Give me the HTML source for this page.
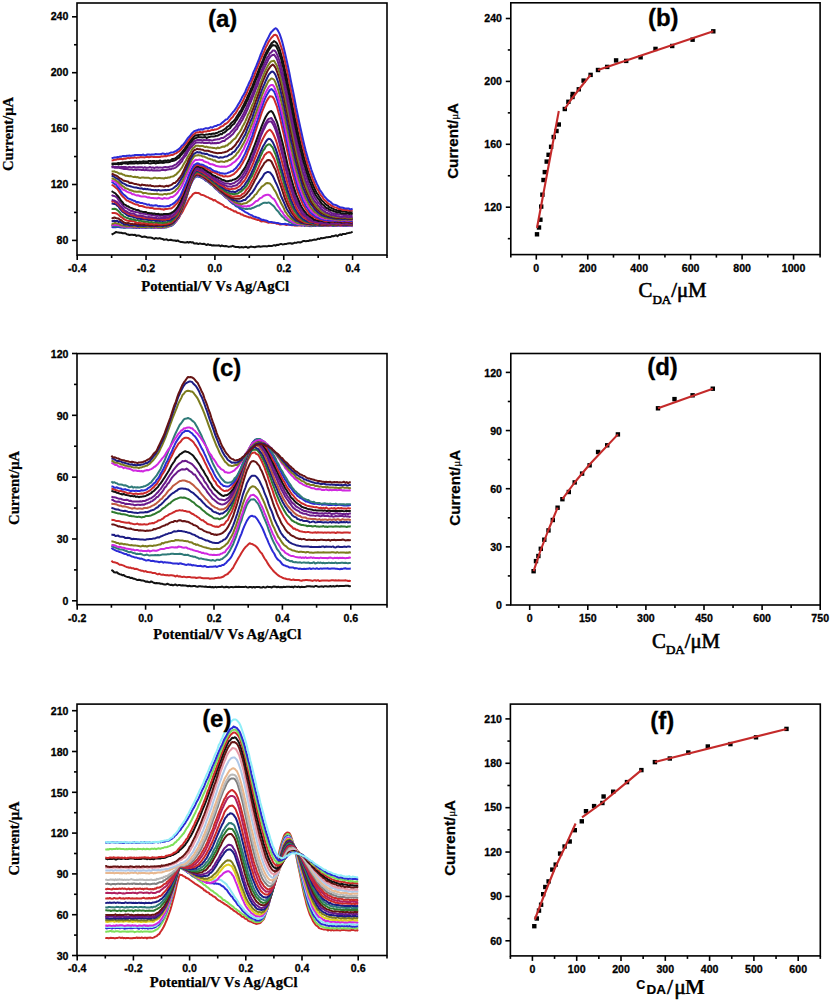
<!DOCTYPE html>
<html><head><meta charset="utf-8"><style>
html,body{margin:0;padding:0;background:#fff;}
body{width:831px;height:1000px;overflow:hidden;}
svg{display:block;}
.tk{font-family:"Liberation Sans", sans-serif;font-weight:bold;font-size:10.6px;fill:#000;stroke:#000;stroke-width:0.3px;}
.pl{font-family:"Liberation Sans", sans-serif;font-weight:bold;font-size:24px;fill:#000;stroke:#000;stroke-width:0.3px;}
.st{font-family:"Liberation Serif", serif;font-weight:bold;font-size:14.7px;fill:#000;stroke:#000;stroke-width:0.25px;}
.ss{font-family:"Liberation Sans", sans-serif;font-weight:bold;font-size:15.2px;fill:#000;stroke:#000;stroke-width:0.25px;}
.cx{font-family:"Liberation Serif", serif;font-size:20.8px;fill:#000;stroke:#000;stroke-width:0.6px;}
</style></head><body>
<svg width="831" height="1000" viewBox="0 0 831 1000">

<polyline points="111.6,234.7 113.0,233.8 114.4,233.2 115.8,232.0 117.1,232.3 118.5,232.5 119.9,232.8 121.3,232.8 122.6,233.3 124.0,233.3 125.4,233.3 126.8,234.3 128.1,234.5 129.5,235.0 130.9,234.7 132.3,234.7 133.7,234.9 135.0,234.8 136.4,235.9 137.8,235.4 139.2,235.6 140.5,236.2 141.9,237.0 143.3,236.8 144.7,236.6 146.1,236.9 147.4,237.6 148.8,237.5 150.2,237.4 151.6,237.8 152.9,238.3 154.3,238.9 155.7,238.0 157.1,238.4 158.4,238.5 159.8,238.1 161.2,238.8 162.6,238.9 164.0,239.8 165.3,239.6 166.7,239.2 168.1,240.2 169.5,240.0 170.8,239.7 172.2,240.3 173.6,240.4 175.0,240.5 176.3,241.0 177.7,240.4 179.1,241.3 180.5,241.9 181.9,242.0 183.2,242.2 184.6,242.4 186.0,242.6 187.4,241.9 188.7,242.7 190.1,241.9 191.5,242.5 192.9,242.2 194.2,243.4 195.6,243.6 197.0,243.3 198.4,244.1 199.8,243.4 201.1,243.8 202.5,244.0 203.9,243.7 205.3,244.4 206.6,245.1 208.0,244.2 209.4,245.0 210.8,244.8 212.1,245.6 213.5,245.3 214.9,245.5 216.3,245.6 217.7,245.6 219.0,245.2 220.4,246.3 221.8,245.4 223.2,246.1 224.5,246.3 225.9,246.0 227.3,246.4 228.7,246.9 230.0,246.6 231.4,246.4 232.8,245.8 234.2,246.6 235.6,246.9 236.9,247.0 238.3,247.0 239.7,247.5 241.1,247.1 242.4,247.2 243.8,247.4 245.2,246.8 246.6,247.0 247.9,247.8 249.3,247.3 250.7,246.5 252.1,246.8 253.5,247.0 254.8,247.2 256.2,246.7 257.6,246.4 259.0,246.3 260.3,246.7 261.7,246.6 263.1,246.2 264.5,246.3 265.8,246.2 267.2,246.4 268.6,245.8 270.0,246.0 271.4,246.0 272.7,245.7 274.1,245.1 275.5,245.7 276.9,244.8 278.2,245.0 279.6,244.4 281.0,243.9 282.4,244.4 283.8,244.3 285.1,244.0 286.5,243.9 287.9,243.4 289.3,243.2 290.6,243.3 292.0,243.8 293.4,243.3 294.8,242.6 296.1,242.9 297.5,242.3 298.9,242.2 300.3,242.5 301.7,241.8 303.0,241.1 304.4,241.1 305.8,241.2 307.2,241.0 308.5,241.1 309.9,240.2 311.3,240.4 312.7,240.1 314.0,239.6 315.4,239.7 316.8,239.4 318.2,238.6 319.6,239.1 320.9,238.0 322.3,238.2 323.7,237.9 325.1,237.8 326.4,237.2 327.8,237.2 329.2,236.9 330.6,237.0 331.9,236.1 333.3,236.2 334.7,235.8 336.1,235.2 337.5,236.3 338.8,235.1 340.2,234.3 341.6,235.0 343.0,233.9 344.3,234.1 345.7,234.0 347.1,233.2 348.5,233.0 349.8,232.7 351.2,232.5 352.6,231.7" fill="none" stroke="#111111" stroke-width="2.0" stroke-linejoin="round"/>
<polyline points="111.6,225.2 113.0,225.2 114.4,225.3 115.8,225.2 117.1,225.7 118.5,225.7 119.9,225.7 121.3,226.1 122.6,225.9 124.0,226.3 125.4,226.4 126.8,226.7 128.1,226.9 129.5,226.6 130.9,226.6 132.3,226.3 133.7,226.7 135.0,226.8 136.4,226.8 137.8,226.5 139.2,227.2 140.5,227.0 141.9,226.7 143.3,226.6 144.7,226.6 146.1,226.7 147.4,226.7 148.8,226.8 150.2,226.9 151.6,227.0 152.9,227.0 154.3,226.7 155.7,226.8 157.1,226.6 158.4,226.5 159.8,227.1 161.2,226.5 162.6,227.0 164.0,226.3 165.3,226.3 166.7,226.3 168.1,225.7 169.5,225.4 170.8,224.7 172.2,224.0 173.6,223.2 175.0,222.0 176.3,221.2 177.7,219.1 179.1,217.7 180.5,214.5 181.9,212.8 183.2,210.4 184.6,207.5 186.0,205.1 187.4,202.3 188.7,199.6 190.1,197.5 191.5,196.2 192.9,194.1 194.2,193.3 195.6,192.8 197.0,193.1 198.4,193.0 199.8,193.7 201.1,194.8 202.5,194.9 203.9,195.4 205.3,196.1 206.6,196.9 208.0,197.3 209.4,198.3 210.8,198.8 212.1,199.3 213.5,200.4 214.9,200.1 216.3,201.3 217.7,202.3 219.0,202.8 220.4,203.7 221.8,204.4 223.2,205.1 224.5,206.7 225.9,206.9 227.3,207.5 228.7,208.6 230.0,208.9 231.4,209.9 232.8,210.4 234.2,211.4 235.6,211.3 236.9,212.5 238.3,213.0 239.7,213.2 241.1,214.4 242.4,214.5 243.8,215.6 245.2,215.9 246.6,216.5 247.9,216.8 249.3,217.5 250.7,217.3 252.1,218.2 253.5,218.5 254.8,219.1 256.2,219.4 257.6,220.0 259.0,220.0 260.3,221.0 261.7,221.5 263.1,221.1 264.5,221.5 265.8,221.9 267.2,222.4 268.6,222.8 270.0,222.3 271.4,222.7 272.7,222.8 274.1,223.0 275.5,223.1 276.9,223.8 278.2,223.6 279.6,224.4 281.0,224.4 282.4,224.1 283.8,224.2 285.1,224.5 286.5,225.1 287.9,224.6 289.3,224.6 290.6,225.0 292.0,225.2 293.4,225.1 294.8,225.7 296.1,225.4 297.5,225.6 298.9,225.3 300.3,225.5 301.7,225.5 303.0,225.1 304.4,225.7 305.8,225.2 307.2,225.7 308.5,225.3 309.9,226.2 311.3,225.8 312.7,225.9 314.0,225.9 315.4,225.4 316.8,225.1 318.2,225.6 319.6,225.9 320.9,225.6 322.3,225.8 323.7,225.8 325.1,225.2 326.4,225.6 327.8,226.0 329.2,225.3 330.6,225.0 331.9,225.4 333.3,225.3 334.7,225.5 336.1,225.2 337.5,225.4 338.8,224.8 340.2,225.6 341.6,225.7 343.0,225.7 344.3,225.0 345.7,225.4 347.1,224.6 348.5,225.4 349.8,225.3 351.2,225.1 352.6,225.4" fill="none" stroke="#cc2a2a" stroke-width="2.0" stroke-linejoin="round"/>
<polyline points="111.6,227.0 113.0,227.3 114.4,227.1 115.8,227.2 117.1,226.7 118.5,226.9 119.9,227.2 121.3,227.4 122.6,227.4 124.0,227.8 125.4,227.2 126.8,227.4 128.1,227.5 129.5,227.4 130.9,227.6 132.3,227.4 133.7,227.9 135.0,227.5 136.4,227.9 137.8,227.6 139.2,228.0 140.5,227.3 141.9,227.8 143.3,227.6 144.7,227.7 146.1,228.0 147.4,227.4 148.8,227.4 150.2,227.5 151.6,227.8 152.9,227.3 154.3,227.7 155.7,227.4 157.1,227.4 158.4,227.6 159.8,227.8 161.2,227.5 162.6,227.4 164.0,227.5 165.3,227.2 166.7,226.4 168.1,226.6 169.5,226.3 170.8,226.0 172.2,225.4 173.6,224.0 175.0,222.5 176.3,220.6 177.7,218.8 179.1,216.5 180.5,213.7 181.9,209.9 183.2,206.6 184.6,202.8 186.0,199.0 187.4,194.4 188.7,190.1 190.1,186.2 191.5,182.9 192.9,179.9 194.2,178.1 195.6,176.8 197.0,176.3 198.4,176.7 199.8,176.7 201.1,177.6 202.5,178.1 203.9,179.1 205.3,180.3 206.6,181.0 208.0,181.5 209.4,183.0 210.8,184.1 212.1,185.0 213.5,186.4 214.9,188.0 216.3,189.4 217.7,190.1 219.0,191.7 220.4,193.0 221.8,193.6 223.2,195.1 224.5,196.3 225.9,197.6 227.3,198.3 228.7,199.8 230.0,201.3 231.4,202.5 232.8,203.7 234.2,204.2 235.6,205.8 236.9,206.5 238.3,207.0 239.7,208.5 241.1,209.1 242.4,210.2 243.8,210.9 245.2,212.1 246.6,212.7 247.9,213.3 249.3,214.4 250.7,214.9 252.1,215.4 253.5,216.5 254.8,216.7 256.2,217.2 257.6,217.8 259.0,218.1 260.3,218.8 261.7,219.9 263.1,219.7 264.5,220.3 265.8,220.4 267.2,220.9 268.6,221.8 270.0,222.0 271.4,221.9 272.7,222.4 274.1,222.4 275.5,222.7 276.9,222.9 278.2,223.1 279.6,223.6 281.0,223.9 282.4,224.0 283.8,224.0 285.1,223.8 286.5,224.3 287.9,224.2 289.3,224.7 290.6,224.7 292.0,224.9 293.4,224.7 294.8,224.4 296.1,225.2 297.5,225.3 298.9,224.7 300.3,225.1 301.7,225.5 303.0,224.9 304.4,225.7 305.8,225.2 307.2,225.1 308.5,225.7 309.9,225.5 311.3,225.3 312.7,225.7 314.0,225.0 315.4,226.0 316.8,225.3 318.2,225.6 319.6,225.5 320.9,225.7 322.3,225.9 323.7,225.4 325.1,225.9 326.4,225.6 327.8,225.5 329.2,225.7 330.6,225.5 331.9,225.5 333.3,226.0 334.7,225.7 336.1,226.1 337.5,225.9 338.8,225.5 340.2,225.3 341.6,225.6 343.0,225.9 344.3,225.8 345.7,225.6 347.1,226.1 348.5,225.4 349.8,225.5 351.2,225.9 352.6,226.4" fill="none" stroke="#2b2bd6" stroke-width="2.0" stroke-linejoin="round"/>
<polyline points="111.6,226.3 113.0,225.8 114.4,226.2 115.8,226.2 117.1,226.4 118.5,226.2 119.9,226.3 121.3,226.8 122.6,227.0 124.0,227.5 125.4,227.7 126.8,227.0 128.1,227.2 129.5,227.3 130.9,227.3 132.3,227.5 133.7,227.6 135.0,227.5 136.4,227.8 137.8,227.5 139.2,227.3 140.5,227.2 141.9,227.3 143.3,227.3 144.7,227.1 146.1,227.8 147.4,227.7 148.8,227.5 150.2,227.4 151.6,227.3 152.9,227.4 154.3,228.1 155.7,227.1 157.1,227.7 158.4,227.9 159.8,227.7 161.2,227.5 162.6,227.7 164.0,227.2 165.3,227.4 166.7,227.4 168.1,226.5 169.5,226.1 170.8,225.7 172.2,225.1 173.6,224.1 175.0,222.6 176.3,220.6 177.7,218.4 179.1,216.2 180.5,213.4 181.9,209.7 183.2,206.4 184.6,202.5 186.0,198.6 187.4,193.8 188.7,190.1 190.1,185.8 191.5,182.5 192.9,179.7 194.2,177.9 195.6,177.0 197.0,175.8 198.4,176.1 199.8,176.7 201.1,176.7 202.5,178.0 203.9,178.4 205.3,180.0 206.6,181.0 208.0,181.8 209.4,182.5 210.8,184.3 212.1,185.1 213.5,186.3 214.9,187.6 216.3,188.3 217.7,190.0 219.0,191.4 220.4,192.5 221.8,193.7 223.2,194.6 224.5,196.2 225.9,197.3 227.3,198.4 228.7,199.4 230.0,200.8 231.4,202.0 232.8,202.8 234.2,203.9 235.6,204.9 236.9,205.8 238.3,206.2 239.7,206.8 241.1,207.4 242.4,208.0 243.8,208.5 245.2,208.9 246.6,208.7 247.9,208.9 249.3,208.5 250.7,208.9 252.1,208.1 253.5,207.8 254.8,207.0 256.2,206.5 257.6,205.7 259.0,205.6 260.3,204.6 261.7,203.8 263.1,203.0 264.5,202.7 265.8,202.7 267.2,202.9 268.6,202.4 270.0,203.1 271.4,204.3 272.7,205.3 274.1,206.5 275.5,208.5 276.9,210.3 278.2,211.4 279.6,213.5 281.0,215.2 282.4,216.7 283.8,217.7 285.1,219.6 286.5,220.3 287.9,220.8 289.3,222.1 290.6,222.2 292.0,223.3 293.4,223.2 294.8,224.1 296.1,224.0 297.5,224.7 298.9,224.7 300.3,224.8 301.7,224.8 303.0,225.2 304.4,224.5 305.8,225.2 307.2,225.2 308.5,225.3 309.9,225.4 311.3,226.2 312.7,225.3 314.0,225.5 315.4,225.3 316.8,225.7 318.2,224.9 319.6,225.8 320.9,225.2 322.3,224.9 323.7,225.2 325.1,225.4 326.4,225.5 327.8,225.5 329.2,225.7 330.6,225.5 331.9,225.5 333.3,225.0 334.7,225.7 336.1,225.8 337.5,225.4 338.8,225.1 340.2,225.2 341.6,226.0 343.0,225.4 344.3,225.4 345.7,225.4 347.1,225.8 348.5,225.5 349.8,225.4 351.2,225.2 352.6,225.6" fill="none" stroke="#2f7a78" stroke-width="2.0" stroke-linejoin="round"/>
<polyline points="111.6,225.4 113.0,225.0 114.4,225.1 115.8,224.9 117.1,225.0 118.5,225.3 119.9,225.6 121.3,226.2 122.6,226.4 124.0,226.4 125.4,226.7 126.8,226.8 128.1,227.0 129.5,227.0 130.9,227.1 132.3,226.7 133.7,227.2 135.0,227.4 136.4,226.8 137.8,227.6 139.2,227.3 140.5,227.2 141.9,226.8 143.3,227.5 144.7,227.0 146.1,227.2 147.4,227.4 148.8,227.1 150.2,227.1 151.6,227.1 152.9,227.3 154.3,227.5 155.7,227.5 157.1,227.5 158.4,227.3 159.8,227.4 161.2,227.1 162.6,227.7 164.0,227.2 165.3,226.5 166.7,226.5 168.1,226.8 169.5,225.6 170.8,225.3 172.2,224.6 173.6,223.2 175.0,222.4 176.3,220.8 177.7,218.1 179.1,216.1 180.5,212.8 181.9,209.4 183.2,206.1 184.6,202.1 186.0,197.8 187.4,193.9 188.7,189.2 190.1,185.5 191.5,181.9 192.9,179.5 194.2,177.3 195.6,175.9 197.0,175.0 198.4,175.6 199.8,176.1 201.1,176.3 202.5,177.2 203.9,178.4 205.3,179.4 206.6,180.3 208.0,181.4 209.4,182.4 210.8,183.5 212.1,184.6 213.5,185.6 214.9,187.0 216.3,188.2 217.7,190.1 219.0,190.8 220.4,192.0 221.8,193.2 223.2,194.4 224.5,195.5 225.9,196.9 227.3,197.9 228.7,199.2 230.0,199.9 231.4,201.2 232.8,202.3 234.2,202.6 235.6,203.8 236.9,204.5 238.3,205.0 239.7,205.5 241.1,205.6 242.4,206.7 243.8,206.3 245.2,206.2 246.6,206.6 247.9,205.7 249.3,206.0 250.7,205.3 252.1,204.6 253.5,203.5 254.8,202.3 256.2,201.1 257.6,200.8 259.0,199.2 260.3,198.1 261.7,197.6 263.1,196.2 264.5,195.5 265.8,195.0 267.2,194.8 268.6,194.8 270.0,195.5 271.4,197.1 272.7,198.4 274.1,199.2 275.5,201.4 276.9,204.1 278.2,206.2 279.6,208.2 281.0,210.7 282.4,212.0 283.8,214.6 285.1,216.0 286.5,217.6 287.9,218.9 289.3,220.2 290.6,220.9 292.0,221.6 293.4,222.6 294.8,223.0 296.1,223.1 297.5,224.1 298.9,224.3 300.3,224.6 301.7,224.4 303.0,224.7 304.4,224.6 305.8,224.5 307.2,224.9 308.5,224.9 309.9,224.8 311.3,225.4 312.7,224.6 314.0,224.8 315.4,224.9 316.8,225.4 318.2,225.1 319.6,225.1 320.9,225.0 322.3,225.0 323.7,224.9 325.1,225.5 326.4,225.4 327.8,225.5 329.2,225.1 330.6,225.9 331.9,225.0 333.3,224.8 334.7,225.2 336.1,225.4 337.5,225.5 338.8,225.1 340.2,225.5 341.6,225.8 343.0,225.1 344.3,225.2 345.7,224.9 347.1,225.4 348.5,225.6 349.8,225.6 351.2,225.6 352.6,225.7" fill="none" stroke="#d028e0" stroke-width="2.0" stroke-linejoin="round"/>
<polyline points="111.6,223.9 113.0,223.8 114.4,223.1 115.8,223.1 117.1,223.5 118.5,223.7 119.9,224.5 121.3,225.2 122.6,225.4 124.0,225.5 125.4,225.8 126.8,226.4 128.1,226.0 129.5,226.3 130.9,226.3 132.3,226.4 133.7,226.7 135.0,226.4 136.4,226.2 137.8,227.0 139.2,226.7 140.5,226.9 141.9,226.7 143.3,226.9 144.7,227.1 146.1,227.1 147.4,226.7 148.8,226.7 150.2,226.9 151.6,226.9 152.9,227.0 154.3,226.7 155.7,226.3 157.1,227.0 158.4,227.1 159.8,227.0 161.2,227.3 162.6,227.0 164.0,226.6 165.3,226.8 166.7,226.3 168.1,226.3 169.5,225.6 170.8,225.0 172.2,224.2 173.6,223.1 175.0,221.3 176.3,220.0 177.7,217.3 179.1,215.6 180.5,212.8 181.9,209.8 183.2,205.7 184.6,201.5 186.0,197.1 187.4,193.8 188.7,188.8 190.1,185.5 191.5,181.2 192.9,178.9 194.2,176.8 195.6,175.4 197.0,174.8 198.4,174.9 199.8,175.4 201.1,176.5 202.5,177.1 203.9,177.8 205.3,178.8 206.6,179.5 208.0,181.1 209.4,182.2 210.8,182.9 212.1,184.3 213.5,185.7 214.9,186.5 216.3,188.4 217.7,189.5 219.0,190.2 220.4,191.8 221.8,193.1 223.2,193.6 224.5,195.2 225.9,196.1 227.3,197.2 228.7,198.5 230.0,199.2 231.4,199.9 232.8,200.7 234.2,201.8 235.6,202.6 236.9,203.0 238.3,203.4 239.7,203.7 241.1,204.2 242.4,204.0 243.8,203.4 245.2,203.2 246.6,203.0 247.9,201.8 249.3,200.9 250.7,199.9 252.1,198.3 253.5,197.3 254.8,195.0 256.2,194.2 257.6,192.0 259.0,190.0 260.3,188.7 261.7,186.6 263.1,185.8 264.5,184.7 265.8,183.5 267.2,183.0 268.6,183.3 270.0,183.6 271.4,185.1 272.7,187.0 274.1,189.6 275.5,191.6 276.9,194.5 278.2,197.6 279.6,199.7 281.0,203.1 282.4,205.5 283.8,208.1 285.1,211.5 286.5,213.2 287.9,215.5 289.3,216.8 290.6,218.4 292.0,219.4 293.4,220.4 294.8,221.4 296.1,222.2 297.5,223.1 298.9,223.1 300.3,223.7 301.7,223.8 303.0,224.1 304.4,223.9 305.8,224.7 307.2,224.4 308.5,224.6 309.9,224.6 311.3,225.0 312.7,224.9 314.0,224.8 315.4,224.9 316.8,225.0 318.2,225.1 319.6,225.0 320.9,225.3 322.3,225.4 323.7,225.1 325.1,224.7 326.4,225.4 327.8,225.6 329.2,224.9 330.6,224.9 331.9,224.5 333.3,225.3 334.7,224.8 336.1,225.5 337.5,224.5 338.8,225.1 340.2,225.3 341.6,225.0 343.0,224.9 344.3,225.2 345.7,225.0 347.1,225.1 348.5,225.1 349.8,225.0 351.2,225.1 352.6,225.4" fill="none" stroke="#7c7c1e" stroke-width="2.0" stroke-linejoin="round"/>
<polyline points="111.6,221.3 113.0,221.1 114.4,220.7 115.8,221.1 117.1,220.8 118.5,221.9 119.9,221.6 121.3,222.8 122.6,223.3 124.0,224.4 125.4,224.6 126.8,224.4 128.1,224.8 129.5,225.4 130.9,225.1 132.3,225.4 133.7,225.0 135.0,225.0 136.4,225.6 137.8,226.1 139.2,225.5 140.5,225.8 141.9,225.5 143.3,226.1 144.7,225.7 146.1,225.7 147.4,225.4 148.8,225.8 150.2,226.0 151.6,226.3 152.9,225.7 154.3,226.3 155.7,226.0 157.1,226.0 158.4,225.8 159.8,225.6 161.2,225.7 162.6,226.4 164.0,225.6 165.3,225.6 166.7,225.8 168.1,224.7 169.5,224.9 170.8,224.0 172.2,223.4 173.6,222.5 175.0,220.9 176.3,219.2 177.7,217.4 179.1,214.9 180.5,211.7 181.9,208.6 183.2,204.6 184.6,201.4 186.0,196.6 187.4,192.8 188.7,189.1 190.1,185.0 191.5,181.2 192.9,178.2 194.2,176.1 195.6,175.1 197.0,174.5 198.4,174.7 199.8,175.8 201.1,175.6 202.5,176.4 203.9,177.3 205.3,178.4 206.6,179.4 208.0,180.3 209.4,181.6 210.8,182.7 212.1,183.7 213.5,184.3 214.9,186.3 216.3,187.1 217.7,188.4 219.0,189.7 220.4,190.6 221.8,191.9 223.2,193.2 224.5,194.2 225.9,195.4 227.3,196.2 228.7,197.3 230.0,197.9 231.4,198.9 232.8,199.8 234.2,200.2 235.6,200.4 236.9,201.1 238.3,201.4 239.7,201.6 241.1,201.2 242.4,200.7 243.8,200.0 245.2,200.0 246.6,198.3 247.9,197.1 249.3,195.9 250.7,193.9 252.1,192.8 253.5,190.6 254.8,188.6 256.2,186.0 257.6,183.8 259.0,181.9 260.3,179.7 261.7,178.2 263.1,175.9 264.5,173.6 265.8,172.8 267.2,172.0 268.6,172.1 270.0,172.5 271.4,174.1 272.7,175.9 274.1,178.8 275.5,182.0 276.9,184.8 278.2,187.9 279.6,191.7 281.0,195.9 282.4,199.0 283.8,202.2 285.1,205.2 286.5,208.5 287.9,210.9 289.3,213.0 290.6,214.9 292.0,216.8 293.4,218.2 294.8,219.6 296.1,220.8 297.5,220.9 298.9,221.7 300.3,222.6 301.7,223.1 303.0,223.0 304.4,223.5 305.8,223.8 307.2,223.9 308.5,224.1 309.9,224.3 311.3,224.6 312.7,224.6 314.0,224.6 315.4,224.6 316.8,224.4 318.2,224.5 319.6,224.8 320.9,224.7 322.3,224.9 323.7,224.8 325.1,224.8 326.4,224.9 327.8,224.4 329.2,224.8 330.6,224.7 331.9,225.0 333.3,224.7 334.7,224.9 336.1,224.7 337.5,225.0 338.8,225.0 340.2,224.8 341.6,224.9 343.0,224.9 344.3,225.1 345.7,224.8 347.1,224.9 348.5,224.8 349.8,224.7 351.2,225.0 352.6,225.0" fill="none" stroke="#1c1c84" stroke-width="2.0" stroke-linejoin="round"/>
<polyline points="111.6,217.9 113.0,218.2 114.4,217.5 115.8,218.0 117.1,218.3 118.5,218.5 119.9,219.8 121.3,220.3 122.6,221.5 124.0,222.4 125.4,223.1 126.8,223.2 128.1,222.9 129.5,223.4 130.9,224.0 132.3,223.8 133.7,224.4 135.0,223.9 136.4,224.0 137.8,223.9 139.2,224.3 140.5,224.8 141.9,224.3 143.3,224.8 144.7,224.8 146.1,225.0 147.4,224.8 148.8,224.9 150.2,225.5 151.6,224.7 152.9,225.2 154.3,225.5 155.7,225.2 157.1,225.6 158.4,224.4 159.8,225.1 161.2,224.9 162.6,225.0 164.0,225.0 165.3,225.0 166.7,224.5 168.1,224.6 169.5,223.6 170.8,223.6 172.2,222.5 173.6,221.1 175.0,219.7 176.3,218.1 177.7,216.2 179.1,214.1 180.5,211.5 181.9,208.1 183.2,204.0 184.6,199.9 186.0,196.3 187.4,191.8 188.7,188.1 190.1,184.1 191.5,181.5 192.9,177.5 194.2,175.9 195.6,174.9 197.0,173.9 198.4,174.0 199.8,175.1 201.1,174.8 202.5,175.7 203.9,176.6 205.3,178.0 206.6,179.0 208.0,179.8 209.4,181.5 210.8,182.0 212.1,183.2 213.5,184.3 214.9,185.9 216.3,186.7 217.7,187.8 219.0,189.5 220.4,190.5 221.8,191.6 223.2,192.1 224.5,193.2 225.9,194.4 227.3,195.3 228.7,196.1 230.0,196.9 231.4,197.8 232.8,197.9 234.2,198.6 235.6,198.7 236.9,198.8 238.3,198.8 239.7,198.7 241.1,198.1 242.4,197.2 243.8,196.5 245.2,195.3 246.6,194.0 247.9,192.1 249.3,190.5 250.7,188.3 252.1,185.6 253.5,183.0 254.8,180.3 256.2,178.0 257.6,175.0 259.0,172.3 260.3,169.6 261.7,167.4 263.1,165.3 264.5,162.8 265.8,161.7 267.2,160.3 268.6,160.0 270.0,160.2 271.4,161.5 272.7,164.2 274.1,167.3 275.5,169.9 276.9,174.1 278.2,178.3 279.6,182.6 281.0,186.4 282.4,190.7 283.8,195.1 285.1,199.2 286.5,202.3 287.9,205.8 289.3,208.5 290.6,211.2 292.0,213.2 293.4,215.2 294.8,216.8 296.1,218.4 297.5,219.9 298.9,220.6 300.3,221.5 301.7,221.8 303.0,222.7 304.4,222.1 305.8,222.9 307.2,223.4 308.5,223.3 309.9,224.0 311.3,224.1 312.7,223.9 314.0,224.2 315.4,223.9 316.8,224.1 318.2,224.3 319.6,224.0 320.9,224.7 322.3,224.3 323.7,224.7 325.1,224.5 326.4,224.6 327.8,224.3 329.2,224.5 330.6,224.5 331.9,224.7 333.3,225.0 334.7,224.5 336.1,224.6 337.5,224.7 338.8,224.9 340.2,224.6 341.6,224.6 343.0,224.5 344.3,224.7 345.7,224.7 347.1,224.5 348.5,224.6 349.8,224.9 351.2,224.7 352.6,224.6" fill="none" stroke="#661414" stroke-width="2.0" stroke-linejoin="round"/>
<polyline points="111.6,213.0 113.0,212.9 114.4,213.0 115.8,213.3 117.1,213.7 118.5,214.8 119.9,216.1 121.3,217.2 122.6,217.9 124.0,219.2 125.4,219.9 126.8,220.5 128.1,220.7 129.5,221.1 130.9,220.9 132.3,221.3 133.7,221.1 135.0,222.0 136.4,222.7 137.8,222.9 139.2,222.4 140.5,223.0 141.9,223.3 143.3,223.1 144.7,222.8 146.1,223.8 147.4,223.4 148.8,223.5 150.2,224.1 151.6,223.9 152.9,224.1 154.3,224.4 155.7,224.0 157.1,223.8 158.4,224.3 159.8,224.2 161.2,224.4 162.6,224.3 164.0,223.9 165.3,224.0 166.7,223.7 168.1,223.4 169.5,223.1 170.8,222.6 172.2,221.8 173.6,220.4 175.0,219.5 176.3,217.3 177.7,216.2 179.1,213.0 180.5,210.3 181.9,207.4 183.2,203.4 184.6,199.3 186.0,195.1 187.4,191.4 188.7,187.3 190.1,183.6 191.5,180.0 192.9,176.9 194.2,175.0 195.6,173.9 197.0,172.9 198.4,174.2 199.8,173.7 201.1,174.7 202.5,175.7 203.9,176.3 205.3,177.0 206.6,178.1 208.0,179.3 209.4,179.4 210.8,181.3 212.1,182.2 213.5,183.3 214.9,184.6 216.3,185.8 217.7,187.0 219.0,187.9 220.4,189.5 221.8,189.7 223.2,191.0 224.5,192.0 225.9,193.2 227.3,193.9 228.7,194.9 230.0,195.2 231.4,196.3 232.8,196.5 234.2,196.5 235.6,196.3 236.9,196.3 238.3,196.0 239.7,196.2 241.1,195.4 242.4,193.9 243.8,193.5 245.2,191.6 246.6,189.4 247.9,188.3 249.3,186.2 250.7,183.5 252.1,180.7 253.5,178.4 254.8,175.1 256.2,172.2 257.6,169.3 259.0,166.2 260.3,163.1 261.7,160.1 263.1,158.0 264.5,155.1 265.8,153.9 267.2,152.6 268.6,152.1 270.0,152.2 271.4,153.8 272.7,156.2 274.1,158.7 275.5,162.5 276.9,166.5 278.2,170.4 279.6,175.0 281.0,180.2 282.4,184.7 283.8,188.7 285.1,193.3 286.5,197.2 287.9,201.2 289.3,204.5 290.6,206.7 292.0,209.9 293.4,212.7 294.8,214.8 296.1,216.0 297.5,217.4 298.9,219.0 300.3,219.8 301.7,220.8 303.0,221.2 304.4,222.3 305.8,222.7 307.2,223.0 308.5,222.9 309.9,223.0 311.3,223.3 312.7,223.9 314.0,223.4 315.4,224.1 316.8,224.5 318.2,223.9 319.6,224.1 320.9,224.4 322.3,224.4 323.7,224.1 325.1,224.2 326.4,224.3 327.8,224.3 329.2,224.5 330.6,224.4 331.9,224.7 333.3,224.0 334.7,224.7 336.1,224.6 337.5,224.4 338.8,224.5 340.2,224.7 341.6,224.5 343.0,224.4 344.3,224.5 345.7,224.3 347.1,224.1 348.5,224.3 349.8,224.3 351.2,224.5 352.6,224.7" fill="none" stroke="#cc2a2a" stroke-width="2.0" stroke-linejoin="round"/>
<polyline points="111.6,208.7 113.0,209.1 114.4,208.8 115.8,209.1 117.1,209.9 118.5,211.1 119.9,212.6 121.3,214.5 122.6,215.0 124.0,216.6 125.4,217.2 126.8,218.0 128.1,218.2 129.5,218.9 130.9,219.0 132.3,219.6 133.7,219.2 135.0,220.1 136.4,220.4 137.8,220.1 139.2,220.9 140.5,220.6 141.9,221.3 143.3,221.3 144.7,221.6 146.1,221.7 147.4,221.4 148.8,222.3 150.2,222.3 151.6,221.9 152.9,222.4 154.3,222.4 155.7,222.2 157.1,222.2 158.4,222.9 159.8,222.5 161.2,222.8 162.6,223.1 164.0,222.7 165.3,222.2 166.7,222.5 168.1,221.6 169.5,221.4 170.8,221.8 172.2,220.1 173.6,219.3 175.0,217.7 176.3,216.2 177.7,214.3 179.1,211.2 180.5,208.9 181.9,206.0 183.2,202.4 184.6,198.4 186.0,194.1 187.4,190.3 188.7,186.0 190.1,182.1 191.5,178.9 192.9,176.6 194.2,173.6 195.6,172.8 197.0,172.1 198.4,172.0 199.8,172.6 201.1,173.4 202.5,174.1 203.9,175.1 205.3,175.7 206.6,176.6 208.0,178.2 209.4,179.0 210.8,179.9 212.1,181.2 213.5,182.8 214.9,183.3 216.3,184.2 217.7,185.9 219.0,187.2 220.4,188.1 221.8,188.5 223.2,189.3 224.5,191.0 225.9,191.5 227.3,192.4 228.7,192.8 230.0,193.8 231.4,193.8 232.8,194.0 234.2,194.2 235.6,193.8 236.9,193.8 238.3,193.3 239.7,192.1 241.1,191.5 242.4,190.3 243.8,188.8 245.2,187.6 246.6,185.9 247.9,183.6 249.3,180.7 250.7,178.1 252.1,175.9 253.5,172.6 254.8,169.6 256.2,166.1 257.6,162.6 259.0,160.4 260.3,156.6 261.7,153.7 263.1,150.7 264.5,149.0 265.8,146.5 267.2,145.1 268.6,144.3 270.0,144.4 271.4,146.1 272.7,147.5 274.1,151.1 275.5,154.3 276.9,158.5 278.2,162.9 279.6,167.9 281.0,172.3 282.4,177.4 283.8,182.5 285.1,186.9 286.5,191.3 287.9,195.7 289.3,199.5 290.6,202.9 292.0,206.1 293.4,208.7 294.8,211.6 296.1,213.2 297.5,214.9 298.9,217.0 300.3,217.9 301.7,219.1 303.0,220.2 304.4,221.1 305.8,221.4 307.2,222.0 308.5,222.4 309.9,222.9 311.3,222.9 312.7,223.3 314.0,223.8 315.4,223.5 316.8,223.6 318.2,223.5 319.6,223.6 320.9,223.6 322.3,223.6 323.7,223.8 325.1,224.1 326.4,224.1 327.8,223.9 329.2,224.1 330.6,223.8 331.9,224.6 333.3,224.7 334.7,224.1 336.1,224.3 337.5,224.2 338.8,224.4 340.2,224.0 341.6,223.8 343.0,224.4 344.3,223.9 345.7,224.3 347.1,224.0 348.5,224.0 349.8,224.5 351.2,224.6 352.6,224.2" fill="none" stroke="#2e7a2e" stroke-width="2.0" stroke-linejoin="round"/>
<polyline points="111.6,203.4 113.0,203.8 114.4,203.9 115.8,204.2 117.1,205.7 118.5,206.5 119.9,208.8 121.3,210.3 122.6,211.9 124.0,212.7 125.4,213.8 126.8,214.9 128.1,215.7 129.5,216.1 130.9,216.4 132.3,216.5 133.7,217.3 135.0,217.5 136.4,217.8 137.8,218.5 139.2,218.2 140.5,219.1 141.9,218.8 143.3,219.0 144.7,219.4 146.1,219.3 147.4,219.7 148.8,220.0 150.2,219.7 151.6,220.0 152.9,220.0 154.3,220.4 155.7,220.9 157.1,220.6 158.4,220.8 159.8,220.9 161.2,220.6 162.6,221.0 164.0,220.8 165.3,220.6 166.7,220.2 168.1,220.2 169.5,220.3 170.8,219.7 172.2,218.6 173.6,217.7 175.0,216.3 176.3,214.5 177.7,212.3 179.1,210.8 180.5,207.4 181.9,204.5 183.2,201.3 184.6,197.0 186.0,193.0 187.4,189.0 188.7,184.9 190.1,181.2 191.5,177.7 192.9,175.2 194.2,173.0 195.6,171.2 197.0,170.7 198.4,171.2 199.8,171.7 201.1,172.2 202.5,173.4 203.9,173.8 205.3,174.8 206.6,175.9 208.0,176.3 209.4,178.0 210.8,179.1 212.1,180.4 213.5,180.9 214.9,182.1 216.3,183.3 217.7,184.2 219.0,185.0 220.4,186.6 221.8,187.2 223.2,188.3 224.5,188.8 225.9,190.0 227.3,190.3 228.7,190.8 230.0,191.5 231.4,191.9 232.8,191.5 234.2,192.0 235.6,191.9 236.9,191.2 238.3,190.1 239.7,189.8 241.1,188.9 242.4,187.0 243.8,186.2 245.2,183.9 246.6,181.9 247.9,180.0 249.3,177.2 250.7,174.8 252.1,171.5 253.5,168.6 254.8,165.3 256.2,162.0 257.6,158.8 259.0,155.5 260.3,152.1 261.7,149.3 263.1,146.2 264.5,144.0 265.8,141.7 267.2,139.9 268.6,138.8 270.0,138.9 271.4,140.3 272.7,142.1 274.1,145.1 275.5,148.4 276.9,152.4 278.2,156.8 279.6,161.3 281.0,166.8 282.4,171.8 283.8,176.8 285.1,181.9 286.5,186.1 287.9,191.2 289.3,194.6 290.6,198.9 292.0,202.0 293.4,205.4 294.8,208.5 296.1,210.3 297.5,212.9 298.9,214.7 300.3,216.3 301.7,217.7 303.0,219.0 304.4,219.8 305.8,220.6 307.2,221.4 308.5,221.8 309.9,222.1 311.3,222.1 312.7,222.9 314.0,222.9 315.4,223.5 316.8,223.1 318.2,223.1 319.6,223.8 320.9,223.4 322.3,223.3 323.7,224.0 325.1,223.4 326.4,224.1 327.8,223.6 329.2,223.9 330.6,223.9 331.9,223.4 333.3,223.9 334.7,223.8 336.1,224.0 337.5,224.1 338.8,224.3 340.2,223.9 341.6,223.9 343.0,224.5 344.3,224.2 345.7,224.2 347.1,223.6 348.5,223.7 349.8,223.9 351.2,224.0 352.6,224.1" fill="none" stroke="#1c1c84" stroke-width="2.0" stroke-linejoin="round"/>
<polyline points="111.6,202.1 113.0,201.3 114.4,201.8 115.8,202.7 117.1,203.7 118.5,205.4 119.9,206.8 121.3,208.3 122.6,210.6 124.0,211.5 125.4,212.0 126.8,213.0 128.1,213.7 129.5,213.9 130.9,215.0 132.3,215.2 133.7,215.5 135.0,215.8 136.4,216.7 137.8,216.6 139.2,216.7 140.5,216.7 141.9,217.2 143.3,217.9 144.7,218.3 146.1,217.8 147.4,217.8 148.8,218.5 150.2,218.6 151.6,219.0 152.9,218.7 154.3,219.1 155.7,218.7 157.1,219.0 158.4,219.2 159.8,219.3 161.2,219.6 162.6,219.8 164.0,219.1 165.3,219.8 166.7,219.0 168.1,218.9 169.5,218.9 170.8,217.4 172.2,216.9 173.6,216.1 175.0,215.1 176.3,213.7 177.7,211.7 179.1,208.9 180.5,206.5 181.9,203.1 183.2,200.1 184.6,195.8 186.0,192.2 187.4,187.6 188.7,184.1 190.1,179.8 191.5,176.8 192.9,173.6 194.2,171.8 195.6,170.3 197.0,169.9 198.4,170.4 199.8,171.0 201.1,171.5 202.5,172.2 203.9,173.1 205.3,174.1 206.6,175.0 208.0,175.8 209.4,177.2 210.8,177.6 212.1,179.0 213.5,179.6 214.9,181.5 216.3,181.9 217.7,183.0 219.0,184.2 220.4,184.8 221.8,185.5 223.2,186.0 224.5,187.1 225.9,188.3 227.3,188.4 228.7,189.1 230.0,189.2 231.4,189.0 232.8,188.7 234.2,188.8 235.6,188.6 236.9,187.8 238.3,187.0 239.7,186.1 241.1,184.6 242.4,182.8 243.8,181.3 245.2,179.5 246.6,176.9 247.9,174.3 249.3,171.6 250.7,168.8 252.1,165.7 253.5,162.4 254.8,158.7 256.2,155.5 257.6,151.7 259.0,148.1 260.3,144.4 261.7,141.3 263.1,138.4 264.5,135.8 265.8,133.5 267.2,131.6 268.6,130.4 270.0,129.7 271.4,131.1 272.7,133.0 274.1,135.8 275.5,139.1 276.9,143.3 278.2,147.9 279.6,152.6 281.0,158.1 282.4,163.2 283.8,168.5 285.1,174.4 286.5,179.5 287.9,184.5 289.3,188.8 290.6,193.3 292.0,197.4 293.4,200.8 294.8,203.6 296.1,207.6 297.5,209.9 298.9,212.1 300.3,213.8 301.7,215.2 303.0,216.9 304.4,218.1 305.8,218.7 307.2,219.8 308.5,220.7 309.9,221.6 311.3,221.8 312.7,221.9 314.0,222.0 315.4,223.1 316.8,222.8 318.2,223.2 319.6,223.1 320.9,222.9 322.3,223.8 323.7,223.5 325.1,223.7 326.4,223.3 327.8,223.5 329.2,223.9 330.6,223.5 331.9,223.4 333.3,223.4 334.7,223.3 336.1,223.9 337.5,223.7 338.8,223.3 340.2,224.1 341.6,224.1 343.0,224.0 344.3,223.3 345.7,223.8 347.1,224.1 348.5,223.5 349.8,223.6 351.2,223.7 352.6,223.3" fill="none" stroke="#cc2a2a" stroke-width="2.0" stroke-linejoin="round"/>
<polyline points="111.6,199.9 113.0,200.3 114.4,200.5 115.8,201.4 117.1,202.1 118.5,203.6 119.9,205.3 121.3,206.9 122.6,208.3 124.0,209.7 125.4,210.9 126.8,211.5 128.1,212.3 129.5,212.9 130.9,213.5 132.3,213.6 133.7,213.6 135.0,214.3 136.4,215.3 137.8,215.4 139.2,215.4 140.5,215.7 141.9,216.0 143.3,216.1 144.7,216.5 146.1,216.9 147.4,217.2 148.8,217.0 150.2,217.2 151.6,217.3 152.9,217.5 154.3,217.9 155.7,217.6 157.1,218.4 158.4,218.1 159.8,218.3 161.2,217.9 162.6,218.0 164.0,217.9 165.3,218.0 166.7,217.3 168.1,217.7 169.5,216.8 170.8,216.8 172.2,216.2 173.6,214.9 175.0,213.7 176.3,212.1 177.7,210.1 179.1,207.9 180.5,205.3 181.9,202.1 183.2,198.9 184.6,194.7 186.0,190.6 187.4,186.6 188.7,182.5 190.1,179.0 191.5,175.6 192.9,173.4 194.2,171.0 195.6,170.0 197.0,168.7 198.4,169.5 199.8,170.1 201.1,170.5 202.5,171.0 203.9,172.0 205.3,172.8 206.6,173.7 208.0,174.7 209.4,175.8 210.8,176.6 212.1,177.7 213.5,178.6 214.9,179.7 216.3,180.4 217.7,181.6 219.0,182.3 220.4,183.4 221.8,183.8 223.2,184.6 224.5,185.2 225.9,185.5 227.3,186.4 228.7,186.5 230.0,186.5 231.4,186.8 232.8,186.1 234.2,185.8 235.6,185.5 236.9,185.0 238.3,183.4 239.7,182.6 241.1,180.7 242.4,178.7 243.8,177.0 245.2,175.0 246.6,172.2 247.9,169.6 249.3,166.2 250.7,162.7 252.1,160.0 253.5,156.0 254.8,152.7 256.2,148.8 257.6,145.3 259.0,141.7 260.3,137.4 261.7,134.2 263.1,130.9 264.5,128.3 265.8,125.4 267.2,123.1 268.6,121.7 270.0,121.6 271.4,121.6 272.7,123.6 274.1,126.4 275.5,129.6 276.9,133.9 278.2,138.3 279.6,143.8 281.0,149.6 282.4,155.1 283.8,160.3 285.1,166.8 286.5,171.6 287.9,177.1 289.3,182.8 290.6,187.3 292.0,191.7 293.4,196.2 294.8,199.5 296.1,203.0 297.5,205.7 298.9,208.5 300.3,210.8 301.7,213.2 303.0,214.5 304.4,216.1 305.8,216.8 307.2,218.0 308.5,219.5 309.9,220.0 311.3,220.6 312.7,221.4 314.0,221.6 315.4,222.0 316.8,222.2 318.2,222.0 319.6,222.8 320.9,223.2 322.3,223.2 323.7,223.1 325.1,223.2 326.4,223.3 327.8,223.6 329.2,223.6 330.6,223.2 331.9,223.3 333.3,223.3 334.7,223.3 336.1,223.3 337.5,223.4 338.8,222.9 340.2,223.6 341.6,223.4 343.0,223.2 344.3,223.5 345.7,223.3 347.1,223.8 348.5,223.3 349.8,223.6 351.2,223.6 352.6,223.3" fill="none" stroke="#6a1a8a" stroke-width="2.0" stroke-linejoin="round"/>
<polyline points="111.6,195.0 113.0,195.8 114.4,196.1 115.8,196.7 117.1,197.8 118.5,200.0 119.9,202.0 121.3,203.4 122.6,205.3 124.0,206.8 125.4,207.9 126.8,208.3 128.1,209.3 129.5,210.0 130.9,211.0 132.3,210.9 133.7,211.6 135.0,211.9 136.4,212.3 137.8,212.2 139.2,212.9 140.5,213.5 141.9,213.4 143.3,213.8 144.7,213.8 146.1,214.3 147.4,214.5 148.8,214.8 150.2,214.7 151.6,214.9 152.9,215.0 154.3,215.4 155.7,215.5 157.1,216.1 158.4,215.5 159.8,215.9 161.2,215.7 162.6,215.7 164.0,216.1 165.3,215.9 166.7,215.8 168.1,215.1 169.5,215.7 170.8,215.0 172.2,213.6 173.6,212.5 175.0,211.4 176.3,210.1 177.7,207.9 179.1,205.9 180.5,203.0 181.9,200.7 183.2,196.6 184.6,192.8 186.0,189.5 187.4,185.2 188.7,181.2 190.1,177.5 191.5,174.4 192.9,171.4 194.2,169.5 195.6,168.0 197.0,167.4 198.4,167.9 199.8,168.4 201.1,169.4 202.5,169.7 203.9,170.3 205.3,171.3 206.6,172.2 208.0,172.5 209.4,173.8 210.8,174.4 212.1,175.4 213.5,176.6 214.9,177.7 216.3,178.6 217.7,179.5 219.0,180.6 220.4,181.2 221.8,181.9 223.2,182.3 224.5,183.4 225.9,183.6 227.3,183.4 228.7,183.6 230.0,184.0 231.4,183.9 232.8,183.3 234.2,183.1 235.6,181.9 236.9,181.2 238.3,180.4 239.7,178.7 241.1,177.3 242.4,175.5 243.8,173.4 245.2,170.8 246.6,168.7 247.9,166.1 249.3,163.1 250.7,160.1 252.1,156.9 253.5,153.1 254.8,149.6 256.2,146.4 257.6,142.5 259.0,138.6 260.3,134.9 261.7,131.8 263.1,128.5 264.5,125.2 265.8,122.7 267.2,120.5 268.6,118.9 270.0,118.5 271.4,118.0 272.7,120.1 274.1,122.1 275.5,125.5 276.9,129.9 278.2,133.9 279.6,138.9 281.0,144.2 282.4,149.9 283.8,155.7 285.1,161.6 286.5,166.8 287.9,172.6 289.3,177.3 290.6,183.1 292.0,187.1 293.4,191.4 294.8,195.6 296.1,199.1 297.5,202.3 298.9,204.9 300.3,208.1 301.7,210.3 303.0,212.0 304.4,213.6 305.8,215.4 307.2,216.9 308.5,217.2 309.9,218.3 311.3,219.3 312.7,219.7 314.0,220.4 315.4,220.9 316.8,221.4 318.2,221.7 319.6,222.0 320.9,222.2 322.3,222.0 323.7,221.7 325.1,222.5 326.4,222.6 327.8,222.7 329.2,222.4 330.6,223.1 331.9,222.3 333.3,222.9 334.7,222.9 336.1,223.0 337.5,223.2 338.8,223.0 340.2,222.9 341.6,222.8 343.0,223.1 344.3,223.0 345.7,223.1 347.1,222.6 348.5,222.5 349.8,222.9 351.2,223.1 352.6,222.6" fill="none" stroke="#6a1a8a" stroke-width="2.0" stroke-linejoin="round"/>
<polyline points="111.6,191.2 113.0,192.0 114.4,192.8 115.8,193.8 117.1,195.3 118.5,196.7 119.9,198.8 121.3,201.0 122.6,202.3 124.0,204.4 125.4,204.9 126.8,206.0 128.1,206.3 129.5,207.4 130.9,207.9 132.3,208.5 133.7,209.2 135.0,209.3 136.4,210.1 137.8,210.0 139.2,210.7 140.5,211.5 141.9,211.6 143.3,212.0 144.7,211.9 146.1,212.1 147.4,213.0 148.8,213.1 150.2,213.3 151.6,213.3 152.9,213.8 154.3,213.5 155.7,214.0 157.1,214.1 158.4,213.8 159.8,214.5 161.2,214.3 162.6,214.5 164.0,213.9 165.3,213.9 166.7,214.0 168.1,214.0 169.5,213.8 170.8,213.1 172.2,212.3 173.6,211.5 175.0,210.1 176.3,208.6 177.7,206.8 179.1,204.2 180.5,201.8 181.9,198.3 183.2,195.0 184.6,191.7 186.0,187.5 187.4,183.8 188.7,179.9 190.1,176.1 191.5,173.2 192.9,170.3 194.2,167.9 195.6,166.7 197.0,166.4 198.4,166.2 199.8,167.3 201.1,167.5 202.5,167.8 203.9,168.7 205.3,170.1 206.6,170.6 208.0,172.0 209.4,172.4 210.8,173.4 212.1,174.7 213.5,175.6 214.9,175.7 216.3,177.0 217.7,177.3 219.0,178.2 220.4,178.6 221.8,179.8 223.2,179.9 224.5,180.4 225.9,181.3 227.3,181.3 228.7,181.1 230.0,180.6 231.4,180.8 232.8,179.7 234.2,179.5 235.6,179.0 236.9,178.1 238.3,176.7 239.7,175.4 241.1,173.5 242.4,171.4 243.8,169.4 245.2,167.4 246.6,164.4 247.9,161.6 249.3,158.7 250.7,154.9 252.1,151.6 253.5,147.9 254.8,144.7 256.2,140.8 257.6,136.8 259.0,133.0 260.3,129.8 261.7,126.2 263.1,122.7 264.5,119.5 265.8,116.8 267.2,114.4 268.6,112.6 270.0,111.4 271.4,111.1 272.7,112.5 274.1,115.1 275.5,118.6 276.9,121.8 278.2,126.2 279.6,131.6 281.0,137.0 282.4,142.3 283.8,148.1 285.1,153.9 286.5,159.9 287.9,166.3 289.3,170.9 290.6,176.4 292.0,181.2 293.4,186.0 294.8,190.4 296.1,194.4 297.5,197.7 298.9,201.0 300.3,204.4 301.7,206.9 303.0,209.1 304.4,211.2 305.8,212.7 307.2,214.7 308.5,215.4 309.9,216.5 311.3,217.4 312.7,218.4 314.0,219.8 315.4,219.7 316.8,220.2 318.2,220.9 319.6,220.7 320.9,220.7 322.3,221.1 323.7,221.4 325.1,221.2 326.4,221.6 327.8,221.8 329.2,222.4 330.6,222.1 331.9,222.0 333.3,221.9 334.7,221.9 336.1,221.7 337.5,222.1 338.8,221.6 340.2,222.1 341.6,222.6 343.0,222.1 344.3,222.3 345.7,222.0 347.1,221.8 348.5,222.3 349.8,222.2 351.2,222.4 352.6,222.3" fill="none" stroke="#111111" stroke-width="2.0" stroke-linejoin="round"/>
<polyline points="111.6,184.9 113.0,185.4 114.4,186.5 115.8,187.7 117.1,188.7 118.5,190.6 119.9,192.9 121.3,194.8 122.6,196.4 124.0,197.6 125.4,199.1 126.8,200.6 128.1,200.9 129.5,201.7 130.9,202.2 132.3,203.0 133.7,203.6 135.0,204.2 136.4,204.4 137.8,204.8 139.2,206.0 140.5,205.9 141.9,206.0 143.3,206.5 144.7,207.0 146.1,207.4 147.4,207.5 148.8,207.6 150.2,208.0 151.6,207.8 152.9,208.1 154.3,208.8 155.7,208.7 157.1,208.8 158.4,208.8 159.8,208.8 161.2,209.2 162.6,209.2 164.0,209.7 165.3,209.0 166.7,209.1 168.1,208.8 169.5,208.4 170.8,208.6 172.2,207.8 173.6,206.7 175.0,205.2 176.3,204.1 177.7,202.4 179.1,200.0 180.5,197.3 181.9,195.3 183.2,191.4 184.6,188.5 186.0,184.5 187.4,180.9 188.7,177.7 190.1,173.8 191.5,170.9 192.9,168.4 194.2,166.8 195.6,165.6 197.0,164.9 198.4,164.8 199.8,165.8 201.1,165.9 202.5,166.6 203.9,166.7 205.3,167.9 206.6,168.8 208.0,169.3 209.4,170.3 210.8,171.3 212.1,172.1 213.5,172.3 214.9,172.8 216.3,173.3 217.7,174.4 219.0,174.6 220.4,175.6 221.8,175.4 223.2,176.5 224.5,176.4 225.9,176.1 227.3,176.5 228.7,176.3 230.0,176.0 231.4,175.3 232.8,174.7 234.2,173.8 235.6,172.4 236.9,171.2 238.3,169.3 239.7,168.0 241.1,165.5 242.4,163.5 243.8,160.7 245.2,158.5 246.6,155.3 247.9,151.8 249.3,148.7 250.7,145.0 252.1,141.4 253.5,137.4 254.8,133.3 256.2,129.1 257.6,124.6 259.0,121.0 260.3,117.0 261.7,112.6 263.1,109.2 264.5,105.9 265.8,102.7 267.2,100.1 268.6,97.9 270.0,96.2 271.4,96.4 272.7,97.0 274.1,99.1 275.5,102.8 276.9,106.3 278.2,111.3 279.6,116.2 281.0,122.4 282.4,128.5 283.8,134.4 285.1,141.0 286.5,147.5 287.9,153.6 289.3,159.9 290.6,165.8 292.0,171.3 293.4,176.6 294.8,182.0 296.1,186.7 297.5,191.1 298.9,194.9 300.3,198.5 301.7,201.4 303.0,204.8 304.4,206.7 305.8,209.3 307.2,211.0 308.5,212.6 309.9,214.6 311.3,215.5 312.7,216.1 314.0,217.3 315.4,217.9 316.8,219.1 318.2,219.0 319.6,219.6 320.9,219.8 322.3,220.1 323.7,220.7 325.1,221.0 326.4,221.2 327.8,221.0 329.2,221.0 330.6,221.4 331.9,221.2 333.3,221.7 334.7,221.1 336.1,221.6 337.5,221.2 338.8,221.3 340.2,221.2 341.6,221.3 343.0,221.7 344.3,221.4 345.7,221.4 347.1,221.3 348.5,221.4 349.8,221.6 351.2,221.9 352.6,221.7" fill="none" stroke="#cc2a2a" stroke-width="2.0" stroke-linejoin="round"/>
<polyline points="111.6,181.9 113.0,182.7 114.4,183.8 115.8,184.5 117.1,186.2 118.5,187.7 119.9,189.6 121.3,191.9 122.6,193.5 124.0,194.9 125.4,195.9 126.8,197.3 128.1,198.5 129.5,198.9 130.9,199.5 132.3,200.0 133.7,200.8 135.0,201.0 136.4,202.3 137.8,202.1 139.2,202.4 140.5,203.1 141.9,202.9 143.3,203.4 144.7,203.7 146.1,204.1 147.4,204.8 148.8,204.4 150.2,205.5 151.6,205.3 152.9,205.7 154.3,205.5 155.7,205.3 157.1,205.5 158.4,206.3 159.8,206.0 161.2,206.2 162.6,206.3 164.0,206.6 165.3,206.5 166.7,206.2 168.1,205.9 169.5,205.9 170.8,204.9 172.2,204.4 173.6,203.4 175.0,202.4 176.3,200.9 177.7,199.8 179.1,197.5 180.5,195.6 181.9,192.3 183.2,189.5 184.6,186.0 186.0,182.8 187.4,179.3 188.7,175.6 190.1,172.5 191.5,169.3 192.9,166.9 194.2,164.9 195.6,164.2 197.0,163.3 198.4,163.4 199.8,164.3 201.1,164.5 202.5,164.7 203.9,165.4 205.3,166.1 206.6,166.7 208.0,167.6 209.4,168.0 210.8,168.7 212.1,169.9 213.5,170.7 214.9,171.3 216.3,171.4 217.7,172.1 219.0,172.4 220.4,173.3 221.8,173.2 223.2,173.4 224.5,173.8 225.9,173.6 227.3,173.1 228.7,172.5 230.0,172.1 231.4,171.2 232.8,171.1 234.2,169.5 235.6,168.5 236.9,166.9 238.3,165.0 239.7,163.3 241.1,161.2 242.4,158.7 243.8,156.1 245.2,153.4 246.6,150.0 247.9,147.0 249.3,143.4 250.7,139.7 252.1,136.1 253.5,131.6 254.8,127.7 256.2,123.8 257.6,120.0 259.0,115.6 260.3,111.2 261.7,107.7 263.1,103.6 264.5,99.9 265.8,96.8 267.2,94.3 268.6,91.9 270.0,89.9 271.4,89.0 272.7,90.1 274.1,91.7 275.5,94.9 276.9,99.0 278.2,103.2 279.6,108.4 281.0,114.3 282.4,120.2 283.8,126.9 285.1,133.1 286.5,139.8 287.9,146.3 289.3,152.4 290.6,159.0 292.0,165.1 293.4,170.4 294.8,175.7 296.1,180.8 297.5,185.8 298.9,189.8 300.3,193.6 301.7,196.9 303.0,200.4 304.4,202.9 305.8,206.0 307.2,207.8 308.5,209.6 309.9,211.9 311.3,213.2 312.7,214.5 314.0,215.2 315.4,216.5 316.8,217.2 318.2,217.8 319.6,218.5 320.9,219.0 322.3,219.1 323.7,219.9 325.1,219.9 326.4,220.0 327.8,220.3 329.2,220.4 330.6,220.8 331.9,220.6 333.3,220.6 334.7,220.7 336.1,220.9 337.5,220.4 338.8,220.5 340.2,220.8 341.6,221.0 343.0,221.1 344.3,220.9 345.7,220.6 347.1,220.5 348.5,220.9 349.8,220.9 351.2,221.1 352.6,221.3" fill="none" stroke="#2b2bd6" stroke-width="2.0" stroke-linejoin="round"/>
<polyline points="111.6,180.1 113.0,181.1 114.4,181.2 115.8,182.0 117.1,183.2 118.5,184.1 119.9,186.7 121.3,187.6 122.6,189.3 124.0,190.0 125.4,190.7 126.8,191.6 128.1,192.2 129.5,192.6 130.9,192.9 132.3,194.2 133.7,194.2 135.0,194.8 136.4,195.4 137.8,195.3 139.2,195.8 140.5,196.3 141.9,196.4 143.3,196.6 144.7,196.6 146.1,196.8 147.4,197.4 148.8,197.3 150.2,197.8 151.6,197.9 152.9,198.0 154.3,198.2 155.7,198.2 157.1,198.5 158.4,197.8 159.8,198.2 161.2,198.6 162.6,198.9 164.0,198.1 165.3,198.3 166.7,198.5 168.1,198.5 169.5,197.8 170.8,197.0 172.2,197.0 173.6,196.3 175.0,195.2 176.3,194.0 177.7,192.5 179.1,190.3 180.5,188.4 181.9,186.0 183.2,183.0 184.6,179.8 186.0,176.7 187.4,173.8 188.7,170.3 190.1,167.8 191.5,164.8 192.9,162.5 194.2,161.0 195.6,159.7 197.0,159.9 198.4,159.8 199.8,159.6 201.1,160.0 202.5,160.1 203.9,161.3 205.3,161.7 206.6,162.2 208.0,162.4 209.4,163.7 210.8,164.2 212.1,164.3 213.5,164.8 214.9,165.3 216.3,166.1 217.7,166.3 219.0,166.5 220.4,166.7 221.8,166.6 223.2,166.8 224.5,166.5 225.9,166.9 227.3,166.3 228.7,165.9 230.0,165.2 231.4,164.3 232.8,163.0 234.2,162.2 235.6,161.0 236.9,159.5 238.3,158.1 239.7,156.2 241.1,153.6 242.4,151.2 243.8,149.2 245.2,145.6 246.6,143.1 247.9,140.2 249.3,136.7 250.7,133.1 252.1,129.7 253.5,125.6 254.8,121.7 256.2,118.0 257.6,114.0 259.0,110.2 260.3,106.4 261.7,102.7 263.1,98.2 264.5,95.4 265.8,92.4 267.2,89.8 268.6,87.2 270.0,85.6 271.4,84.9 272.7,85.0 274.1,86.6 275.5,90.0 276.9,93.6 278.2,97.5 279.6,103.0 281.0,108.1 282.4,114.3 283.8,120.1 285.1,126.8 286.5,133.1 287.9,139.7 289.3,146.3 290.6,152.7 292.0,158.4 293.4,164.9 294.8,169.9 296.1,174.9 297.5,180.2 298.9,185.2 300.3,188.8 301.7,192.5 303.0,196.1 304.4,199.5 305.8,202.3 307.2,204.8 308.5,207.1 309.9,209.3 311.3,210.5 312.7,212.1 314.0,213.3 315.4,214.5 316.8,215.6 318.2,216.2 319.6,216.6 320.9,217.6 322.3,218.3 323.7,218.3 325.1,219.1 326.4,219.2 327.8,218.8 329.2,219.3 330.6,219.3 331.9,219.6 333.3,219.6 334.7,219.9 336.1,220.1 337.5,219.6 338.8,220.3 340.2,220.1 341.6,220.4 343.0,220.2 344.3,219.7 345.7,220.3 347.1,220.4 348.5,220.4 349.8,220.3 351.2,220.1 352.6,220.1" fill="none" stroke="#d028e0" stroke-width="2.0" stroke-linejoin="round"/>
<polyline points="111.6,178.3 113.0,178.7 114.4,179.4 115.8,180.2 117.1,181.2 118.5,182.3 119.9,183.6 121.3,185.1 122.6,186.1 124.0,186.9 125.4,188.2 126.8,188.6 128.1,189.2 129.5,190.0 130.9,190.2 132.3,190.7 133.7,191.4 135.0,191.5 136.4,191.7 137.8,191.8 139.2,191.6 140.5,191.7 141.9,192.3 143.3,193.4 144.7,192.9 146.1,193.1 147.4,193.5 148.8,193.8 150.2,193.8 151.6,193.9 152.9,194.0 154.3,194.0 155.7,194.0 157.1,193.7 158.4,194.3 159.8,194.4 161.2,194.5 162.6,194.7 164.0,194.1 165.3,194.1 166.7,194.4 168.1,193.7 169.5,193.8 170.8,193.4 172.2,192.9 173.6,191.8 175.0,191.1 176.3,189.4 177.7,188.4 179.1,186.3 180.5,184.0 181.9,181.7 183.2,179.2 184.6,175.6 186.0,172.6 187.4,169.2 188.7,166.5 190.1,163.5 191.5,160.4 192.9,158.3 194.2,156.4 195.6,155.6 197.0,155.4 198.4,155.1 199.8,155.5 201.1,155.4 202.5,156.6 203.9,156.4 205.3,157.2 206.6,157.6 208.0,158.5 209.4,158.7 210.8,159.2 212.1,159.5 213.5,160.5 214.9,160.2 216.3,161.4 217.7,161.7 219.0,162.0 220.4,161.5 221.8,161.6 223.2,161.8 224.5,161.9 225.9,161.1 227.3,161.2 228.7,160.1 230.0,159.9 231.4,158.9 232.8,157.9 234.2,156.6 235.6,155.4 236.9,153.2 238.3,152.1 239.7,149.8 241.1,147.7 242.4,145.2 243.8,142.9 245.2,140.1 246.6,136.9 247.9,133.7 249.3,131.0 250.7,127.0 252.1,123.6 253.5,119.6 254.8,116.1 256.2,112.3 257.6,108.3 259.0,104.5 260.3,100.6 261.7,95.9 263.1,92.7 264.5,89.1 265.8,86.5 267.2,83.6 268.6,80.9 270.0,79.8 271.4,78.4 272.7,78.7 274.1,79.7 275.5,82.7 276.9,86.3 278.2,90.1 279.6,95.1 281.0,100.5 282.4,106.3 283.8,112.6 285.1,118.5 286.5,125.7 287.9,132.2 289.3,138.5 290.6,145.5 292.0,151.1 293.4,157.5 294.8,163.9 296.1,169.3 297.5,174.2 298.9,179.6 300.3,183.7 301.7,187.9 303.0,191.8 304.4,195.4 305.8,198.5 307.2,200.9 308.5,203.5 309.9,206.0 311.3,208.1 312.7,209.6 314.0,211.3 315.4,212.6 316.8,213.2 318.2,214.4 319.6,215.8 320.9,215.9 322.3,216.8 323.7,216.8 325.1,218.3 326.4,217.7 327.8,218.4 329.2,218.6 330.6,218.3 331.9,218.8 333.3,219.3 334.7,219.0 336.1,219.5 337.5,219.3 338.8,219.7 340.2,220.0 341.6,219.3 343.0,219.7 344.3,219.4 345.7,219.4 347.1,219.7 348.5,219.7 349.8,219.8 351.2,219.8 352.6,219.2" fill="none" stroke="#7c7c1e" stroke-width="2.0" stroke-linejoin="round"/>
<polyline points="111.6,175.9 113.0,176.0 114.4,177.0 115.8,177.8 117.1,178.5 118.5,179.4 119.9,180.8 121.3,182.1 122.6,183.1 124.0,183.7 125.4,184.4 126.8,185.4 128.1,185.6 129.5,186.1 130.9,186.4 132.3,186.9 133.7,187.3 135.0,187.4 136.4,187.6 137.8,187.9 139.2,188.3 140.5,188.6 141.9,188.3 143.3,189.2 144.7,188.8 146.1,189.2 147.4,189.1 148.8,189.4 150.2,189.6 151.6,189.9 152.9,190.0 154.3,190.2 155.7,190.0 157.1,190.6 158.4,189.9 159.8,190.4 161.2,190.4 162.6,190.3 164.0,190.3 165.3,190.1 166.7,190.3 168.1,189.9 169.5,189.9 170.8,189.4 172.2,188.8 173.6,188.0 175.0,186.8 176.3,185.9 177.7,184.4 179.1,182.3 180.5,180.0 181.9,177.7 183.2,175.4 184.6,171.8 186.0,169.3 187.4,166.0 188.7,163.1 190.1,159.7 191.5,157.5 192.9,155.0 194.2,153.7 195.6,152.9 197.0,152.0 198.4,152.5 199.8,152.3 201.1,152.8 202.5,153.5 203.9,153.6 205.3,153.9 206.6,153.7 208.0,154.5 209.4,155.3 210.8,155.4 212.1,155.8 213.5,156.5 214.9,156.4 216.3,156.7 217.7,157.4 219.0,157.9 220.4,157.2 221.8,157.4 223.2,157.4 224.5,156.8 225.9,156.4 227.3,156.2 228.7,155.2 230.0,154.5 231.4,154.1 232.8,152.1 234.2,151.7 235.6,150.2 236.9,148.0 238.3,146.6 239.7,144.3 241.1,141.8 242.4,139.5 243.8,136.8 245.2,134.6 246.6,130.9 247.9,127.7 249.3,124.6 250.7,121.0 252.1,118.1 253.5,113.7 254.8,109.8 256.2,105.9 257.6,102.0 259.0,97.8 260.3,94.4 261.7,90.5 263.1,86.9 264.5,83.9 265.8,80.7 267.2,77.8 268.6,74.9 270.0,73.2 271.4,71.8 272.7,71.5 274.1,72.7 275.5,75.0 276.9,78.7 278.2,82.3 279.6,87.6 281.0,92.7 282.4,98.4 283.8,104.7 285.1,110.9 286.5,117.6 287.9,124.6 289.3,131.1 290.6,138.8 292.0,144.1 293.4,150.4 294.8,157.1 296.1,162.5 297.5,168.0 298.9,173.1 300.3,178.2 301.7,182.6 303.0,187.1 304.4,190.5 305.8,194.1 307.2,197.4 308.5,200.1 309.9,202.5 311.3,204.6 312.7,206.4 314.0,208.1 315.4,210.2 316.8,211.2 318.2,212.4 319.6,213.6 320.9,214.5 322.3,215.4 323.7,215.8 325.1,216.2 326.4,216.4 327.8,217.2 329.2,217.4 330.6,217.7 331.9,217.7 333.3,218.2 334.7,218.5 336.1,218.4 337.5,218.7 338.8,218.7 340.2,218.6 341.6,219.1 343.0,218.8 344.3,219.0 345.7,218.6 347.1,219.2 348.5,218.9 349.8,219.0 351.2,219.0 352.6,219.1" fill="none" stroke="#1c1c84" stroke-width="2.0" stroke-linejoin="round"/>
<polyline points="111.6,173.8 113.0,174.2 114.4,174.9 115.8,175.5 117.1,176.1 118.5,177.3 119.9,178.4 121.3,178.9 122.6,180.0 124.0,180.8 125.4,180.9 126.8,181.4 128.1,181.6 129.5,182.9 130.9,182.8 132.3,183.1 133.7,183.6 135.0,184.1 136.4,184.1 137.8,184.6 139.2,184.8 140.5,185.6 141.9,184.6 143.3,184.9 144.7,185.0 146.1,185.5 147.4,185.2 148.8,185.8 150.2,185.2 151.6,186.1 152.9,186.0 154.3,186.4 155.7,186.2 157.1,186.2 158.4,186.3 159.8,185.8 161.2,186.2 162.6,186.3 164.0,186.7 165.3,186.2 166.7,185.7 168.1,186.4 169.5,185.4 170.8,185.2 172.2,184.4 173.6,183.0 175.0,183.1 176.3,181.6 177.7,180.4 179.1,178.3 180.5,176.6 181.9,174.5 183.2,171.6 184.6,168.6 186.0,165.5 187.4,162.6 188.7,159.3 190.1,156.8 191.5,154.4 192.9,151.7 194.2,150.1 195.6,149.8 197.0,148.8 198.4,149.3 199.8,149.2 201.1,149.5 202.5,149.7 203.9,150.4 205.3,150.7 206.6,150.7 208.0,150.7 209.4,151.2 210.8,151.8 212.1,151.9 213.5,152.6 214.9,152.8 216.3,153.0 217.7,153.2 219.0,153.1 220.4,153.1 221.8,152.9 223.2,152.4 224.5,152.3 225.9,151.8 227.3,151.4 228.7,150.3 230.0,149.3 231.4,149.0 232.8,147.5 234.2,146.2 235.6,144.7 236.9,142.5 238.3,141.0 239.7,138.6 241.1,136.0 242.4,133.9 243.8,131.2 245.2,128.5 246.6,125.2 247.9,122.1 249.3,118.5 250.7,115.5 252.1,111.2 253.5,108.0 254.8,104.0 256.2,100.2 257.6,96.4 259.0,92.4 260.3,88.2 261.7,84.3 263.1,80.7 264.5,77.5 265.8,74.5 267.2,71.5 268.6,69.1 270.0,67.1 271.4,65.5 272.7,64.6 274.1,65.6 275.5,67.7 276.9,71.3 278.2,75.1 279.6,79.2 281.0,84.7 282.4,90.7 283.8,96.6 285.1,103.3 286.5,109.8 287.9,116.6 289.3,123.5 290.6,130.0 292.0,136.7 293.4,143.4 294.8,150.1 296.1,156.1 297.5,161.5 298.9,167.6 300.3,172.6 301.7,177.6 303.0,181.9 304.4,185.9 305.8,189.2 307.2,193.2 308.5,195.8 309.9,199.0 311.3,202.0 312.7,203.9 314.0,205.9 315.4,207.4 316.8,209.2 318.2,210.1 319.6,211.6 320.9,212.7 322.3,213.5 323.7,214.0 325.1,214.4 326.4,215.3 327.8,215.8 329.2,216.2 330.6,216.8 331.9,216.6 333.3,217.4 334.7,217.1 336.1,218.2 337.5,218.1 338.8,218.0 340.2,217.8 341.6,218.1 343.0,218.2 344.3,218.1 345.7,218.1 347.1,218.6 348.5,218.4 349.8,218.9 351.2,218.7 352.6,218.4" fill="none" stroke="#661414" stroke-width="2.0" stroke-linejoin="round"/>
<polyline points="111.6,171.3 113.0,171.4 114.4,171.3 115.8,172.1 117.1,172.2 118.5,173.3 119.9,173.8 121.3,173.5 122.6,174.6 124.0,174.8 125.4,175.8 126.8,175.7 128.1,176.0 129.5,176.3 130.9,176.1 132.3,176.6 133.7,177.0 135.0,176.7 136.4,177.2 137.8,177.1 139.2,177.8 140.5,177.9 141.9,177.5 143.3,177.5 144.7,177.8 146.1,177.7 147.4,177.8 148.8,177.8 150.2,178.4 151.6,178.6 152.9,178.2 154.3,177.7 155.7,177.8 157.1,178.4 158.4,178.0 159.8,178.1 161.2,178.3 162.6,178.2 164.0,178.5 165.3,177.8 166.7,178.1 168.1,177.5 169.5,177.6 170.8,176.7 172.2,176.6 173.6,176.3 175.0,175.1 176.3,174.3 177.7,172.8 179.1,171.4 180.5,169.5 181.9,167.7 183.2,165.1 184.6,162.8 186.0,160.5 187.4,157.5 188.7,155.3 190.1,152.9 191.5,150.5 192.9,148.1 194.2,147.5 195.6,145.8 197.0,145.7 198.4,145.8 199.8,146.2 201.1,146.0 202.5,145.9 203.9,146.5 205.3,147.0 206.6,146.6 208.0,147.3 209.4,147.4 210.8,147.6 212.1,147.7 213.5,148.0 214.9,148.1 216.3,148.6 217.7,147.5 219.0,148.2 220.4,147.6 221.8,147.0 223.2,146.5 224.5,146.7 225.9,145.4 227.3,145.5 228.7,143.8 230.0,143.3 231.4,141.8 232.8,140.3 234.2,139.1 235.6,138.1 236.9,135.9 238.3,133.9 239.7,132.0 241.1,129.8 242.4,126.8 243.8,124.5 245.2,121.6 246.6,118.5 247.9,115.0 249.3,112.5 250.7,109.1 252.1,105.3 253.5,102.8 254.8,97.9 256.2,94.4 257.6,90.8 259.0,86.8 260.3,83.4 261.7,80.2 263.1,76.0 264.5,72.5 265.8,69.8 267.2,66.9 268.6,64.6 270.0,62.5 271.4,61.2 272.7,61.1 274.1,60.8 275.5,63.3 276.9,65.6 278.2,69.2 279.6,73.3 281.0,78.9 282.4,84.6 283.8,91.2 285.1,96.4 286.5,103.3 287.9,110.1 289.3,117.0 290.6,123.9 292.0,130.5 293.4,137.3 294.8,143.6 296.1,149.9 297.5,156.2 298.9,162.1 300.3,167.0 301.7,171.8 303.0,176.8 304.4,181.4 305.8,185.4 307.2,189.4 308.5,192.2 309.9,195.4 311.3,198.1 312.7,201.2 314.0,203.0 315.4,204.9 316.8,206.5 318.2,208.4 319.6,209.2 320.9,211.0 322.3,212.0 323.7,212.8 325.1,213.5 326.4,214.1 327.8,214.9 329.2,215.1 330.6,215.8 331.9,215.6 333.3,216.6 334.7,216.5 336.1,217.0 337.5,217.0 338.8,216.9 340.2,217.2 341.6,217.2 343.0,217.6 344.3,217.1 345.7,217.2 347.1,217.8 348.5,217.8 349.8,217.5 351.2,217.9 352.6,217.4" fill="none" stroke="#7c7c1e" stroke-width="2.0" stroke-linejoin="round"/>
<polyline points="111.6,167.4 113.0,167.1 114.4,167.7 115.8,167.6 117.1,167.9 118.5,167.5 119.9,168.0 121.3,168.2 122.6,168.6 124.0,168.9 125.4,168.7 126.8,169.1 128.1,169.3 129.5,169.5 130.9,169.4 132.3,169.6 133.7,169.9 135.0,169.3 136.4,170.0 137.8,169.4 139.2,169.8 140.5,169.7 141.9,170.0 143.3,169.9 144.7,170.3 146.1,169.6 147.4,170.3 148.8,170.2 150.2,170.4 151.6,170.0 152.9,170.5 154.3,170.2 155.7,170.4 157.1,170.2 158.4,170.4 159.8,170.6 161.2,170.1 162.6,169.7 164.0,170.1 165.3,170.2 166.7,169.7 168.1,169.6 169.5,169.1 170.8,169.3 172.2,168.5 173.6,168.4 175.0,167.8 176.3,167.1 177.7,165.9 179.1,164.5 180.5,162.8 181.9,161.6 183.2,158.7 184.6,156.8 186.0,155.4 187.4,152.6 188.7,150.3 190.1,148.4 191.5,146.9 192.9,145.3 194.2,144.0 195.6,142.8 197.0,142.5 198.4,142.6 199.8,142.4 201.1,142.7 202.5,142.3 203.9,143.0 205.3,142.9 206.6,143.0 208.0,142.9 209.4,142.6 210.8,143.5 212.1,143.1 213.5,143.2 214.9,143.1 216.3,143.2 217.7,142.7 219.0,142.9 220.4,142.3 221.8,141.5 223.2,140.9 224.5,141.1 225.9,139.4 227.3,138.6 228.7,137.5 230.0,136.7 231.4,135.3 232.8,134.2 234.2,132.1 235.6,130.3 236.9,129.3 238.3,126.1 239.7,124.6 241.1,121.9 242.4,120.0 243.8,117.0 245.2,114.6 246.6,111.4 247.9,108.5 249.3,105.0 250.7,102.0 252.1,98.6 253.5,95.1 254.8,91.8 256.2,88.2 257.6,85.1 259.0,80.5 260.3,77.4 261.7,73.8 263.1,70.6 264.5,67.6 265.8,64.8 267.2,62.0 268.6,59.0 270.0,57.1 271.4,55.6 272.7,55.0 274.1,54.6 275.5,56.6 276.9,59.0 278.2,62.9 279.6,67.3 281.0,72.5 282.4,77.7 283.8,83.6 285.1,90.2 286.5,96.4 287.9,103.7 289.3,110.2 290.6,117.2 292.0,123.9 293.4,130.8 294.8,137.3 296.1,143.7 297.5,150.0 298.9,156.1 300.3,161.2 301.7,166.9 303.0,172.1 304.4,176.4 305.8,181.1 307.2,184.9 308.5,188.1 309.9,191.5 311.3,195.1 312.7,197.7 314.0,200.0 315.4,202.1 316.8,203.5 318.2,205.8 319.6,206.9 320.9,208.7 322.3,209.9 323.7,210.9 325.1,212.0 326.4,212.7 327.8,213.0 329.2,213.8 330.6,214.6 331.9,215.4 333.3,214.9 334.7,215.6 336.1,216.1 337.5,216.2 338.8,216.2 340.2,216.7 341.6,217.0 343.0,216.7 344.3,216.5 345.7,216.5 347.1,217.1 348.5,217.3 349.8,217.0 351.2,217.1 352.6,217.0" fill="none" stroke="#6a1a8a" stroke-width="2.0" stroke-linejoin="round"/>
<polyline points="111.6,167.1 113.0,166.5 114.4,167.0 115.8,166.7 117.1,167.1 118.5,167.1 119.9,167.3 121.3,167.0 122.6,166.9 124.0,167.0 125.4,166.9 126.8,167.5 128.1,167.3 129.5,166.9 130.9,167.4 132.3,167.2 133.7,166.9 135.0,167.3 136.4,167.4 137.8,167.3 139.2,167.3 140.5,167.2 141.9,167.2 143.3,168.0 144.7,167.2 146.1,167.7 147.4,167.7 148.8,167.5 150.2,167.0 151.6,167.8 152.9,167.4 154.3,168.1 155.7,167.4 157.1,167.3 158.4,167.8 159.8,167.4 161.2,167.6 162.6,167.7 164.0,167.2 165.3,167.0 166.7,167.2 168.1,167.3 169.5,166.7 170.8,166.4 172.2,166.4 173.6,165.7 175.0,164.8 176.3,164.4 177.7,162.7 179.1,161.6 180.5,159.9 181.9,158.6 183.2,156.8 184.6,154.5 186.0,152.0 187.4,150.3 188.7,148.0 190.1,146.1 191.5,143.9 192.9,142.7 194.2,141.2 195.6,140.7 197.0,140.1 198.4,139.9 199.8,140.0 201.1,140.1 202.5,140.4 203.9,140.0 205.3,140.2 206.6,140.0 208.0,140.2 209.4,139.9 210.8,140.2 212.1,140.6 213.5,140.1 214.9,139.8 216.3,139.6 217.7,139.2 219.0,139.3 220.4,138.5 221.8,137.9 223.2,137.9 224.5,137.0 225.9,136.0 227.3,134.8 228.7,134.3 230.0,133.2 231.4,131.4 232.8,130.1 234.2,128.5 235.6,127.0 236.9,124.9 238.3,122.8 239.7,120.5 241.1,118.1 242.4,115.8 243.8,113.2 245.2,110.3 246.6,107.2 247.9,104.4 249.3,101.1 250.7,98.0 252.1,94.9 253.5,91.4 254.8,88.1 256.2,83.7 257.6,81.0 259.0,76.8 260.3,73.7 261.7,70.1 263.1,67.0 264.5,63.4 265.8,60.8 267.2,57.4 268.6,55.8 270.0,53.1 271.4,52.3 272.7,50.6 274.1,50.4 275.5,51.4 276.9,54.1 278.2,57.2 279.6,61.3 281.0,65.9 282.4,71.4 283.8,77.4 285.1,83.2 286.5,89.8 287.9,96.4 289.3,103.2 290.6,110.3 292.0,117.1 293.4,123.6 294.8,130.7 296.1,137.1 297.5,143.5 298.9,150.1 300.3,155.3 301.7,160.4 303.0,166.3 304.4,170.6 305.8,175.2 307.2,179.4 308.5,183.6 309.9,186.6 311.3,190.1 312.7,193.0 314.0,196.1 315.4,198.4 316.8,200.5 318.2,202.4 319.6,203.9 320.9,205.4 322.3,207.3 323.7,208.1 325.1,209.3 326.4,210.0 327.8,210.6 329.2,211.3 330.6,212.4 331.9,213.3 333.3,213.2 334.7,214.0 336.1,213.9 337.5,214.2 338.8,214.6 340.2,214.4 341.6,214.8 343.0,214.8 344.3,215.2 345.7,214.7 347.1,215.5 348.5,215.6 349.8,215.5 351.2,215.5 352.6,215.5" fill="none" stroke="#6a1a8a" stroke-width="2.0" stroke-linejoin="round"/>
<polyline points="111.6,164.4 113.0,164.4 114.4,163.9 115.8,163.9 117.1,163.9 118.5,164.5 119.9,163.8 121.3,164.3 122.6,163.6 124.0,162.8 125.4,163.6 126.8,163.6 128.1,164.0 129.5,163.2 130.9,163.5 132.3,163.2 133.7,163.4 135.0,163.4 136.4,163.0 137.8,163.5 139.2,163.3 140.5,163.0 141.9,163.4 143.3,162.9 144.7,163.2 146.1,162.9 147.4,162.8 148.8,163.3 150.2,163.5 151.6,163.2 152.9,163.1 154.3,162.9 155.7,163.5 157.1,162.9 158.4,163.0 159.8,162.7 161.2,162.5 162.6,162.9 164.0,162.8 165.3,162.3 166.7,162.3 168.1,162.3 169.5,162.1 170.8,161.4 172.2,160.9 173.6,160.7 175.0,160.2 176.3,159.5 177.7,158.3 179.1,157.7 180.5,155.6 181.9,154.2 183.2,152.7 184.6,150.9 186.0,149.0 187.4,146.7 188.7,144.8 190.1,142.7 191.5,141.6 192.9,139.8 194.2,138.8 195.6,138.2 197.0,137.5 198.4,137.0 199.8,137.2 201.1,137.3 202.5,137.6 203.9,137.3 205.3,137.0 206.6,138.0 208.0,137.3 209.4,137.1 210.8,136.6 212.1,136.4 213.5,136.5 214.9,136.3 216.3,135.8 217.7,135.7 219.0,135.0 220.4,134.1 221.8,134.3 223.2,132.7 224.5,132.6 225.9,131.3 227.3,129.8 228.7,129.0 230.0,128.2 231.4,126.1 232.8,124.8 234.2,123.7 235.6,121.2 236.9,119.7 238.3,117.1 239.7,115.2 241.1,112.8 242.4,110.4 243.8,107.6 245.2,105.3 246.6,101.7 247.9,99.4 249.3,95.9 250.7,92.5 252.1,89.5 253.5,86.1 254.8,82.5 256.2,78.9 257.6,76.0 259.0,72.1 260.3,68.3 261.7,65.6 263.1,62.1 264.5,58.7 265.8,55.5 267.2,53.2 268.6,50.4 270.0,48.3 271.4,46.5 272.7,45.1 274.1,45.4 275.5,45.5 276.9,47.8 278.2,50.6 279.6,55.0 281.0,58.4 282.4,64.2 283.8,69.3 285.1,76.1 286.5,82.6 287.9,89.1 289.3,95.5 290.6,102.7 292.0,109.6 293.4,116.6 294.8,123.6 296.1,129.8 297.5,136.6 298.9,142.8 300.3,148.9 301.7,154.1 303.0,159.6 304.4,164.7 305.8,169.3 307.2,173.9 308.5,178.0 309.9,182.1 311.3,185.4 312.7,188.9 314.0,191.5 315.4,194.7 316.8,196.7 318.2,198.8 319.6,200.4 320.9,202.7 322.3,204.3 323.7,205.3 325.1,206.7 326.4,208.0 327.8,208.3 329.2,209.5 330.6,210.0 331.9,210.6 333.3,210.9 334.7,211.6 336.1,212.0 337.5,212.5 338.8,212.5 340.2,212.8 341.6,213.6 343.0,213.3 344.3,213.6 345.7,213.6 347.1,213.4 348.5,213.8 349.8,213.9 351.2,213.5 352.6,214.4" fill="none" stroke="#111111" stroke-width="2.0" stroke-linejoin="round"/>
<polyline points="111.6,163.7 113.0,163.4 114.4,163.5 115.8,163.4 117.1,163.3 118.5,163.0 119.9,163.2 121.3,162.8 122.6,162.6 124.0,162.6 125.4,162.3 126.8,162.2 128.1,162.3 129.5,161.9 130.9,161.8 132.3,162.0 133.7,161.8 135.0,161.8 136.4,161.6 137.8,162.1 139.2,161.6 140.5,161.8 141.9,161.7 143.3,161.3 144.7,161.5 146.1,161.5 147.4,161.7 148.8,161.0 150.2,161.0 151.6,161.5 152.9,161.0 154.3,161.0 155.7,161.4 157.1,161.1 158.4,161.4 159.8,160.5 161.2,161.2 162.6,161.2 164.0,160.8 165.3,160.6 166.7,160.9 168.1,160.2 169.5,160.8 170.8,160.1 172.2,159.1 173.6,158.9 175.0,158.3 176.3,157.7 177.7,156.3 179.1,155.3 180.5,153.8 181.9,152.2 183.2,150.5 184.6,148.9 186.0,146.7 187.4,144.8 188.7,142.8 190.1,140.8 191.5,139.5 192.9,137.8 194.2,136.5 195.6,135.3 197.0,135.3 198.4,134.9 199.8,134.8 201.1,134.5 202.5,134.5 203.9,134.9 205.3,134.7 206.6,134.4 208.0,134.4 209.4,134.1 210.8,134.2 212.1,133.7 213.5,133.5 214.9,133.7 216.3,132.9 217.7,132.8 219.0,131.8 220.4,131.4 221.8,130.9 223.2,130.1 224.5,129.2 225.9,128.2 227.3,126.7 228.7,126.1 230.0,124.7 231.4,122.8 232.8,121.9 234.2,120.3 235.6,118.7 236.9,116.3 238.3,114.4 239.7,111.6 241.1,110.2 242.4,107.2 243.8,104.7 245.2,101.8 246.6,98.8 247.9,95.6 249.3,93.0 250.7,89.4 252.1,86.6 253.5,83.0 254.8,79.9 256.2,76.3 257.6,72.7 259.0,69.2 260.3,66.1 261.7,62.8 263.1,59.7 264.5,55.9 265.8,53.1 267.2,50.4 268.6,48.3 270.0,45.7 271.4,43.4 272.7,42.4 274.1,41.1 275.5,42.0 276.9,43.4 278.2,46.3 279.6,49.1 281.0,54.0 282.4,58.7 283.8,64.4 285.1,70.5 286.5,76.2 287.9,83.3 289.3,89.6 290.6,96.6 292.0,103.2 293.4,110.2 294.8,117.2 296.1,123.0 297.5,130.3 298.9,136.6 300.3,142.7 301.7,148.5 303.0,153.8 304.4,159.1 305.8,163.8 307.2,168.8 308.5,173.2 309.9,176.8 311.3,180.5 312.7,184.1 314.0,187.3 315.4,190.2 316.8,193.1 318.2,194.9 319.6,197.2 320.9,199.1 322.3,201.0 323.7,202.0 325.1,203.8 326.4,204.8 327.8,205.5 329.2,207.2 330.6,207.5 331.9,208.2 333.3,208.9 334.7,209.6 336.1,210.0 337.5,210.7 338.8,210.9 340.2,210.8 341.6,211.2 343.0,211.0 344.3,211.4 345.7,211.8 347.1,212.1 348.5,212.2 349.8,211.9 351.2,212.2 352.6,212.3" fill="none" stroke="#111111" stroke-width="2.0" stroke-linejoin="round"/>
<polyline points="111.6,160.4 113.0,160.2 114.4,159.7 115.8,159.8 117.1,159.1 118.5,159.2 119.9,158.9 121.3,158.7 122.6,159.3 124.0,158.4 125.4,158.7 126.8,158.2 128.1,157.9 129.5,158.3 130.9,157.6 132.3,157.7 133.7,157.7 135.0,157.3 136.4,157.9 137.8,157.4 139.2,157.5 140.5,157.1 141.9,157.3 143.3,157.2 144.7,157.4 146.1,157.0 147.4,156.8 148.8,157.2 150.2,156.9 151.6,156.6 152.9,156.9 154.3,156.9 155.7,157.0 157.1,156.9 158.4,156.9 159.8,157.0 161.2,156.3 162.6,156.6 164.0,156.3 165.3,156.1 166.7,156.2 168.1,155.6 169.5,155.6 170.8,155.1 172.2,155.1 173.6,154.6 175.0,153.4 176.3,153.2 177.7,152.1 179.1,151.4 180.5,150.1 181.9,148.3 183.2,146.8 184.6,145.0 186.0,143.7 187.4,141.8 188.7,140.1 190.1,137.9 191.5,136.6 192.9,135.0 194.2,134.0 195.6,132.9 197.0,132.3 198.4,132.6 199.8,131.8 201.1,132.1 202.5,132.4 203.9,131.4 205.3,131.5 206.6,131.5 208.0,130.7 209.4,131.1 210.8,130.4 212.1,130.0 213.5,130.1 214.9,129.4 216.3,129.4 217.7,128.8 219.0,128.2 220.4,127.1 221.8,126.4 223.2,125.8 224.5,124.3 225.9,123.8 227.3,122.7 228.7,121.5 230.0,119.8 231.4,118.1 232.8,117.0 234.2,114.6 235.6,113.2 236.9,111.0 238.3,108.4 239.7,106.6 241.1,104.3 242.4,101.9 243.8,99.2 245.2,95.9 246.6,93.5 247.9,90.2 249.3,87.2 250.7,84.3 252.1,80.5 253.5,77.8 254.8,74.2 256.2,70.2 257.6,67.0 259.0,63.5 260.3,60.2 261.7,57.0 263.1,53.9 264.5,50.9 265.8,47.4 267.2,44.8 268.6,41.9 270.0,39.7 271.4,37.7 272.7,36.5 274.1,34.9 275.5,34.8 276.9,35.7 278.2,38.7 279.6,42.1 281.0,46.3 282.4,50.4 283.8,56.0 285.1,61.8 286.5,68.2 287.9,74.3 289.3,81.4 290.6,88.2 292.0,95.0 293.4,101.2 294.8,108.4 296.1,115.8 297.5,122.2 298.9,128.4 300.3,134.7 301.7,141.0 303.0,146.9 304.4,151.9 305.8,157.5 307.2,162.7 308.5,167.3 309.9,171.2 311.3,175.0 312.7,179.1 314.0,182.1 315.4,185.8 316.8,188.5 318.2,190.4 319.6,193.2 320.9,195.3 322.3,196.8 323.7,199.4 325.1,200.5 326.4,201.8 327.8,203.2 329.2,204.1 330.6,204.9 331.9,206.0 333.3,206.5 334.7,207.5 336.1,207.5 337.5,208.1 338.8,209.1 340.2,209.1 341.6,209.3 343.0,210.0 344.3,209.9 345.7,209.7 347.1,210.1 348.5,210.4 349.8,210.6 351.2,210.3 352.6,210.7" fill="none" stroke="#cc2a2a" stroke-width="2.0" stroke-linejoin="round"/>
<polyline points="111.6,158.0 113.0,157.9 114.4,157.5 115.8,157.5 117.1,157.1 118.5,157.2 119.9,156.6 121.3,156.7 122.6,156.1 124.0,155.9 125.4,156.2 126.8,155.7 128.1,155.7 129.5,155.5 130.9,155.9 132.3,155.5 133.7,155.5 135.0,155.0 136.4,155.1 137.8,155.0 139.2,155.0 140.5,155.1 141.9,154.9 143.3,154.6 144.7,155.3 146.1,155.0 147.4,154.5 148.8,154.4 150.2,154.7 151.6,154.5 152.9,154.6 154.3,154.4 155.7,154.1 157.1,154.2 158.4,154.2 159.8,154.2 161.2,154.1 162.6,153.4 164.0,153.8 165.3,154.2 166.7,153.6 168.1,153.9 169.5,153.2 170.8,152.6 172.2,152.4 173.6,152.2 175.0,151.4 176.3,150.9 177.7,149.8 179.1,148.9 180.5,147.3 181.9,145.6 183.2,144.7 184.6,143.0 186.0,140.9 187.4,138.7 188.7,137.2 190.1,135.8 191.5,133.8 192.9,132.4 194.2,131.1 195.6,130.7 197.0,130.3 198.4,129.6 199.8,129.8 201.1,129.3 202.5,129.7 203.9,128.9 205.3,128.3 206.6,128.3 208.0,128.5 209.4,127.8 210.8,127.1 212.1,127.7 213.5,126.7 214.9,126.1 216.3,126.1 217.7,124.9 219.0,124.8 220.4,124.4 221.8,123.0 223.2,121.9 224.5,120.8 225.9,119.6 227.3,119.3 228.7,117.3 230.0,115.9 231.4,114.1 232.8,112.3 234.2,110.9 235.6,108.7 236.9,106.8 238.3,104.3 239.7,102.1 241.1,99.6 242.4,96.7 243.8,94.4 245.2,91.9 246.6,88.4 247.9,85.6 249.3,82.4 250.7,79.7 252.1,76.1 253.5,72.1 254.8,69.4 256.2,66.2 257.6,62.6 259.0,59.2 260.3,55.5 261.7,52.1 263.1,48.5 264.5,45.3 265.8,42.3 267.2,39.7 268.6,37.0 270.0,34.1 271.4,31.9 272.7,30.7 274.1,29.2 275.5,28.2 276.9,29.0 278.2,31.1 279.6,33.9 281.0,37.9 282.4,42.4 283.8,48.1 285.1,53.5 286.5,59.7 287.9,66.0 289.3,72.5 290.6,79.4 292.0,86.3 293.4,92.9 294.8,100.2 296.1,107.2 297.5,113.9 298.9,120.7 300.3,127.1 301.7,133.4 303.0,139.4 304.4,145.4 305.8,151.0 307.2,156.1 308.5,160.6 309.9,164.9 311.3,169.5 312.7,173.3 314.0,176.9 315.4,180.5 316.8,183.7 318.2,186.4 319.6,189.5 320.9,191.4 322.3,193.4 323.7,195.5 325.1,197.3 326.4,198.6 327.8,200.2 329.2,201.1 330.6,202.0 331.9,203.2 333.3,204.4 334.7,204.7 336.1,205.1 337.5,205.9 338.8,206.8 340.2,207.2 341.6,207.5 343.0,207.8 344.3,208.2 345.7,208.6 347.1,208.6 348.5,208.4 349.8,209.2 351.2,209.2 352.6,208.8" fill="none" stroke="#2b2bd6" stroke-width="2.0" stroke-linejoin="round"/>
<rect x="534.8" y="232.1" width="4.4" height="4.4" fill="#000"/>
<rect x="536.8" y="225.3" width="4.4" height="4.4" fill="#000"/>
<rect x="538.2" y="217.5" width="4.4" height="4.4" fill="#000"/>
<rect x="539.0" y="204.4" width="4.4" height="4.4" fill="#000"/>
<rect x="540.2" y="192.5" width="4.4" height="4.4" fill="#000"/>
<rect x="541.3" y="177.8" width="4.4" height="4.4" fill="#000"/>
<rect x="542.6" y="169.9" width="4.4" height="4.4" fill="#000"/>
<rect x="544.5" y="159.4" width="4.4" height="4.4" fill="#000"/>
<rect x="546.4" y="152.6" width="4.4" height="4.4" fill="#000"/>
<rect x="548.9" y="144.6" width="4.4" height="4.4" fill="#000"/>
<rect x="551.5" y="134.8" width="4.4" height="4.4" fill="#000"/>
<rect x="554.3" y="128.8" width="4.4" height="4.4" fill="#000"/>
<rect x="556.6" y="122.3" width="4.4" height="4.4" fill="#000"/>
<rect x="562.6" y="106.8" width="4.4" height="4.4" fill="#000"/>
<rect x="566.2" y="99.6" width="4.4" height="4.4" fill="#000"/>
<rect x="570.3" y="94.8" width="4.4" height="4.4" fill="#000"/>
<rect x="570.5" y="91.8" width="4.4" height="4.4" fill="#000"/>
<rect x="576.6" y="87.1" width="4.4" height="4.4" fill="#000"/>
<rect x="581.4" y="78.4" width="4.4" height="4.4" fill="#000"/>
<rect x="588.4" y="72.7" width="4.4" height="4.4" fill="#000"/>
<rect x="595.8" y="67.8" width="4.4" height="4.4" fill="#000"/>
<rect x="605.0" y="64.7" width="4.4" height="4.4" fill="#000"/>
<rect x="613.9" y="58.2" width="4.4" height="4.4" fill="#000"/>
<rect x="624.0" y="58.7" width="4.4" height="4.4" fill="#000"/>
<rect x="638.4" y="55.1" width="4.4" height="4.4" fill="#000"/>
<rect x="653.3" y="46.7" width="4.4" height="4.4" fill="#000"/>
<rect x="670.0" y="43.8" width="4.4" height="4.4" fill="#000"/>
<rect x="690.4" y="37.5" width="4.4" height="4.4" fill="#000"/>
<rect x="711.1" y="29.1" width="4.4" height="4.4" fill="#000"/>
<polyline points="537.0,228.0 558.8,111.0" fill="none" stroke="#c42a2a" stroke-width="2.1" stroke-linejoin="round"/>
<polyline points="564.8,109.0 570.0,101.0 580.0,88.0 590.6,74.9" fill="none" stroke="#c42a2a" stroke-width="2.1" stroke-linejoin="round"/>
<polyline points="598.0,70.0 713.3,31.3" fill="none" stroke="#c42a2a" stroke-width="2.1" stroke-linejoin="round"/>
<polyline points="111.4,569.9 112.8,570.8 114.1,572.2 115.5,572.5 116.9,572.2 118.2,573.5 119.6,574.2 121.0,574.4 122.3,575.3 123.7,575.0 125.1,576.1 126.4,576.6 127.8,577.1 129.2,577.2 130.6,578.1 131.9,577.8 133.3,578.7 134.7,578.8 136.0,579.4 137.4,580.1 138.8,579.7 140.1,580.0 141.5,580.5 142.9,580.5 144.2,580.9 145.6,581.7 147.0,581.4 148.3,582.0 149.7,582.3 151.1,581.4 152.4,582.0 153.8,582.8 155.2,583.2 156.5,583.1 157.9,583.3 159.3,583.2 160.6,583.7 162.0,583.7 163.4,584.3 164.8,584.6 166.1,584.4 167.5,583.7 168.9,584.5 170.2,584.9 171.6,584.7 173.0,585.4 174.3,584.8 175.7,584.6 177.1,585.5 178.4,585.1 179.8,585.1 181.2,585.4 182.5,585.3 183.9,585.6 185.3,585.6 186.6,585.7 188.0,586.2 189.4,585.7 190.7,586.2 192.1,586.3 193.5,586.1 194.8,585.9 196.2,586.5 197.6,586.7 199.0,586.3 200.3,586.3 201.7,586.4 203.1,586.6 204.4,586.7 205.8,586.6 207.2,586.9 208.5,586.9 209.9,586.7 211.3,587.2 212.6,587.1 214.0,587.4 215.4,586.8 216.7,587.4 218.1,586.9 219.5,586.9 220.8,587.0 222.2,586.5 223.6,587.3 224.9,587.3 226.3,586.8 227.7,587.0 229.0,587.5 230.4,587.1 231.8,587.1 233.2,587.3 234.5,587.1 235.9,586.8 237.3,587.0 238.6,586.7 240.0,587.0 241.4,587.1 242.7,587.1 244.1,587.1 245.5,586.6 246.8,587.2 248.2,587.4 249.6,587.1 250.9,587.0 252.3,587.5 253.7,586.9 255.0,587.5 256.4,586.9 257.8,586.9 259.1,587.0 260.5,587.5 261.9,587.6 263.2,586.8 264.6,587.4 266.0,587.4 267.4,586.6 268.7,587.0 270.1,586.9 271.5,587.5 272.8,586.8 274.2,586.5 275.6,586.7 276.9,587.2 278.3,586.7 279.7,587.3 281.0,587.1 282.4,587.2 283.8,586.7 285.1,587.1 286.5,586.7 287.9,586.8 289.2,586.7 290.6,587.0 292.0,586.7 293.3,587.4 294.7,586.4 296.1,586.8 297.4,586.9 298.8,586.6 300.2,587.3 301.6,586.7 302.9,587.0 304.3,586.9 305.7,586.7 307.0,586.3 308.4,586.2 309.8,586.2 311.1,586.5 312.5,586.5 313.9,586.8 315.2,586.0 316.6,586.1 318.0,586.7 319.3,586.8 320.7,586.4 322.1,586.3 323.4,586.9 324.8,586.2 326.2,586.2 327.5,586.6 328.9,586.6 330.3,586.0 331.6,586.6 333.0,586.1 334.4,586.4 335.8,586.3 337.1,585.7 338.5,586.3 339.9,586.0 341.2,586.0 342.6,585.9 344.0,586.1 345.3,585.8 346.7,585.8 348.1,585.8 349.4,586.3 350.8,586.0" fill="none" stroke="#111111" stroke-width="2.0" stroke-linejoin="round"/>
<polyline points="111.4,560.8 112.8,562.0 114.1,562.3 115.5,562.6 116.9,563.0 118.2,563.7 119.6,564.7 121.0,564.7 122.3,565.1 123.7,565.6 125.1,566.4 126.4,566.9 127.8,567.2 129.2,567.7 130.6,567.6 131.9,568.3 133.3,568.2 134.7,569.1 136.0,568.8 137.4,569.2 138.8,569.9 140.1,570.3 141.5,570.8 142.9,570.7 144.2,571.6 145.6,571.1 147.0,571.9 148.3,572.1 149.7,572.2 151.1,572.3 152.4,572.9 153.8,573.1 155.2,573.0 156.5,573.8 157.9,574.4 159.3,573.7 160.6,574.5 162.0,574.7 163.4,574.6 164.8,575.1 166.1,575.2 167.5,575.1 168.9,575.5 170.2,575.2 171.6,575.3 173.0,575.5 174.3,575.8 175.7,576.5 177.1,575.5 178.4,576.5 179.8,576.2 181.2,576.7 182.5,577.0 183.9,576.6 185.3,577.0 186.6,577.3 188.0,577.0 189.4,576.9 190.7,577.3 192.1,577.6 193.5,577.5 194.8,577.4 196.2,578.0 197.6,577.7 199.0,577.6 200.3,577.6 201.7,577.9 203.1,578.3 204.4,578.2 205.8,578.3 207.2,578.2 208.5,578.3 209.9,578.7 211.3,578.4 212.6,578.4 214.0,578.5 215.4,578.0 216.7,578.0 218.1,577.6 219.5,577.8 220.8,577.6 222.2,577.0 223.6,576.5 224.9,575.3 226.3,574.6 227.7,574.0 229.0,572.4 230.4,571.2 231.8,569.2 233.2,567.7 234.5,564.9 235.9,562.4 237.3,560.1 238.6,557.7 240.0,555.5 241.4,553.0 242.7,551.0 244.1,548.8 245.5,547.1 246.8,545.9 248.2,544.5 249.6,543.3 250.9,543.8 252.3,544.1 253.7,544.9 255.0,545.6 256.4,546.8 257.8,548.3 259.1,550.2 260.5,552.3 261.9,553.5 263.2,556.1 264.6,558.5 266.0,560.3 267.4,562.9 268.7,564.9 270.1,566.9 271.5,568.7 272.8,570.2 274.2,571.7 275.6,573.1 276.9,574.3 278.3,575.4 279.7,576.4 281.0,576.9 282.4,577.7 283.8,578.2 285.1,578.5 286.5,579.0 287.9,579.3 289.2,579.3 290.6,579.8 292.0,579.9 293.3,579.5 294.7,580.0 296.1,580.0 297.4,579.9 298.8,580.0 300.2,580.5 301.6,580.7 302.9,580.3 304.3,580.3 305.7,580.1 307.0,580.0 308.4,580.2 309.8,580.3 311.1,580.5 312.5,580.9 313.9,580.3 315.2,580.3 316.6,580.7 318.0,580.1 319.3,581.0 320.7,580.7 322.1,580.5 323.4,580.6 324.8,580.6 326.2,580.4 327.5,580.5 328.9,580.7 330.3,580.6 331.6,580.2 333.0,580.3 334.4,580.5 335.8,580.3 337.1,580.6 338.5,580.2 339.9,580.4 341.2,580.6 342.6,580.4 344.0,580.6 345.3,580.2 346.7,580.6 348.1,580.9 349.4,580.7 350.8,581.1" fill="none" stroke="#cc2a2a" stroke-width="2.0" stroke-linejoin="round"/>
<polyline points="111.4,547.8 112.8,549.0 114.1,549.6 115.5,550.4 116.9,551.0 118.2,551.2 119.6,552.1 121.0,552.3 122.3,552.9 123.7,553.5 125.1,554.0 126.4,554.1 127.8,555.3 129.2,555.1 130.6,555.9 131.9,556.5 133.3,556.8 134.7,557.4 136.0,557.4 137.4,557.9 138.8,558.2 140.1,558.8 141.5,558.6 142.9,559.2 144.2,559.7 145.6,560.4 147.0,560.4 148.3,560.0 149.7,560.4 151.1,561.1 152.4,560.8 153.8,561.0 155.2,561.6 156.5,561.6 157.9,561.7 159.3,562.2 160.6,561.7 162.0,561.8 163.4,562.7 164.8,562.1 166.1,562.5 167.5,562.5 168.9,562.8 170.2,562.7 171.6,563.1 173.0,563.5 174.3,563.5 175.7,563.4 177.1,563.4 178.4,564.0 179.8,563.3 181.2,563.5 182.5,564.1 183.9,564.2 185.3,564.8 186.6,564.9 188.0,564.3 189.4,564.8 190.7,564.6 192.1,565.4 193.5,565.1 194.8,565.4 196.2,565.6 197.6,566.1 199.0,566.1 200.3,565.8 201.7,566.2 203.1,566.6 204.4,566.0 205.8,566.3 207.2,567.1 208.5,567.0 209.9,566.8 211.3,566.8 212.6,566.8 214.0,566.6 215.4,566.2 216.7,567.0 218.1,566.4 219.5,565.8 220.8,566.0 222.2,565.0 223.6,564.9 224.9,563.8 226.3,562.7 227.7,560.9 229.0,559.8 230.4,558.2 231.8,555.9 233.2,553.1 234.5,550.5 235.9,547.4 237.3,544.2 238.6,540.8 240.0,537.0 241.4,533.8 242.7,530.2 244.1,526.7 245.5,523.6 246.8,520.9 248.2,518.7 249.6,516.9 250.9,516.0 252.3,515.8 253.7,516.6 255.0,516.6 256.4,518.1 257.8,520.0 259.1,522.3 260.5,524.6 261.9,527.2 263.2,530.0 264.6,533.4 266.0,536.8 267.4,539.9 268.7,543.1 270.1,546.1 271.5,549.0 272.8,551.5 274.2,553.5 275.6,556.5 276.9,558.5 278.3,560.0 279.7,560.9 281.0,562.5 282.4,564.3 283.8,565.2 285.1,565.5 286.5,566.3 287.9,566.5 289.2,567.4 290.6,567.5 292.0,567.6 293.3,567.6 294.7,568.4 296.1,568.1 297.4,568.4 298.8,568.9 300.2,568.6 301.6,569.0 302.9,569.1 304.3,568.8 305.7,568.9 307.0,568.7 308.4,568.7 309.8,568.3 311.1,569.0 312.5,568.6 313.9,568.6 315.2,568.9 316.6,568.3 318.0,568.7 319.3,568.9 320.7,568.4 322.1,568.7 323.4,568.6 324.8,568.6 326.2,568.6 327.5,568.3 328.9,568.7 330.3,568.8 331.6,568.5 333.0,568.5 334.4,568.5 335.8,568.7 337.1,568.7 338.5,569.1 339.9,569.2 341.2,568.8 342.6,568.9 344.0,568.4 345.3,568.2 346.7,568.8 348.1,568.7 349.4,568.7 350.8,568.5" fill="none" stroke="#2b2bd6" stroke-width="2.0" stroke-linejoin="round"/>
<polyline points="111.4,545.9 112.8,546.5 114.1,547.3 115.5,547.6 116.9,548.3 118.2,548.7 119.6,549.4 121.0,549.4 122.3,549.6 123.7,550.0 125.1,550.7 126.4,551.0 127.8,551.7 129.2,552.2 130.6,551.9 131.9,552.4 133.3,553.1 134.7,553.2 136.0,553.9 137.4,553.7 138.8,554.1 140.1,553.7 141.5,554.2 142.9,554.9 144.2,555.2 145.6,554.9 147.0,554.6 148.3,555.2 149.7,555.4 151.1,555.3 152.4,555.2 153.8,555.2 155.2,555.1 156.5,555.3 157.9,555.0 159.3,555.2 160.6,555.0 162.0,554.6 163.4,554.5 164.8,554.5 166.1,554.6 167.5,554.2 168.9,554.3 170.2,554.1 171.6,553.8 173.0,553.7 174.3,554.0 175.7,554.0 177.1,553.9 178.4,554.0 179.8,553.7 181.2,554.0 182.5,554.3 183.9,554.9 185.3,554.8 186.6,555.1 188.0,554.8 189.4,555.6 190.7,556.0 192.1,556.3 193.5,556.7 194.8,556.7 196.2,557.4 197.6,557.7 199.0,558.7 200.3,558.6 201.7,558.6 203.1,559.1 204.4,559.3 205.8,559.4 207.2,559.7 208.5,560.1 209.9,560.2 211.3,560.6 212.6,560.0 214.0,560.4 215.4,560.7 216.7,559.8 218.1,559.8 219.5,560.1 220.8,559.2 222.2,558.9 223.6,557.8 224.9,556.8 226.3,555.5 227.7,553.8 229.0,551.9 230.4,549.4 231.8,546.8 233.2,544.2 234.5,540.5 235.9,537.2 237.3,532.7 238.6,529.2 240.0,524.1 241.4,520.7 242.7,516.0 244.1,512.1 245.5,508.4 246.8,504.9 248.2,502.5 249.6,500.9 250.9,499.4 252.3,499.4 253.7,499.2 255.0,500.0 256.4,501.8 257.8,503.4 259.1,505.9 260.5,509.0 261.9,512.2 263.2,515.8 264.6,519.0 266.0,522.4 267.4,526.0 268.7,530.0 270.1,533.4 271.5,537.5 272.8,540.3 274.2,543.3 275.6,545.9 276.9,548.9 278.3,550.7 279.7,552.5 281.0,554.9 282.4,556.2 283.8,557.8 285.1,558.4 286.5,559.7 287.9,560.0 289.2,560.7 290.6,561.2 292.0,561.1 293.3,562.1 294.7,562.3 296.1,562.1 297.4,562.5 298.8,562.5 300.2,562.3 301.6,562.9 302.9,562.6 304.3,562.6 305.7,562.7 307.0,562.7 308.4,562.5 309.8,563.2 311.1,562.9 312.5,562.9 313.9,562.2 315.2,563.4 316.6,563.1 318.0,562.5 319.3,562.9 320.7,562.6 322.1,563.2 323.4,562.8 324.8,563.2 326.2,563.0 327.5,563.1 328.9,562.6 330.3,563.1 331.6,562.8 333.0,562.9 334.4,562.9 335.8,562.6 337.1,563.3 338.5,562.9 339.9,563.1 341.2,562.8 342.6,562.8 344.0,563.0 345.3,562.8 346.7,563.1 348.1,563.3 349.4,562.9 350.8,563.0" fill="none" stroke="#2f7a78" stroke-width="2.0" stroke-linejoin="round"/>
<polyline points="111.4,545.2 112.8,545.1 114.1,545.3 115.5,545.7 116.9,546.4 118.2,547.0 119.6,546.8 121.0,547.2 122.3,547.7 123.7,547.7 125.1,548.2 126.4,548.7 127.8,548.7 129.2,549.1 130.6,549.2 131.9,549.7 133.3,549.6 134.7,550.4 136.0,550.1 137.4,549.9 138.8,550.5 140.1,550.8 141.5,550.6 142.9,551.0 144.2,551.1 145.6,550.9 147.0,551.2 148.3,550.4 149.7,551.4 151.1,551.1 152.4,550.6 153.8,550.5 155.2,550.7 156.5,550.7 157.9,550.3 159.3,549.7 160.6,549.1 162.0,549.1 163.4,548.9 164.8,548.7 166.1,548.1 167.5,547.9 168.9,547.9 170.2,547.5 171.6,547.3 173.0,547.3 174.3,547.4 175.7,547.2 177.1,547.6 178.4,546.6 179.8,546.8 181.2,547.0 182.5,547.6 183.9,547.7 185.3,547.5 186.6,547.6 188.0,548.6 189.4,548.8 190.7,549.4 192.1,549.6 193.5,550.3 194.8,550.6 196.2,551.1 197.6,551.2 199.0,551.9 200.3,552.0 201.7,552.9 203.1,552.7 204.4,553.5 205.8,553.5 207.2,553.8 208.5,554.4 209.9,554.8 211.3,554.8 212.6,554.9 214.0,554.7 215.4,555.1 216.7,554.9 218.1,554.8 219.5,554.8 220.8,553.7 222.2,553.4 223.6,552.5 224.9,552.2 226.3,549.9 227.7,548.6 229.0,546.9 230.4,544.7 231.8,541.8 233.2,538.9 234.5,535.4 235.9,532.2 237.3,528.0 238.6,524.1 240.0,520.2 241.4,516.0 242.7,512.6 244.1,507.6 245.5,504.3 246.8,501.1 248.2,499.0 249.6,497.0 250.9,495.2 252.3,495.0 253.7,494.7 255.0,495.9 256.4,497.0 257.8,498.7 259.1,501.0 260.5,504.0 261.9,506.5 263.2,509.3 264.6,513.1 266.0,516.4 267.4,520.4 268.7,523.8 270.1,527.2 271.5,530.6 272.8,533.9 274.2,536.5 275.6,539.6 276.9,542.1 278.3,543.9 279.7,546.1 281.0,548.6 282.4,550.2 283.8,550.9 285.1,552.7 286.5,553.5 287.9,554.1 289.2,555.1 290.6,555.7 292.0,556.1 293.3,556.1 294.7,556.6 296.1,557.0 297.4,557.2 298.8,557.4 300.2,557.2 301.6,558.0 302.9,557.4 304.3,558.0 305.7,557.2 307.0,558.1 308.4,557.7 309.8,557.7 311.1,557.3 312.5,557.9 313.9,557.6 315.2,558.1 316.6,558.0 318.0,558.1 319.3,558.2 320.7,557.6 322.1,558.0 323.4,558.0 324.8,557.9 326.2,558.0 327.5,558.2 328.9,557.7 330.3,557.5 331.6,557.9 333.0,558.4 334.4,557.8 335.8,558.1 337.1,557.7 338.5,558.2 339.9,557.8 341.2,558.0 342.6,557.7 344.0,558.1 345.3,558.2 346.7,558.1 348.1,558.0 349.4,557.5 350.8,557.9" fill="none" stroke="#d028e0" stroke-width="2.0" stroke-linejoin="round"/>
<polyline points="111.4,541.3 112.8,541.5 114.1,541.9 115.5,542.3 116.9,543.0 118.2,543.0 119.6,544.0 121.0,543.5 122.3,543.7 123.7,544.3 125.1,544.1 126.4,544.5 127.8,544.6 129.2,545.0 130.6,545.3 131.9,545.1 133.3,545.5 134.7,545.4 136.0,545.6 137.4,545.7 138.8,546.0 140.1,546.4 141.5,546.3 142.9,545.6 144.2,546.3 145.6,546.0 147.0,546.7 148.3,546.0 149.7,545.8 151.1,545.8 152.4,546.1 153.8,545.5 155.2,545.5 156.5,545.3 157.9,544.9 159.3,544.5 160.6,544.4 162.0,543.1 163.4,543.4 164.8,542.5 166.1,542.3 167.5,542.2 168.9,541.6 170.2,541.4 171.6,540.9 173.0,541.0 174.3,540.8 175.7,539.9 177.1,540.2 178.4,540.1 179.8,540.5 181.2,540.5 182.5,540.5 183.9,540.9 185.3,541.1 186.6,541.3 188.0,541.3 189.4,542.3 190.7,542.3 192.1,542.6 193.5,543.7 194.8,543.9 196.2,544.9 197.6,544.5 199.0,545.5 200.3,545.9 201.7,546.3 203.1,546.9 204.4,547.3 205.8,547.5 207.2,548.0 208.5,548.2 209.9,548.6 211.3,549.1 212.6,549.3 214.0,548.9 215.4,549.1 216.7,548.8 218.1,549.1 219.5,549.1 220.8,548.3 222.2,547.4 223.6,546.5 224.9,545.6 226.3,544.1 227.7,543.1 229.0,540.8 230.4,538.3 231.8,535.8 233.2,532.9 234.5,529.4 235.9,525.8 237.3,521.5 238.6,517.8 240.0,513.1 241.4,509.0 242.7,504.2 244.1,500.5 245.5,496.7 246.8,493.4 248.2,490.9 249.6,488.5 250.9,487.3 252.3,486.3 253.7,486.6 255.0,486.9 256.4,488.5 257.8,489.8 259.1,491.9 260.5,494.6 261.9,497.7 263.2,500.3 264.6,503.5 266.0,507.3 267.4,510.9 268.7,514.5 270.1,518.2 271.5,521.9 272.8,525.6 274.2,527.9 275.6,531.5 276.9,534.0 278.3,537.0 279.7,538.7 281.0,540.9 282.4,543.0 283.8,544.7 285.1,545.7 286.5,546.6 287.9,548.2 289.2,548.9 290.6,549.4 292.0,550.2 293.3,550.6 294.7,550.8 296.1,551.4 297.4,551.6 298.8,552.1 300.2,551.8 301.6,551.7 302.9,552.1 304.3,552.1 305.7,552.5 307.0,552.0 308.4,552.1 309.8,552.7 311.1,552.4 312.5,552.7 313.9,552.7 315.2,552.4 316.6,552.5 318.0,552.2 319.3,552.6 320.7,552.5 322.1,552.4 323.4,552.3 324.8,552.6 326.2,552.5 327.5,552.4 328.9,552.5 330.3,552.6 331.6,552.2 333.0,552.3 334.4,552.4 335.8,552.8 337.1,552.1 338.5,552.7 339.9,552.6 341.2,552.4 342.6,552.4 344.0,552.4 345.3,552.7 346.7,552.5 348.1,552.7 349.4,552.2 350.8,552.7" fill="none" stroke="#7c7c1e" stroke-width="2.0" stroke-linejoin="round"/>
<polyline points="111.4,534.5 112.8,534.9 114.1,534.7 115.5,536.1 116.9,535.7 118.2,535.6 119.6,536.6 121.0,536.7 122.3,536.8 123.7,536.9 125.1,537.9 126.4,537.9 127.8,537.8 129.2,537.9 130.6,538.5 131.9,539.2 133.3,538.8 134.7,539.0 136.0,538.9 137.4,539.3 138.8,539.2 140.1,539.4 141.5,539.6 142.9,539.6 144.2,539.7 145.6,539.8 147.0,539.2 148.3,539.3 149.7,539.0 151.1,539.1 152.4,538.8 153.8,538.4 155.2,538.5 156.5,537.7 157.9,537.3 159.3,537.4 160.6,536.5 162.0,536.0 163.4,535.4 164.8,534.9 166.1,534.2 167.5,534.0 168.9,533.2 170.2,533.1 171.6,532.8 173.0,531.8 174.3,531.2 175.7,531.4 177.1,531.3 178.4,530.8 179.8,530.9 181.2,531.0 182.5,531.3 183.9,531.4 185.3,531.9 186.6,532.1 188.0,532.7 189.4,532.8 190.7,533.4 192.1,534.2 193.5,534.6 194.8,535.0 196.2,536.1 197.6,536.5 199.0,537.6 200.3,538.0 201.7,538.3 203.1,539.1 204.4,539.6 205.8,540.4 207.2,540.5 208.5,540.9 209.9,541.8 211.3,542.1 212.6,542.7 214.0,542.7 215.4,543.1 216.7,543.0 218.1,543.0 219.5,542.4 220.8,541.5 222.2,541.1 223.6,539.8 224.9,539.4 226.3,538.1 227.7,536.0 229.0,533.6 230.4,531.6 231.8,528.7 233.2,525.3 234.5,521.9 235.9,517.8 237.3,513.6 238.6,509.2 240.0,504.8 241.4,499.9 242.7,495.2 244.1,491.2 245.5,487.5 246.8,483.4 248.2,480.7 249.6,478.3 250.9,476.6 252.3,475.7 253.7,475.7 255.0,475.8 256.4,476.8 257.8,478.5 259.1,480.3 260.5,483.2 261.9,486.1 263.2,489.0 264.6,493.2 266.0,496.3 267.4,499.9 268.7,504.1 270.1,508.0 271.5,510.9 272.8,514.4 274.2,518.9 275.6,521.8 276.9,524.7 278.3,527.3 279.7,530.6 281.0,533.0 282.4,534.9 283.8,536.9 285.1,537.8 286.5,539.8 287.9,540.8 289.2,542.1 290.6,542.8 292.0,543.6 293.3,544.1 294.7,544.6 296.1,545.2 297.4,545.5 298.8,545.8 300.2,546.0 301.6,546.4 302.9,546.5 304.3,546.6 305.7,546.6 307.0,546.4 308.4,546.5 309.8,546.9 311.1,546.8 312.5,547.0 313.9,546.9 315.2,547.0 316.6,547.0 318.0,546.9 319.3,546.8 320.7,546.9 322.1,546.6 323.4,546.5 324.8,547.2 326.2,546.5 327.5,546.8 328.9,546.7 330.3,546.8 331.6,546.9 333.0,546.4 334.4,547.3 335.8,547.5 337.1,546.7 338.5,546.5 339.9,547.1 341.2,547.0 342.6,547.0 344.0,546.6 345.3,546.7 346.7,546.9 348.1,546.4 349.4,546.6 350.8,547.1" fill="none" stroke="#1c1c84" stroke-width="2.0" stroke-linejoin="round"/>
<polyline points="111.4,524.1 112.8,524.6 114.1,524.6 115.5,525.1 116.9,525.7 118.2,526.4 119.6,526.3 121.0,526.9 122.3,526.9 123.7,527.3 125.1,527.7 126.4,528.2 127.8,528.6 129.2,528.7 130.6,528.5 131.9,529.1 133.3,529.5 134.7,529.9 136.0,530.0 137.4,529.9 138.8,530.6 140.1,530.2 141.5,530.5 142.9,530.6 144.2,530.7 145.6,530.9 147.0,530.6 148.3,530.7 149.7,530.4 151.1,530.4 152.4,530.1 153.8,529.1 155.2,529.3 156.5,528.6 157.9,528.1 159.3,527.7 160.6,527.2 162.0,526.4 163.4,525.8 164.8,525.5 166.1,524.4 167.5,524.5 168.9,523.3 170.2,522.6 171.6,522.1 173.0,522.1 174.3,521.1 175.7,521.1 177.1,521.6 178.4,520.5 179.8,520.3 181.2,520.6 182.5,521.3 183.9,521.0 185.3,521.3 186.6,521.7 188.0,521.8 189.4,522.5 190.7,523.4 192.1,523.8 193.5,525.0 194.8,525.2 196.2,525.8 197.6,526.6 199.0,528.3 200.3,528.9 201.7,529.2 203.1,530.2 204.4,531.1 205.8,531.5 207.2,532.3 208.5,532.4 209.9,532.8 211.3,533.9 212.6,533.9 214.0,534.7 215.4,534.4 216.7,535.0 218.1,534.4 219.5,534.2 220.8,533.8 222.2,533.1 223.6,532.1 224.9,531.0 226.3,529.3 227.7,527.4 229.0,525.0 230.4,522.4 231.8,519.1 233.2,516.0 234.5,511.8 235.9,507.6 237.3,503.2 238.6,498.5 240.0,493.8 241.4,488.6 242.7,483.6 244.1,478.9 245.5,474.5 246.8,470.4 248.2,467.5 249.6,464.4 250.9,462.1 252.3,461.2 253.7,461.1 255.0,461.7 256.4,462.4 257.8,464.3 259.1,465.6 260.5,468.9 261.9,471.3 263.2,474.7 264.6,478.4 266.0,481.5 267.4,486.3 268.7,489.9 270.1,494.3 271.5,498.3 272.8,502.3 274.2,506.3 275.6,509.7 276.9,513.4 278.3,516.6 279.7,519.3 281.0,522.4 282.4,524.7 283.8,526.7 285.1,529.1 286.5,530.9 287.9,532.5 289.2,533.1 290.6,534.9 292.0,535.7 293.3,536.2 294.7,537.0 296.1,537.9 297.4,538.2 298.8,538.9 300.2,538.7 301.6,539.4 302.9,539.1 304.3,539.1 305.7,539.7 307.0,539.9 308.4,539.8 309.8,539.8 311.1,539.9 312.5,540.1 313.9,539.7 315.2,539.9 316.6,540.3 318.0,539.9 319.3,540.1 320.7,539.7 322.1,539.8 323.4,540.0 324.8,540.1 326.2,540.2 327.5,540.0 328.9,539.8 330.3,540.8 331.6,539.9 333.0,540.0 334.4,539.8 335.8,540.3 337.1,540.1 338.5,540.1 339.9,540.1 341.2,539.9 342.6,539.6 344.0,539.8 345.3,540.4 346.7,540.2 348.1,540.0 349.4,540.3 350.8,540.1" fill="none" stroke="#661414" stroke-width="2.0" stroke-linejoin="round"/>
<polyline points="111.4,519.8 112.8,520.0 114.1,520.1 115.5,520.7 116.9,521.1 118.2,521.1 119.6,521.2 121.0,521.8 122.3,522.1 123.7,522.2 125.1,522.6 126.4,522.8 127.8,522.8 129.2,522.6 130.6,523.6 131.9,523.6 133.3,524.0 134.7,524.2 136.0,524.0 137.4,523.6 138.8,524.5 140.1,524.2 141.5,524.4 142.9,524.5 144.2,524.1 145.6,524.6 147.0,524.5 148.3,524.1 149.7,523.4 151.1,523.4 152.4,523.0 153.8,523.3 155.2,522.2 156.5,521.9 157.9,520.7 159.3,520.2 160.6,520.0 162.0,519.0 163.4,518.3 164.8,516.8 166.1,516.2 167.5,515.6 168.9,514.5 170.2,513.9 171.6,513.3 173.0,512.5 174.3,512.0 175.7,511.1 177.1,510.8 178.4,510.5 179.8,510.1 181.2,510.6 182.5,510.3 183.9,510.9 185.3,510.9 186.6,511.6 188.0,511.8 189.4,511.8 190.7,512.9 192.1,513.8 193.5,514.3 194.8,515.4 196.2,515.9 197.6,517.2 199.0,517.8 200.3,519.3 201.7,520.3 203.1,520.2 204.4,521.6 205.8,522.4 207.2,523.8 208.5,524.3 209.9,524.6 211.3,525.0 212.6,525.9 214.0,526.3 215.4,526.7 216.7,526.5 218.1,527.0 219.5,526.4 220.8,525.2 222.2,524.8 223.6,524.8 224.9,523.4 226.3,521.3 227.7,520.3 229.0,517.3 230.4,514.4 231.8,512.0 233.2,508.4 234.5,504.9 235.9,500.2 237.3,496.0 238.6,491.2 240.0,486.0 241.4,481.1 242.7,476.5 244.1,471.6 245.5,467.1 246.8,462.4 248.2,459.2 249.6,456.8 250.9,453.9 252.3,453.0 253.7,452.6 255.0,452.5 256.4,454.1 257.8,454.4 259.1,456.3 260.5,458.7 261.9,461.5 263.2,464.7 264.6,467.7 266.0,471.9 267.4,475.4 268.7,479.9 270.1,483.8 271.5,487.7 272.8,491.1 274.2,495.9 275.6,499.4 276.9,503.1 278.3,506.4 279.7,509.5 281.0,512.0 282.4,514.6 283.8,517.3 285.1,519.3 286.5,521.5 287.9,523.5 289.2,524.5 290.6,525.9 292.0,526.9 293.3,528.7 294.7,528.5 296.1,529.8 297.4,529.8 298.8,530.8 300.2,531.3 301.6,531.5 302.9,531.8 304.3,532.0 305.7,532.2 307.0,532.1 308.4,531.9 309.8,532.4 311.1,532.6 312.5,532.7 313.9,532.6 315.2,532.3 316.6,532.7 318.0,532.3 319.3,532.6 320.7,532.6 322.1,532.6 323.4,532.8 324.8,532.4 326.2,532.8 327.5,532.4 328.9,532.5 330.3,532.7 331.6,532.6 333.0,532.6 334.4,532.5 335.8,533.1 337.1,532.3 338.5,532.6 339.9,532.5 341.2,532.7 342.6,532.8 344.0,532.5 345.3,532.6 346.7,532.6 348.1,532.5 349.4,532.7 350.8,532.6" fill="none" stroke="#cc2a2a" stroke-width="2.0" stroke-linejoin="round"/>
<polyline points="111.4,511.3 112.8,512.0 114.1,512.3 115.5,512.7 116.9,513.1 118.2,513.5 119.6,513.4 121.0,514.0 122.3,514.2 123.7,514.3 125.1,514.5 126.4,514.9 127.8,515.3 129.2,515.9 130.6,515.8 131.9,516.2 133.3,516.2 134.7,516.5 136.0,516.7 137.4,517.0 138.8,516.6 140.1,517.0 141.5,517.4 142.9,517.1 144.2,517.0 145.6,516.1 147.0,516.1 148.3,516.1 149.7,515.7 151.1,515.4 152.4,514.8 153.8,514.3 155.2,513.7 156.5,512.9 157.9,512.2 159.3,511.5 160.6,510.7 162.0,509.1 163.4,508.1 164.8,507.4 166.1,506.0 167.5,505.1 168.9,503.7 170.2,503.3 171.6,501.7 173.0,500.7 174.3,499.9 175.7,499.1 177.1,498.7 178.4,498.1 179.8,497.6 181.2,497.6 182.5,497.8 183.9,497.6 185.3,497.8 186.6,498.4 188.0,498.9 189.4,499.7 190.7,500.5 192.1,501.7 193.5,502.3 194.8,503.6 196.2,505.1 197.6,506.0 199.0,506.9 200.3,507.8 201.7,509.2 203.1,510.5 204.4,511.4 205.8,512.8 207.2,513.9 208.5,514.6 209.9,515.7 211.3,516.3 212.6,517.3 214.0,518.3 215.4,518.4 216.7,518.6 218.1,518.6 219.5,519.3 220.8,518.6 222.2,518.3 223.6,517.5 224.9,516.5 226.3,515.5 227.7,513.6 229.0,511.5 230.4,509.4 231.8,506.5 233.2,503.2 234.5,499.1 235.9,495.6 237.3,491.6 238.6,486.9 240.0,482.7 241.4,477.2 242.7,473.0 244.1,467.8 245.5,463.8 246.8,460.5 248.2,457.0 249.6,453.7 250.9,451.6 252.3,450.0 253.7,449.7 255.0,449.7 256.4,449.8 257.8,450.8 259.1,452.5 260.5,454.5 261.9,457.2 263.2,459.6 264.6,462.6 266.0,466.1 267.4,469.8 268.7,473.5 270.1,476.6 271.5,480.8 272.8,484.4 274.2,488.0 275.6,492.0 276.9,495.4 278.3,498.6 279.7,501.9 281.0,504.6 282.4,507.2 283.8,509.9 285.1,512.0 286.5,514.3 287.9,515.9 289.2,517.2 290.6,518.9 292.0,520.5 293.3,521.2 294.7,522.1 296.1,522.5 297.4,523.5 298.8,524.0 300.2,524.5 301.6,525.0 302.9,525.1 304.3,525.3 305.7,525.4 307.0,526.2 308.4,525.7 309.8,525.9 311.1,526.0 312.5,526.5 313.9,526.2 315.2,525.9 316.6,526.6 318.0,526.5 319.3,526.8 320.7,526.5 322.1,526.5 323.4,526.0 324.8,526.8 326.2,526.5 327.5,527.0 328.9,526.4 330.3,526.4 331.6,526.4 333.0,526.7 334.4,526.5 335.8,526.3 337.1,526.5 338.5,526.6 339.9,526.8 341.2,526.3 342.6,526.6 344.0,526.6 345.3,526.6 346.7,527.0 348.1,526.5 349.4,526.4 350.8,526.2" fill="none" stroke="#2e7a2e" stroke-width="2.0" stroke-linejoin="round"/>
<polyline points="111.4,507.8 112.8,508.2 114.1,508.6 115.5,509.3 116.9,509.6 118.2,509.5 119.6,510.1 121.0,510.5 122.3,510.8 123.7,511.0 125.1,510.8 126.4,511.1 127.8,511.7 129.2,512.1 130.6,512.1 131.9,512.3 133.3,512.6 134.7,512.7 136.0,512.8 137.4,512.9 138.8,512.8 140.1,512.6 141.5,512.5 142.9,512.5 144.2,512.4 145.6,512.0 147.0,512.2 148.3,511.7 149.7,511.2 151.1,510.5 152.4,510.1 153.8,509.8 155.2,508.8 156.5,507.7 157.9,507.2 159.3,505.5 160.6,504.9 162.0,503.5 163.4,502.1 164.8,500.5 166.1,499.3 167.5,498.2 168.9,496.5 170.2,495.2 171.6,494.0 173.0,493.0 174.3,492.3 175.7,491.2 177.1,490.5 178.4,489.2 179.8,488.8 181.2,488.6 182.5,488.4 183.9,488.8 185.3,488.7 186.6,489.3 188.0,489.4 189.4,490.5 190.7,491.6 192.1,492.4 193.5,493.2 194.8,494.5 196.2,495.7 197.6,496.9 199.0,498.6 200.3,499.4 201.7,501.0 203.1,502.7 204.4,503.8 205.8,505.4 207.2,506.7 208.5,507.5 209.9,508.7 211.3,509.4 212.6,511.2 214.0,511.9 215.4,512.2 216.7,512.9 218.1,513.2 219.5,514.3 220.8,513.5 222.2,513.5 223.6,512.8 224.9,511.8 226.3,510.8 227.7,509.2 229.0,506.6 230.4,505.1 231.8,502.6 233.2,500.0 234.5,496.1 235.9,492.9 237.3,488.4 238.6,484.2 240.0,479.5 241.4,476.0 242.7,470.9 244.1,466.4 245.5,462.6 246.8,458.6 248.2,455.2 249.6,452.7 250.9,450.0 252.3,448.6 253.7,447.5 255.0,447.3 256.4,448.2 257.8,448.8 259.1,449.9 260.5,452.2 261.9,453.5 263.2,455.9 264.6,459.1 266.0,462.2 267.4,465.4 268.7,468.6 270.1,471.8 271.5,475.6 272.8,478.6 274.2,482.9 275.6,486.0 276.9,488.9 278.3,492.8 279.7,495.9 281.0,498.5 282.4,501.5 283.8,503.9 285.1,506.4 286.5,508.0 287.9,510.2 289.2,512.0 290.6,512.7 292.0,515.0 293.3,516.1 294.7,517.0 296.1,517.4 297.4,519.0 298.8,519.3 300.2,520.3 301.6,519.9 302.9,520.7 304.3,521.1 305.7,521.1 307.0,521.1 308.4,521.4 309.8,522.4 311.1,522.1 312.5,521.6 313.9,521.6 315.2,522.5 316.6,522.3 318.0,522.0 319.3,521.9 320.7,522.1 322.1,522.3 323.4,522.5 324.8,522.2 326.2,522.3 327.5,522.5 328.9,522.4 330.3,521.9 331.6,522.7 333.0,521.9 334.4,522.2 335.8,522.6 337.1,522.0 338.5,522.8 339.9,522.3 341.2,522.0 342.6,522.3 344.0,522.0 345.3,522.4 346.7,521.9 348.1,522.6 349.4,522.3 350.8,522.3" fill="none" stroke="#1c1c84" stroke-width="2.0" stroke-linejoin="round"/>
<polyline points="111.4,503.3 112.8,504.1 114.1,504.0 115.5,504.3 116.9,504.6 118.2,505.3 119.6,505.7 121.0,505.6 122.3,506.5 123.7,506.3 125.1,506.6 126.4,506.9 127.8,507.2 129.2,507.7 130.6,508.1 131.9,508.7 133.3,508.2 134.7,508.1 136.0,508.5 137.4,508.8 138.8,508.5 140.1,508.6 141.5,508.8 142.9,508.7 144.2,508.0 145.6,508.1 147.0,508.0 148.3,507.5 149.7,507.1 151.1,506.3 152.4,505.7 153.8,505.1 155.2,504.1 156.5,503.3 157.9,502.1 159.3,500.7 160.6,499.3 162.0,498.6 163.4,496.6 164.8,495.4 166.1,493.9 167.5,491.9 168.9,490.2 170.2,489.2 171.6,487.7 173.0,485.9 174.3,485.0 175.7,484.0 177.1,483.0 178.4,482.0 179.8,481.1 181.2,480.9 182.5,480.4 183.9,480.4 185.3,480.8 186.6,481.2 188.0,481.7 189.4,482.1 190.7,483.2 192.1,484.1 193.5,485.2 194.8,486.6 196.2,488.0 197.6,489.2 199.0,490.6 200.3,492.7 201.7,494.3 203.1,495.9 204.4,497.4 205.8,499.1 207.2,500.2 208.5,502.0 209.9,503.2 211.3,504.7 212.6,505.9 214.0,506.6 215.4,507.6 216.7,507.9 218.1,508.9 219.5,509.5 220.8,509.6 222.2,509.3 223.6,509.3 224.9,508.3 226.3,507.5 227.7,505.9 229.0,503.8 230.4,502.0 231.8,499.8 233.2,496.9 234.5,494.0 235.9,490.5 237.3,486.7 238.6,482.0 240.0,478.4 241.4,474.0 242.7,469.8 244.1,465.3 245.5,461.3 246.8,457.5 248.2,454.1 249.6,450.4 250.9,448.3 252.3,446.4 253.7,445.5 255.0,445.2 256.4,445.4 257.8,446.0 259.1,446.7 260.5,448.7 261.9,450.5 263.2,452.9 264.6,455.0 266.0,458.5 267.4,461.1 268.7,464.2 270.1,467.9 271.5,471.1 272.8,474.6 274.2,478.3 275.6,481.9 276.9,484.3 278.3,487.5 279.7,491.4 281.0,493.7 282.4,496.8 283.8,499.6 285.1,501.5 286.5,504.1 287.9,506.0 289.2,507.5 290.6,509.2 292.0,510.4 293.3,511.9 294.7,513.2 296.1,514.5 297.4,515.2 298.8,516.0 300.2,516.1 301.6,517.2 302.9,517.4 304.3,517.5 305.7,517.6 307.0,518.6 308.4,518.7 309.8,518.8 311.1,518.9 312.5,519.1 313.9,519.1 315.2,519.0 316.6,519.6 318.0,519.7 319.3,519.1 320.7,520.0 322.1,519.6 323.4,519.7 324.8,519.5 326.2,519.6 327.5,520.1 328.9,519.5 330.3,519.5 331.6,519.9 333.0,519.6 334.4,519.3 335.8,520.0 337.1,519.3 338.5,519.3 339.9,520.0 341.2,519.9 342.6,519.1 344.0,519.7 345.3,519.7 346.7,519.8 348.1,519.4 349.4,519.8 350.8,520.2" fill="none" stroke="#c05a40" stroke-width="2.0" stroke-linejoin="round"/>
<polyline points="111.4,500.1 112.8,499.8 114.1,500.9 115.5,501.6 116.9,501.7 118.2,501.5 119.6,501.8 121.0,502.5 122.3,503.0 123.7,503.0 125.1,503.9 126.4,503.7 127.8,504.0 129.2,504.1 130.6,504.3 131.9,504.6 133.3,504.6 134.7,505.3 136.0,505.0 137.4,504.8 138.8,504.7 140.1,505.0 141.5,504.7 142.9,504.5 144.2,504.7 145.6,503.8 147.0,503.6 148.3,502.7 149.7,502.5 151.1,501.4 152.4,501.1 153.8,499.8 155.2,498.9 156.5,497.3 157.9,496.8 159.3,495.0 160.6,493.6 162.0,492.0 163.4,490.1 164.8,487.6 166.1,486.4 167.5,484.1 168.9,482.8 170.2,480.4 171.6,478.2 173.0,476.4 174.3,475.0 175.7,473.8 177.1,472.2 178.4,471.1 179.8,470.3 181.2,469.5 182.5,469.2 183.9,469.5 185.3,469.4 186.6,468.6 188.0,469.6 189.4,470.9 190.7,471.6 192.1,472.6 193.5,474.4 194.8,474.4 196.2,476.5 197.6,478.7 199.0,480.5 200.3,482.5 201.7,484.2 203.1,486.5 204.4,488.0 205.8,489.6 207.2,492.0 208.5,493.6 209.9,495.4 211.3,497.1 212.6,498.8 214.0,499.7 215.4,500.9 216.7,502.1 218.1,503.1 219.5,503.8 220.8,504.2 222.2,504.4 223.6,504.2 224.9,503.8 226.3,502.9 227.7,501.7 229.0,500.5 230.4,498.5 231.8,496.2 233.2,493.5 234.5,490.9 235.9,487.3 237.3,484.0 238.6,480.3 240.0,475.9 241.4,472.4 242.7,467.4 244.1,463.8 245.5,459.6 246.8,456.1 248.2,452.6 249.6,449.3 250.9,446.5 252.3,444.7 253.7,443.8 255.0,442.7 256.4,443.9 257.8,443.4 259.1,444.5 260.5,446.2 261.9,447.7 263.2,449.8 264.6,451.6 266.0,454.6 267.4,457.1 268.7,460.3 270.1,463.4 271.5,466.3 272.8,469.7 274.2,473.2 275.6,476.1 276.9,479.3 278.3,482.7 279.7,485.4 281.0,488.7 282.4,491.3 283.8,493.8 285.1,496.5 286.5,498.5 287.9,500.3 289.2,502.5 290.6,504.2 292.0,506.2 293.3,507.9 294.7,508.9 296.1,509.8 297.4,510.5 298.8,511.1 300.2,512.5 301.6,512.8 302.9,513.5 304.3,513.7 305.7,513.7 307.0,514.5 308.4,514.9 309.8,515.4 311.1,515.5 312.5,515.5 313.9,515.6 315.2,515.9 316.6,515.6 318.0,515.4 319.3,516.0 320.7,516.3 322.1,515.7 323.4,515.5 324.8,516.0 326.2,516.1 327.5,515.8 328.9,516.3 330.3,516.4 331.6,516.0 333.0,516.7 334.4,516.4 335.8,516.0 337.1,516.2 338.5,516.3 339.9,516.1 341.2,515.9 342.6,516.0 344.0,516.6 345.3,516.1 346.7,516.4 348.1,516.3 349.4,516.9 350.8,516.4" fill="none" stroke="#6a1a8a" stroke-width="2.0" stroke-linejoin="round"/>
<polyline points="111.4,496.6 112.8,497.2 114.1,497.3 115.5,497.4 116.9,498.0 118.2,498.4 119.6,498.7 121.0,498.8 122.3,499.5 123.7,499.9 125.1,500.1 126.4,499.7 127.8,500.0 129.2,500.9 130.6,500.7 131.9,501.4 133.3,501.4 134.7,501.4 136.0,501.5 137.4,501.6 138.8,501.6 140.1,501.3 141.5,501.6 142.9,501.0 144.2,501.0 145.6,500.7 147.0,499.8 148.3,499.5 149.7,498.5 151.1,498.2 152.4,497.2 153.8,496.2 155.2,494.9 156.5,493.6 157.9,492.3 159.3,490.4 160.6,489.1 162.0,487.0 163.4,484.9 164.8,483.1 166.1,481.1 167.5,478.7 168.9,476.5 170.2,474.5 171.6,472.9 173.0,470.5 174.3,468.8 175.7,467.1 177.1,465.5 178.4,464.1 179.8,463.2 181.2,462.2 182.5,461.1 183.9,461.2 185.3,460.8 186.6,461.1 188.0,462.1 189.4,462.7 190.7,463.4 192.1,464.2 193.5,465.6 194.8,467.2 196.2,468.6 197.6,470.9 199.0,472.6 200.3,475.0 201.7,476.6 203.1,478.3 204.4,481.3 205.8,483.0 207.2,485.0 208.5,487.5 209.9,489.3 211.3,490.9 212.6,493.2 214.0,494.5 215.4,495.7 216.7,497.1 218.1,498.5 219.5,499.5 220.8,499.4 222.2,499.7 223.6,500.1 224.9,500.2 226.3,499.2 227.7,498.4 229.0,497.2 230.4,495.5 231.8,493.1 233.2,491.3 234.5,488.7 235.9,486.0 237.3,482.5 238.6,478.4 240.0,475.0 241.4,470.8 242.7,467.5 244.1,463.3 245.5,459.3 246.8,455.2 248.2,451.8 249.6,448.8 250.9,446.9 252.3,444.7 253.7,443.1 255.0,442.0 256.4,442.1 257.8,442.3 259.1,443.3 260.5,444.1 261.9,446.1 263.2,447.4 264.6,449.1 266.0,451.8 267.4,454.7 268.7,456.7 270.1,460.3 271.5,462.8 272.8,465.8 274.2,468.5 275.6,472.6 276.9,475.6 278.3,478.5 279.7,481.0 281.0,484.5 282.4,487.0 283.8,489.7 285.1,492.3 286.5,494.4 287.9,496.9 289.2,498.4 290.6,500.5 292.0,502.6 293.3,503.6 294.7,504.8 296.1,506.5 297.4,507.2 298.8,508.0 300.2,508.8 301.6,509.8 302.9,510.3 304.3,511.0 305.7,510.9 307.0,511.5 308.4,511.7 309.8,512.4 311.1,512.2 312.5,512.7 313.9,513.1 315.2,513.1 316.6,512.9 318.0,513.3 319.3,513.6 320.7,513.4 322.1,513.3 323.4,513.7 324.8,513.3 326.2,513.3 327.5,513.6 328.9,513.0 330.3,513.3 331.6,514.1 333.0,513.7 334.4,513.8 335.8,513.3 337.1,513.3 338.5,513.8 339.9,513.5 341.2,513.8 342.6,514.0 344.0,514.0 345.3,514.2 346.7,513.5 348.1,514.3 349.4,513.4 350.8,513.8" fill="none" stroke="#6a1a8a" stroke-width="2.0" stroke-linejoin="round"/>
<polyline points="111.4,490.7 112.8,491.3 114.1,491.7 115.5,491.9 116.9,492.8 118.2,493.0 119.6,493.6 121.0,494.0 122.3,494.5 123.7,494.0 125.1,494.7 126.4,495.1 127.8,495.2 129.2,495.6 130.6,496.2 131.9,495.9 133.3,496.4 134.7,496.0 136.0,496.9 137.4,496.5 138.8,497.2 140.1,496.7 141.5,496.8 142.9,496.4 144.2,496.2 145.6,496.0 147.0,495.2 148.3,494.7 149.7,493.9 151.1,493.2 152.4,491.8 153.8,491.0 155.2,489.5 156.5,488.2 157.9,487.0 159.3,484.8 160.6,483.4 162.0,481.4 163.4,479.2 164.8,477.1 166.1,475.0 167.5,472.8 168.9,470.4 170.2,468.0 171.6,465.3 173.0,463.2 174.3,461.5 175.7,458.8 177.1,457.3 178.4,456.2 179.8,454.3 181.2,453.6 182.5,452.6 183.9,451.8 185.3,451.3 186.6,451.7 188.0,452.0 189.4,452.9 190.7,453.8 192.1,454.8 193.5,456.1 194.8,458.0 196.2,459.6 197.6,461.8 199.0,463.8 200.3,465.7 201.7,468.5 203.1,470.3 204.4,472.8 205.8,475.2 207.2,477.3 208.5,480.0 209.9,482.2 211.3,484.0 212.6,486.8 214.0,488.3 215.4,490.0 216.7,491.0 218.1,492.5 219.5,493.6 220.8,494.6 222.2,495.6 223.6,496.0 224.9,495.3 226.3,495.3 227.7,494.8 229.0,493.7 230.4,492.5 231.8,490.7 233.2,489.1 234.5,486.3 235.9,483.5 237.3,480.7 238.6,477.0 240.0,473.3 241.4,469.6 242.7,465.9 244.1,461.8 245.5,459.0 246.8,455.0 248.2,451.4 249.6,448.4 250.9,446.3 252.3,443.8 253.7,442.7 255.0,441.6 256.4,441.2 257.8,441.5 259.1,441.6 260.5,442.5 261.9,443.7 263.2,445.4 264.6,447.5 266.0,449.4 267.4,451.7 268.7,453.7 270.1,457.0 271.5,459.6 272.8,462.4 274.2,465.5 275.6,468.2 276.9,471.2 278.3,474.3 279.7,477.4 281.0,479.5 282.4,482.9 283.8,485.3 285.1,488.0 286.5,490.0 287.9,492.5 289.2,494.1 290.6,496.9 292.0,498.3 293.3,499.5 294.7,501.3 296.1,502.6 297.4,503.5 298.8,504.5 300.2,505.3 301.6,506.7 302.9,507.1 304.3,507.8 305.7,508.0 307.0,508.6 308.4,509.2 309.8,509.3 311.1,509.6 312.5,509.8 313.9,510.4 315.2,510.1 316.6,510.5 318.0,510.4 319.3,510.5 320.7,510.4 322.1,510.6 323.4,510.8 324.8,510.4 326.2,510.9 327.5,510.9 328.9,510.6 330.3,510.9 331.6,511.1 333.0,511.1 334.4,510.8 335.8,511.0 337.1,510.9 338.5,511.1 339.9,511.1 341.2,510.8 342.6,510.9 344.0,511.4 345.3,511.1 346.7,511.0 348.1,511.0 349.4,510.9 350.8,511.3" fill="none" stroke="#111111" stroke-width="2.0" stroke-linejoin="round"/>
<polyline points="111.4,488.7 112.8,488.9 114.1,489.3 115.5,490.0 116.9,490.3 118.2,490.9 119.6,491.3 121.0,490.8 122.3,491.5 123.7,491.8 125.1,492.2 126.4,492.6 127.8,493.5 129.2,493.1 130.6,493.3 131.9,493.6 133.3,494.0 134.7,493.8 136.0,493.5 137.4,493.9 138.8,493.9 140.1,493.7 141.5,493.6 142.9,493.8 144.2,493.1 145.6,492.8 147.0,492.3 148.3,491.3 149.7,490.7 151.1,489.5 152.4,488.1 153.8,487.1 155.2,485.1 156.5,484.4 157.9,482.1 159.3,479.8 160.6,477.7 162.0,474.6 163.4,472.6 164.8,470.5 166.1,467.5 167.5,464.7 168.9,461.6 170.2,458.8 171.6,456.2 173.0,453.3 174.3,450.5 175.7,448.3 177.1,445.9 178.4,443.7 179.8,442.5 181.2,441.0 182.5,439.2 183.9,438.2 185.3,437.7 186.6,437.8 188.0,437.9 189.4,438.8 190.7,439.9 192.1,440.9 193.5,442.3 194.8,444.3 196.2,446.2 197.6,448.2 199.0,451.1 200.3,453.6 201.7,455.8 203.1,458.5 204.4,461.4 205.8,464.2 207.2,467.2 208.5,469.7 209.9,472.6 211.3,474.8 212.6,477.8 214.0,480.4 215.4,481.7 216.7,484.6 218.1,486.1 219.5,487.1 220.8,488.8 222.2,489.8 223.6,490.7 224.9,491.0 226.3,490.6 227.7,490.8 229.0,489.8 230.4,488.8 231.8,487.4 233.2,485.7 234.5,483.4 235.9,480.9 237.3,478.9 238.6,475.4 240.0,472.0 241.4,469.0 242.7,465.3 244.1,461.4 245.5,458.2 246.8,453.8 248.2,451.3 249.6,448.6 250.9,445.6 252.3,443.4 253.7,441.5 255.0,440.5 256.4,440.2 257.8,439.7 259.1,439.8 260.5,441.5 261.9,442.3 263.2,443.6 264.6,445.1 266.0,447.1 267.4,448.8 268.7,451.3 270.1,453.8 271.5,456.3 272.8,459.5 274.2,461.9 275.6,464.5 276.9,467.6 278.3,470.7 279.7,473.3 281.0,476.0 282.4,478.9 283.8,481.2 285.1,483.3 286.5,486.4 287.9,488.5 289.2,490.0 290.6,492.3 292.0,494.4 293.3,495.5 294.7,497.5 296.1,498.9 297.4,500.3 298.8,501.1 300.2,502.3 301.6,503.3 302.9,503.7 304.3,504.3 305.7,505.1 307.0,505.6 308.4,506.1 309.8,506.3 311.1,506.6 312.5,506.8 313.9,507.1 315.2,507.2 316.6,507.1 318.0,507.6 319.3,508.1 320.7,507.7 322.1,508.4 323.4,507.8 324.8,508.5 326.2,507.5 327.5,508.6 328.9,508.7 330.3,508.6 331.6,508.1 333.0,508.6 334.4,508.0 335.8,508.9 337.1,508.3 338.5,508.1 339.9,508.4 341.2,508.0 342.6,508.4 344.0,508.4 345.3,508.5 346.7,508.7 348.1,508.1 349.4,508.5 350.8,508.1" fill="none" stroke="#cc2a2a" stroke-width="2.0" stroke-linejoin="round"/>
<polyline points="111.4,486.4 112.8,486.5 114.1,487.4 115.5,487.7 116.9,487.3 118.2,488.0 119.6,488.4 121.0,488.4 122.3,489.5 123.7,489.5 125.1,489.1 126.4,489.8 127.8,490.1 129.2,490.4 130.6,491.2 131.9,490.8 133.3,490.7 134.7,491.1 136.0,490.6 137.4,491.0 138.8,490.9 140.1,491.0 141.5,490.2 142.9,490.4 144.2,490.3 145.6,489.9 147.0,489.2 148.3,487.9 149.7,487.3 151.1,486.0 152.4,485.1 153.8,483.4 155.2,482.7 156.5,480.2 157.9,478.6 159.3,476.7 160.6,473.7 162.0,471.5 163.4,469.0 164.8,466.0 166.1,462.9 167.5,460.5 168.9,457.3 170.2,454.3 171.6,452.0 173.0,448.3 174.3,445.7 175.7,442.6 177.1,440.4 178.4,438.4 179.8,436.4 181.2,434.5 182.5,432.6 183.9,432.1 185.3,430.8 186.6,431.0 188.0,430.8 189.4,431.4 190.7,432.5 192.1,433.3 193.5,435.3 194.8,436.2 196.2,438.1 197.6,440.3 199.0,442.9 200.3,445.5 201.7,448.4 203.1,450.6 204.4,453.6 205.8,456.5 207.2,460.0 208.5,462.6 209.9,465.4 211.3,468.4 212.6,470.5 214.0,473.6 215.4,476.3 216.7,478.3 218.1,480.0 219.5,481.9 220.8,483.8 222.2,484.6 223.6,486.1 224.9,486.1 226.3,486.5 227.7,486.6 229.0,486.3 230.4,485.2 231.8,484.1 233.2,482.7 234.5,481.3 235.9,478.9 237.3,476.1 238.6,473.1 240.0,470.5 241.4,467.0 242.7,464.0 244.1,460.8 245.5,457.4 246.8,453.8 248.2,450.6 249.6,448.0 250.9,445.4 252.3,443.1 253.7,441.3 255.0,439.8 256.4,439.5 257.8,438.9 259.1,439.2 260.5,439.9 261.9,440.6 263.2,442.0 264.6,443.4 266.0,444.7 267.4,446.0 268.7,448.8 270.1,451.5 271.5,453.1 272.8,455.2 274.2,458.3 275.6,461.1 276.9,463.3 278.3,466.3 279.7,469.3 281.0,471.5 282.4,474.6 283.8,477.0 285.1,479.5 286.5,481.3 287.9,483.9 289.2,486.2 290.6,487.7 292.0,489.4 293.3,491.5 294.7,493.2 296.1,494.1 297.4,495.8 298.8,496.7 300.2,497.9 301.6,498.5 302.9,499.4 304.3,500.3 305.7,501.4 307.0,501.5 308.4,502.1 309.8,502.7 311.1,503.1 312.5,503.5 313.9,503.9 315.2,503.7 316.6,503.7 318.0,504.1 319.3,504.4 320.7,503.9 322.1,504.8 323.4,504.5 324.8,504.6 326.2,504.5 327.5,504.7 328.9,504.9 330.3,505.0 331.6,505.0 333.0,504.7 334.4,504.8 335.8,505.2 337.1,504.9 338.5,504.8 339.9,504.7 341.2,504.9 342.6,505.2 344.0,505.6 345.3,505.6 346.7,505.3 348.1,505.5 349.4,505.3 350.8,504.9" fill="none" stroke="#2b2bd6" stroke-width="2.0" stroke-linejoin="round"/>
<polyline points="111.4,481.4 112.8,482.8 114.1,482.2 115.5,482.9 116.9,483.2 118.2,484.2 119.6,484.5 121.0,484.5 122.3,484.7 123.7,485.5 125.1,485.3 126.4,485.7 127.8,486.4 129.2,487.3 130.6,487.0 131.9,486.5 133.3,487.7 134.7,487.1 136.0,487.5 137.4,487.3 138.8,487.6 140.1,487.4 141.5,486.9 142.9,486.7 144.2,486.2 145.6,485.9 147.0,485.1 148.3,484.5 149.7,483.2 151.1,482.5 152.4,480.6 153.8,478.8 155.2,477.2 156.5,475.7 157.9,473.3 159.3,471.1 160.6,469.0 162.0,465.7 163.4,462.7 164.8,460.0 166.1,456.7 167.5,453.4 168.9,449.8 170.2,446.9 171.6,443.0 173.0,439.3 174.3,436.1 175.7,433.0 177.1,430.1 178.4,427.5 179.8,424.8 181.2,423.3 182.5,421.4 183.9,419.4 185.3,418.7 186.6,418.6 188.0,418.0 189.4,418.6 190.7,419.2 192.1,420.6 193.5,421.6 194.8,422.9 196.2,425.4 197.6,427.8 199.0,430.8 200.3,433.3 201.7,436.0 203.1,439.5 204.4,442.2 205.8,445.7 207.2,449.6 208.5,453.0 209.9,456.1 211.3,459.7 212.6,462.9 214.0,465.7 215.4,468.4 216.7,471.0 218.1,473.3 219.5,475.5 220.8,477.7 222.2,479.3 223.6,480.7 224.9,482.0 226.3,482.6 227.7,482.7 229.0,482.6 230.4,482.4 231.8,481.8 233.2,480.7 234.5,478.4 235.9,477.4 237.3,475.2 238.6,472.9 240.0,470.2 241.4,467.2 242.7,463.9 244.1,460.9 245.5,457.7 246.8,454.6 248.2,451.4 249.6,448.5 250.9,446.0 252.3,443.6 253.7,441.8 255.0,440.2 256.4,439.3 257.8,438.9 259.1,439.0 260.5,439.2 261.9,440.3 263.2,441.2 264.6,442.1 266.0,443.4 267.4,445.4 268.7,447.2 270.1,449.3 271.5,451.8 272.8,453.8 274.2,456.1 275.6,458.4 276.9,461.8 278.3,463.6 279.7,467.0 281.0,469.6 282.4,471.4 283.8,474.2 285.1,476.3 286.5,478.6 287.9,481.1 289.2,483.0 290.6,484.9 292.0,487.3 293.3,488.8 294.7,490.8 296.1,491.9 297.4,493.4 298.8,494.3 300.2,495.8 301.6,496.9 302.9,498.1 304.3,498.7 305.7,499.3 307.0,499.9 308.4,500.1 309.8,501.3 311.1,501.6 312.5,502.1 313.9,501.7 315.2,502.7 316.6,502.9 318.0,503.0 319.3,502.9 320.7,503.7 322.1,503.7 323.4,503.4 324.8,503.3 326.2,503.7 327.5,503.7 328.9,503.9 330.3,503.6 331.6,504.0 333.0,504.0 334.4,504.1 335.8,503.6 337.1,504.2 338.5,504.4 339.9,504.3 341.2,504.2 342.6,504.3 344.0,504.3 345.3,504.7 346.7,504.2 348.1,504.2 349.4,504.2 350.8,504.3" fill="none" stroke="#2f7a78" stroke-width="2.0" stroke-linejoin="round"/>
<polyline points="111.4,462.7 112.8,463.5 114.1,464.1 115.5,465.1 116.9,465.1 118.2,466.2 119.6,466.7 121.0,466.6 122.3,467.1 123.7,468.3 125.1,467.3 126.4,468.2 127.8,468.5 129.2,468.8 130.6,469.2 131.9,469.8 133.3,470.7 134.7,470.6 136.0,470.6 137.4,470.9 138.8,470.7 140.1,471.3 141.5,471.0 142.9,471.5 144.2,470.8 145.6,470.4 147.0,470.1 148.3,470.3 149.7,469.7 151.1,469.1 152.4,468.4 153.8,467.2 155.2,466.5 156.5,465.2 157.9,463.9 159.3,462.2 160.6,460.7 162.0,458.6 163.4,457.1 164.8,455.4 166.1,453.1 167.5,450.8 168.9,448.6 170.2,447.1 171.6,444.6 173.0,442.3 174.3,439.8 175.7,438.0 177.1,435.8 178.4,433.9 179.8,432.3 181.2,430.5 182.5,430.0 183.9,428.3 185.3,428.4 186.6,427.7 188.0,427.5 189.4,427.4 190.7,428.2 192.1,428.3 193.5,429.8 194.8,430.7 196.2,432.5 197.6,433.6 199.0,435.7 200.3,437.3 201.7,439.4 203.1,441.5 204.4,443.7 205.8,446.0 207.2,448.2 208.5,451.1 209.9,453.7 211.3,455.2 212.6,458.0 214.0,459.5 215.4,461.5 216.7,463.8 218.1,466.0 219.5,467.2 220.8,468.8 222.2,469.7 223.6,470.4 224.9,472.2 226.3,472.2 227.7,472.8 229.0,472.7 230.4,472.4 231.8,471.9 233.2,471.0 234.5,470.4 235.9,468.7 237.3,467.4 238.6,465.8 240.0,463.5 241.4,461.7 242.7,459.4 244.1,456.6 245.5,454.4 246.8,452.0 248.2,450.1 249.6,447.5 250.9,445.8 252.3,443.5 253.7,442.3 255.0,441.6 256.4,440.6 257.8,440.4 259.1,439.9 260.5,440.3 261.9,440.3 263.2,441.2 264.6,441.9 266.0,443.7 267.4,444.2 268.7,445.6 270.1,447.0 271.5,448.3 272.8,450.3 274.2,452.0 275.6,453.9 276.9,455.6 278.3,457.6 279.7,459.7 281.0,461.9 282.4,464.0 283.8,465.1 285.1,467.7 286.5,469.2 287.9,470.8 289.2,472.6 290.6,474.2 292.0,475.7 293.3,476.8 294.7,478.7 296.1,479.6 297.4,480.5 298.8,481.9 300.2,483.1 301.6,483.4 302.9,484.6 304.3,485.1 305.7,485.8 307.0,486.3 308.4,486.7 309.8,487.2 311.1,488.0 312.5,488.3 313.9,488.2 315.2,488.9 316.6,489.2 318.0,489.0 319.3,489.3 320.7,489.3 322.1,490.0 323.4,489.7 324.8,489.9 326.2,489.3 327.5,490.0 328.9,490.2 330.3,489.7 331.6,490.2 333.0,489.9 334.4,490.1 335.8,489.7 337.1,490.2 338.5,490.1 339.9,489.9 341.2,490.1 342.6,490.4 344.0,490.3 345.3,490.4 346.7,490.5 348.1,490.4 349.4,490.5 350.8,490.3" fill="none" stroke="#d028e0" stroke-width="2.0" stroke-linejoin="round"/>
<polyline points="111.4,460.9 112.8,461.0 114.1,462.3 115.5,462.7 116.9,462.4 118.2,463.1 119.6,463.7 121.0,464.4 122.3,464.3 123.7,465.1 125.1,465.4 126.4,465.7 127.8,466.3 129.2,466.6 130.6,466.3 131.9,467.0 133.3,467.4 134.7,467.4 136.0,467.3 137.4,467.5 138.8,468.1 140.1,467.5 141.5,467.4 142.9,466.8 144.2,466.6 145.6,465.8 147.0,465.7 148.3,464.7 149.7,463.9 151.1,462.3 152.4,461.0 153.8,459.5 155.2,457.6 156.5,455.6 157.9,453.7 159.3,451.3 160.6,448.4 162.0,445.6 163.4,442.4 164.8,439.0 166.1,436.0 167.5,432.2 168.9,428.3 170.2,424.6 171.6,420.8 173.0,417.0 174.3,413.9 175.7,410.4 177.1,407.0 178.4,403.4 179.8,400.8 181.2,398.1 182.5,395.1 183.9,393.8 185.3,391.8 186.6,391.0 188.0,390.7 189.4,390.9 190.7,391.5 192.1,391.6 193.5,392.7 194.8,394.7 196.2,396.4 197.6,398.4 199.0,401.3 200.3,404.1 201.7,407.0 203.1,410.4 204.4,413.7 205.8,417.5 207.2,421.1 208.5,424.8 209.9,428.6 211.3,432.2 212.6,436.1 214.0,439.7 215.4,443.1 216.7,446.3 218.1,449.1 219.5,452.5 220.8,454.9 222.2,457.2 223.6,459.4 224.9,461.6 226.3,462.7 227.7,464.4 229.0,465.4 230.4,465.6 231.8,466.0 233.2,465.8 234.5,465.3 235.9,464.9 237.3,464.9 238.6,463.3 240.0,461.8 241.4,460.6 242.7,458.8 244.1,456.8 245.5,454.7 246.8,453.1 248.2,451.1 249.6,449.1 250.9,447.3 252.3,446.0 253.7,444.6 255.0,443.8 256.4,442.7 257.8,442.7 259.1,442.1 260.5,442.9 261.9,442.9 263.2,442.8 264.6,443.6 266.0,444.6 267.4,445.3 268.7,446.3 270.1,447.4 271.5,449.2 272.8,450.8 274.2,452.1 275.6,453.1 276.9,455.1 278.3,457.3 279.7,458.6 281.0,460.6 282.4,462.4 283.8,463.8 285.1,465.3 286.5,466.9 287.9,468.7 289.2,470.3 290.6,471.6 292.0,473.0 293.3,474.0 294.7,475.2 296.1,477.2 297.4,478.2 298.8,478.7 300.2,479.7 301.6,480.9 302.9,481.2 304.3,482.0 305.7,483.1 307.0,484.1 308.4,483.8 309.8,484.7 311.1,484.9 312.5,485.0 313.9,485.1 315.2,486.0 316.6,485.9 318.0,486.2 319.3,486.8 320.7,486.4 322.1,486.9 323.4,487.1 324.8,486.9 326.2,487.3 327.5,487.1 328.9,487.4 330.3,487.4 331.6,487.4 333.0,487.4 334.4,487.8 335.8,487.5 337.1,487.8 338.5,488.0 339.9,487.9 341.2,487.8 342.6,487.1 344.0,487.7 345.3,487.7 346.7,487.8 348.1,487.8 349.4,488.4 350.8,487.7" fill="none" stroke="#7c7c1e" stroke-width="2.0" stroke-linejoin="round"/>
<polyline points="111.4,458.7 112.8,458.5 114.1,459.1 115.5,460.1 116.9,460.9 118.2,460.8 119.6,461.3 121.0,461.5 122.3,462.4 123.7,462.6 125.1,463.0 126.4,463.4 127.8,463.8 129.2,464.2 130.6,464.4 131.9,464.2 133.3,465.1 134.7,464.7 136.0,465.3 137.4,465.1 138.8,465.1 140.1,465.1 141.5,464.5 142.9,464.4 144.2,463.8 145.6,463.0 147.0,463.2 148.3,462.1 149.7,461.3 151.1,459.5 152.4,457.8 153.8,456.0 155.2,454.4 156.5,452.4 157.9,449.9 159.3,447.5 160.6,444.5 162.0,441.9 163.4,438.7 164.8,435.1 166.1,431.7 167.5,428.0 168.9,423.5 170.2,420.3 171.6,416.2 173.0,412.1 174.3,408.1 175.7,404.4 177.1,400.2 178.4,396.6 179.8,393.7 181.2,390.6 182.5,388.0 183.9,385.6 185.3,383.7 186.6,382.9 188.0,382.1 189.4,381.5 190.7,381.6 192.1,382.0 193.5,383.8 194.8,385.0 196.2,386.4 197.6,388.8 199.0,391.2 200.3,394.5 201.7,396.9 203.1,400.5 204.4,404.0 205.8,408.0 207.2,411.6 208.5,415.6 209.9,419.9 211.3,423.6 212.6,427.2 214.0,431.1 215.4,435.4 216.7,438.5 218.1,442.0 219.5,445.7 220.8,448.1 222.2,451.2 223.6,453.7 224.9,456.0 226.3,457.4 227.7,459.8 229.0,460.7 230.4,461.6 231.8,462.7 233.2,462.4 234.5,462.8 235.9,462.7 237.3,462.3 238.6,461.6 240.0,460.7 241.4,459.9 242.7,458.0 244.1,456.3 245.5,454.1 246.8,454.0 248.2,451.4 249.6,450.0 250.9,448.2 252.3,447.2 253.7,446.0 255.0,444.8 256.4,444.3 257.8,443.8 259.1,443.2 260.5,443.3 261.9,443.6 263.2,443.7 264.6,444.0 266.0,445.4 267.4,445.6 268.7,446.4 270.1,447.7 271.5,448.8 272.8,450.3 274.2,451.7 275.6,452.8 276.9,453.7 278.3,455.6 279.7,457.1 281.0,458.4 282.4,460.4 283.8,461.9 285.1,463.0 286.5,465.3 287.9,466.2 289.2,467.9 290.6,468.9 292.0,470.7 293.3,471.5 294.7,472.7 296.1,474.0 297.4,475.3 298.8,475.9 300.2,477.1 301.6,477.4 302.9,478.2 304.3,479.5 305.7,479.5 307.0,480.4 308.4,480.6 309.8,481.3 311.1,481.7 312.5,482.3 313.9,482.6 315.2,483.0 316.6,483.2 318.0,483.0 319.3,483.6 320.7,483.9 322.1,484.1 323.4,483.6 324.8,484.0 326.2,484.5 327.5,484.6 328.9,484.6 330.3,484.8 331.6,484.4 333.0,484.7 334.4,484.7 335.8,485.0 337.1,484.8 338.5,485.0 339.9,485.2 341.2,485.1 342.6,485.3 344.0,485.1 345.3,484.6 346.7,485.4 348.1,485.4 349.4,485.0 350.8,485.0" fill="none" stroke="#1c1c84" stroke-width="2.0" stroke-linejoin="round"/>
<polyline points="111.4,455.7 112.8,457.4 114.1,457.3 115.5,457.6 116.9,458.1 118.2,458.4 119.6,459.1 121.0,459.7 122.3,460.0 123.7,460.2 125.1,460.7 126.4,461.1 127.8,461.3 129.2,461.8 130.6,462.0 131.9,461.8 133.3,462.1 134.7,462.4 136.0,462.6 137.4,463.1 138.8,462.5 140.1,462.4 141.5,462.2 142.9,462.0 144.2,461.4 145.6,461.0 147.0,460.0 148.3,459.5 149.7,458.6 151.1,457.2 152.4,455.6 153.8,453.5 155.2,452.4 156.5,450.9 157.9,447.8 159.3,444.9 160.6,442.2 162.0,439.2 163.4,436.3 164.8,432.9 166.1,429.2 167.5,425.4 168.9,421.5 170.2,418.0 171.6,413.7 173.0,409.3 174.3,405.3 175.7,402.1 177.1,397.7 178.4,394.0 179.8,391.0 181.2,387.7 182.5,384.7 183.9,382.4 185.3,380.6 186.6,378.7 188.0,377.0 189.4,377.3 190.7,377.1 192.1,377.4 193.5,378.3 194.8,379.6 196.2,381.5 197.6,382.8 199.0,385.6 200.3,388.2 201.7,391.6 203.1,394.1 204.4,398.3 205.8,401.6 207.2,405.3 208.5,409.5 209.9,412.9 211.3,417.5 212.6,421.4 214.0,425.1 215.4,429.1 216.7,433.1 218.1,436.7 219.5,439.7 220.8,443.2 222.2,446.4 223.6,448.6 224.9,451.0 226.3,453.3 227.7,454.7 229.0,456.5 230.4,458.0 231.8,458.9 233.2,459.3 234.5,460.3 235.9,460.4 237.3,459.9 238.6,459.8 240.0,458.9 241.4,458.3 242.7,456.9 244.1,456.3 245.5,454.6 246.8,453.1 248.2,452.2 249.6,450.4 250.9,449.4 252.3,448.2 253.7,446.9 255.0,446.2 256.4,444.5 257.8,444.7 259.1,444.6 260.5,444.3 261.9,444.1 263.2,444.8 264.6,445.1 266.0,445.9 267.4,446.1 268.7,447.0 270.1,448.0 271.5,448.2 272.8,449.9 274.2,450.9 275.6,452.2 276.9,453.2 278.3,454.3 279.7,456.0 281.0,457.6 282.4,458.2 283.8,460.3 285.1,461.5 286.5,462.5 287.9,464.0 289.2,465.5 290.6,466.5 292.0,468.0 293.3,468.9 294.7,470.6 296.1,471.5 297.4,472.2 298.8,473.4 300.2,474.4 301.6,474.7 302.9,475.6 304.3,476.0 305.7,477.0 307.0,477.8 308.4,478.4 309.8,478.6 311.1,479.1 312.5,479.4 313.9,479.8 315.2,480.3 316.6,480.6 318.0,481.0 319.3,481.1 320.7,481.2 322.1,481.7 323.4,481.7 324.8,481.9 326.2,481.8 327.5,481.9 328.9,482.1 330.3,481.8 331.6,482.5 333.0,482.2 334.4,482.1 335.8,482.3 337.1,482.1 338.5,482.4 339.9,482.2 341.2,482.4 342.6,482.2 344.0,481.7 345.3,482.8 346.7,482.1 348.1,483.3 349.4,482.2 350.8,482.5" fill="none" stroke="#661414" stroke-width="2.0" stroke-linejoin="round"/>
<rect x="531.4" y="569.0" width="4.4" height="4.4" fill="#000"/>
<rect x="533.8" y="558.9" width="4.4" height="4.4" fill="#000"/>
<rect x="536.2" y="553.8" width="4.4" height="4.4" fill="#000"/>
<rect x="538.6" y="546.6" width="4.4" height="4.4" fill="#000"/>
<rect x="542.1" y="537.5" width="4.4" height="4.4" fill="#000"/>
<rect x="546.3" y="528.2" width="4.4" height="4.4" fill="#000"/>
<rect x="550.6" y="517.8" width="4.4" height="4.4" fill="#000"/>
<rect x="555.4" y="505.5" width="4.4" height="4.4" fill="#000"/>
<rect x="560.2" y="497.0" width="4.4" height="4.4" fill="#000"/>
<rect x="566.6" y="489.8" width="4.4" height="4.4" fill="#000"/>
<rect x="572.5" y="480.2" width="4.4" height="4.4" fill="#000"/>
<rect x="579.9" y="471.4" width="4.4" height="4.4" fill="#000"/>
<rect x="587.4" y="463.1" width="4.4" height="4.4" fill="#000"/>
<rect x="595.9" y="449.8" width="4.4" height="4.4" fill="#000"/>
<rect x="605.0" y="443.1" width="4.4" height="4.4" fill="#000"/>
<rect x="615.7" y="432.2" width="4.4" height="4.4" fill="#000"/>
<rect x="655.8" y="406.1" width="4.4" height="4.4" fill="#000"/>
<rect x="672.3" y="396.9" width="4.4" height="4.4" fill="#000"/>
<rect x="690.4" y="393.1" width="4.4" height="4.4" fill="#000"/>
<rect x="710.6" y="386.5" width="4.4" height="4.4" fill="#000"/>
<polyline points="533.6,571.2 540.0,552.0 548.0,531.0 557.6,507.7" fill="none" stroke="#c42a2a" stroke-width="2.1" stroke-linejoin="round"/>
<polyline points="562.4,499.2 575.0,482.0 590.0,464.0 617.9,434.4" fill="none" stroke="#c42a2a" stroke-width="2.1" stroke-linejoin="round"/>
<polyline points="658.0,408.3 712.8,388.7" fill="none" stroke="#c42a2a" stroke-width="2.1" stroke-linejoin="round"/>
<polyline points="105.3,937.9 106.4,938.1 107.5,938.0 108.7,938.3 109.8,938.1 110.9,937.8 112.0,938.1 113.2,937.9 114.3,938.2 115.4,938.2 116.5,937.9 117.7,937.9 118.8,937.6 119.9,937.6 121.0,938.0 122.2,937.6 123.3,938.2 124.4,937.9 125.5,938.2 126.7,938.0 127.8,937.9 128.9,938.1 130.0,938.2 131.2,938.2 132.3,938.3 133.4,938.0 134.5,938.1 135.6,937.9 136.8,937.5 137.9,938.1 139.0,937.6 140.1,938.1 141.3,937.6 142.4,937.8 143.5,938.1 144.6,937.8 145.8,937.7 146.9,938.4 148.0,937.7 149.1,937.8 150.3,937.6 151.4,937.8 152.5,937.9 153.6,937.6 154.8,936.9 155.9,936.4 157.0,935.8 158.1,934.6 159.3,934.0 160.4,932.0 161.5,930.5 162.6,928.7 163.7,926.7 164.9,924.2 166.0,921.6 167.1,919.0 168.2,915.9 169.4,912.5 170.5,909.3 171.6,905.5 172.7,901.2 173.9,897.0 175.0,892.5 176.1,887.8 177.2,882.9 178.4,878.4 179.5,874.4 180.6,874.9 181.7,874.9 182.9,875.8 184.0,876.3 185.1,876.8 186.2,878.0 187.4,878.2 188.5,878.8 189.6,879.7 190.7,880.5 191.8,881.3 193.0,882.2 194.1,882.9 195.2,883.8 196.3,884.4 197.5,885.2 198.6,885.9 199.7,886.5 200.8,887.4 202.0,888.2 203.1,888.9 204.2,890.4 205.3,890.5 206.5,891.9 207.6,892.3 208.7,892.6 209.8,894.1 211.0,894.7 212.1,895.3 213.2,896.4 214.3,896.7 215.5,897.5 216.6,898.8 217.7,899.7 218.8,900.6 219.9,900.8 221.1,901.8 222.2,902.3 223.3,903.1 224.4,903.9 225.6,904.6 226.7,905.2 227.8,906.1 228.9,906.7 230.1,907.8 231.2,908.8 232.3,909.1 233.4,910.4 234.6,911.1 235.7,911.7 236.8,912.5 237.9,913.6 239.1,914.1 240.2,914.8 241.3,916.0 242.4,916.9 243.6,916.6 244.7,918.4 245.8,918.9 246.9,918.8 248.0,920.7 249.2,921.2 250.3,921.5 251.4,921.8 252.5,922.4 253.7,923.0 254.8,923.2 255.9,923.8 257.0,923.9 258.2,923.4 259.3,923.3 260.4,922.8 261.5,921.6 262.7,920.4 263.8,919.1 264.9,916.3 266.0,912.7 267.2,909.7 268.3,905.2 269.4,900.8 270.5,895.9 271.7,890.3 272.8,884.6 273.9,879.0 275.0,873.1 276.1,867.1 277.3,861.8 278.4,856.5 279.5,850.8 280.6,846.6 281.8,842.3 282.9,839.1 284.0,835.8 285.1,833.9 286.3,832.9 287.4,832.5 288.5,832.7 289.6,833.4 290.8,835.7 291.9,839.0 293.0,842.7 294.1,846.7 295.3,851.5 296.4,856.6 297.5,862.5 298.6,867.9 299.8,873.2 300.9,878.9 302.0,884.6 303.1,889.7 304.2,894.9 305.4,899.2 306.5,904.1 307.6,907.6 308.7,911.1 309.9,914.6 311.0,916.9 312.1,919.1 313.2,921.5 314.4,923.2 315.5,924.7 316.6,925.7 317.7,926.4 318.9,928.0 320.0,928.4 321.1,928.7 322.2,929.1 323.4,929.4 324.5,929.5 325.6,929.6 326.7,929.6 327.9,930.5 329.0,929.9 330.1,930.0 331.2,930.5 332.3,929.8 333.5,930.5 334.6,930.3 335.7,930.3 336.8,930.0 338.0,930.2 339.1,930.3 340.2,930.6 341.3,930.1 342.5,929.8 343.6,930.1 344.7,930.0 345.8,930.2 347.0,930.3 348.1,930.4 349.2,930.3 350.3,930.5 351.5,929.9 352.6,929.9 353.7,930.1 354.8,930.4 356.0,930.5 357.1,930.1 358.2,930.8" fill="none" stroke="#cc2a2a" stroke-width="2.0" stroke-linejoin="round"/>
<polyline points="105.3,931.3 106.4,931.8 107.5,931.4 108.7,931.5 109.8,931.1 110.9,931.0 112.0,931.6 113.2,931.3 114.3,931.8 115.4,931.3 116.5,931.3 117.7,931.3 118.8,931.5 119.9,931.8 121.0,931.8 122.2,931.6 123.3,931.6 124.4,931.4 125.5,931.6 126.7,931.8 127.8,931.6 128.9,931.8 130.0,931.4 131.2,931.6 132.3,931.5 133.4,931.5 134.5,932.2 135.6,931.9 136.8,931.6 137.9,931.5 139.0,931.7 140.1,931.7 141.3,931.3 142.4,931.9 143.5,931.6 144.6,931.4 145.8,931.5 146.9,931.6 148.0,931.6 149.1,931.8 150.3,931.5 151.4,931.7 152.5,931.4 153.6,931.2 154.8,930.5 155.9,929.9 157.0,929.4 158.1,928.4 159.3,927.1 160.4,925.6 161.5,923.8 162.6,922.4 163.7,919.9 164.9,918.3 166.0,915.6 167.1,912.3 168.2,909.5 169.4,905.9 170.5,902.3 171.6,898.6 172.7,894.8 173.9,890.7 175.0,885.9 176.1,881.3 177.2,876.5 178.4,871.9 179.5,868.3 180.6,867.7 181.7,868.7 182.9,869.1 184.0,869.7 185.1,870.6 186.2,871.3 187.4,872.2 188.5,872.7 189.6,873.8 190.7,874.7 191.8,875.6 193.0,876.7 194.1,877.0 195.2,877.9 196.3,878.2 197.5,879.5 198.6,880.4 199.7,881.3 200.8,882.1 202.0,882.8 203.1,884.0 204.2,884.9 205.3,885.3 206.5,886.7 207.6,887.3 208.7,888.1 209.8,889.2 211.0,890.3 212.1,890.7 213.2,891.4 214.3,892.7 215.5,893.2 216.6,894.1 217.7,895.1 218.8,896.1 219.9,896.7 221.1,897.5 222.2,898.7 223.3,900.0 224.4,900.0 225.6,901.0 226.7,901.9 227.8,902.5 228.9,903.4 230.1,904.5 231.2,905.3 232.3,906.2 233.4,906.9 234.6,908.3 235.7,908.8 236.8,909.9 237.9,910.6 239.1,911.4 240.2,912.5 241.3,913.3 242.4,914.2 243.6,914.6 244.7,915.4 245.8,916.1 246.9,917.4 248.0,917.6 249.2,918.8 250.3,919.1 251.4,920.1 252.5,920.7 253.7,921.3 254.8,921.8 255.9,921.8 257.0,922.2 258.2,921.8 259.3,921.9 260.4,921.3 261.5,920.7 262.7,919.5 263.8,917.8 264.9,915.5 266.0,912.6 267.2,909.7 268.3,905.6 269.4,901.1 270.5,896.6 271.7,891.8 272.8,886.1 273.9,881.2 275.0,874.6 276.1,869.5 277.3,863.6 278.4,858.2 279.5,852.9 280.6,849.0 281.8,845.2 282.9,841.0 284.0,838.4 285.1,836.2 286.3,835.3 287.4,833.9 288.5,834.2 289.6,835.0 290.8,837.7 291.9,840.1 293.0,843.0 294.1,846.8 295.3,850.9 296.4,855.8 297.5,860.7 298.6,865.9 299.8,871.0 300.9,876.1 302.0,881.3 303.1,886.5 304.2,891.7 305.4,895.8 306.5,899.8 307.6,903.8 308.7,907.5 309.9,911.2 311.0,913.6 312.1,915.5 313.2,918.0 314.4,920.0 315.5,921.9 316.6,923.0 317.7,924.2 318.9,924.6 320.0,926.0 321.1,925.9 322.2,926.8 323.4,927.1 324.5,927.5 325.6,927.4 326.7,928.2 327.9,927.8 329.0,928.0 330.1,928.6 331.2,928.1 332.3,928.4 333.5,927.9 334.6,928.6 335.7,928.5 336.8,927.9 338.0,928.4 339.1,928.5 340.2,928.1 341.3,928.3 342.5,928.5 343.6,928.0 344.7,928.6 345.8,928.5 347.0,928.1 348.1,928.2 349.2,928.5 350.3,928.3 351.5,927.9 352.6,928.3 353.7,928.2 354.8,928.2 356.0,928.3 357.1,928.0 358.2,928.7" fill="none" stroke="#7ee05a" stroke-width="2.0" stroke-linejoin="round"/>
<polyline points="105.3,928.1 106.4,928.4 107.5,928.3 108.7,927.9 109.8,928.1 110.9,928.0 112.0,928.6 113.2,927.9 114.3,928.0 115.4,928.3 116.5,927.8 117.7,928.0 118.8,928.0 119.9,928.3 121.0,928.0 122.2,927.8 123.3,928.1 124.4,928.7 125.5,928.4 126.7,928.2 127.8,928.3 128.9,927.9 130.0,928.2 131.2,928.0 132.3,928.3 133.4,928.1 134.5,928.0 135.6,927.8 136.8,927.7 137.9,928.4 139.0,928.8 140.1,927.8 141.3,927.9 142.4,928.4 143.5,927.8 144.6,928.3 145.8,928.3 146.9,927.8 148.0,928.7 149.1,928.0 150.3,928.2 151.4,928.3 152.5,928.2 153.6,927.7 154.8,927.5 155.9,926.8 157.0,925.7 158.1,925.4 159.3,924.2 160.4,922.3 161.5,920.8 162.6,919.5 163.7,917.3 164.9,915.1 166.0,912.8 167.1,910.1 168.2,907.2 169.4,904.0 170.5,900.7 171.6,897.6 172.7,893.1 173.9,889.1 175.0,884.9 176.1,880.7 177.2,875.6 178.4,871.1 179.5,867.6 180.6,867.9 181.7,868.2 182.9,869.2 184.0,870.1 185.1,870.3 186.2,871.0 187.4,872.3 188.5,873.1 189.6,873.1 190.7,874.1 191.8,875.4 193.0,875.6 194.1,876.2 195.2,877.2 196.3,877.6 197.5,878.2 198.6,878.9 199.7,879.2 200.8,879.5 202.0,880.3 203.1,881.0 204.2,881.4 205.3,881.7 206.5,881.9 207.6,882.1 208.7,882.7 209.8,883.3 211.0,883.2 212.1,883.1 213.2,883.3 214.3,883.8 215.5,883.2 216.6,883.8 217.7,883.7 218.8,884.2 219.9,884.2 221.1,885.4 222.2,886.0 223.3,886.5 224.4,887.6 225.6,889.1 226.7,889.7 227.8,891.4 228.9,893.2 230.1,894.6 231.2,896.3 232.3,896.7 233.4,899.0 234.6,900.5 235.7,901.6 236.8,903.5 237.9,905.2 239.1,905.9 240.2,907.5 241.3,908.9 242.4,910.7 243.6,911.7 244.7,912.7 245.8,913.7 246.9,914.6 248.0,915.7 249.2,916.8 250.3,917.4 251.4,918.2 252.5,918.7 253.7,918.8 254.8,919.6 255.9,920.4 257.0,920.5 258.2,920.4 259.3,920.5 260.4,920.0 261.5,919.3 262.7,918.1 263.8,916.7 264.9,914.9 266.0,912.3 267.2,909.3 268.3,905.9 269.4,901.9 270.5,896.7 271.7,892.1 272.8,887.1 273.9,881.7 275.0,875.8 276.1,870.7 277.3,864.6 278.4,859.9 279.5,854.6 280.6,850.8 281.8,846.2 282.9,842.8 284.0,839.8 285.1,837.7 286.3,836.9 287.4,836.0 288.5,836.2 289.6,836.5 290.8,838.3 291.9,840.4 293.0,843.1 294.1,846.7 295.3,850.2 296.4,854.3 297.5,859.3 298.6,863.6 299.8,868.4 300.9,873.5 302.0,878.4 303.1,883.3 304.2,888.2 305.4,892.4 306.5,896.7 307.6,900.4 308.7,904.1 309.9,907.2 311.0,909.8 312.1,912.3 313.2,914.8 314.4,916.6 315.5,917.7 316.6,919.8 317.7,920.7 318.9,922.1 320.0,922.9 321.1,923.9 322.2,924.2 323.4,924.6 324.5,924.7 325.6,925.2 326.7,925.5 327.9,925.6 329.0,926.1 330.1,925.8 331.2,925.8 332.3,926.2 333.5,926.1 334.6,926.0 335.7,926.3 336.8,926.3 338.0,926.2 339.1,926.0 340.2,926.2 341.3,926.1 342.5,926.0 343.6,926.1 344.7,926.3 345.8,926.2 347.0,925.8 348.1,926.4 349.2,926.1 350.3,926.3 351.5,926.4 352.6,926.7 353.7,926.4 354.8,926.8 356.0,926.4 357.1,926.2 358.2,926.2" fill="none" stroke="#2b2bd6" stroke-width="2.0" stroke-linejoin="round"/>
<polyline points="105.3,926.8 106.4,926.9 107.5,926.8 108.7,926.9 109.8,927.1 110.9,927.3 112.0,926.6 113.2,927.0 114.3,927.2 115.4,927.0 116.5,927.0 117.7,927.1 118.8,926.8 119.9,927.1 121.0,927.2 122.2,927.2 123.3,927.2 124.4,926.5 125.5,926.7 126.7,926.9 127.8,926.9 128.9,926.9 130.0,926.8 131.2,926.8 132.3,926.9 133.4,927.1 134.5,927.3 135.6,927.0 136.8,926.8 137.9,926.8 139.0,926.6 140.1,927.2 141.3,927.0 142.4,926.7 143.5,926.7 144.6,927.1 145.8,927.0 146.9,926.8 148.0,927.1 149.1,927.2 150.3,926.5 151.4,927.0 152.5,926.9 153.6,926.4 154.8,926.1 155.9,925.6 157.0,924.8 158.1,923.8 159.3,922.2 160.4,921.6 161.5,919.7 162.6,918.5 163.7,916.3 164.9,914.3 166.0,911.6 167.1,908.7 168.2,906.6 169.4,902.9 170.5,899.9 171.6,896.4 172.7,892.5 173.9,888.9 175.0,884.2 176.1,880.0 177.2,875.4 178.4,870.8 179.5,867.6 180.6,867.8 181.7,868.3 182.9,869.0 184.0,869.5 185.1,870.1 186.2,870.9 187.4,871.6 188.5,872.5 189.6,873.3 190.7,873.6 191.8,874.3 193.0,874.9 194.1,875.6 195.2,876.5 196.3,877.3 197.5,877.3 198.6,877.6 199.7,878.8 200.8,878.7 202.0,879.0 203.1,879.5 204.2,879.4 205.3,879.7 206.5,879.8 207.6,880.2 208.7,880.2 209.8,880.5 211.0,879.9 212.1,880.2 213.2,879.7 214.3,879.8 215.5,879.2 216.6,880.0 217.7,879.7 218.8,879.7 219.9,879.8 221.1,880.1 222.2,880.9 223.3,881.8 224.4,882.5 225.6,883.7 226.7,884.4 227.8,886.5 228.9,887.6 230.1,889.6 231.2,891.4 232.3,893.0 233.4,894.8 234.6,896.9 235.7,898.5 236.8,899.7 237.9,901.6 239.1,903.8 240.2,905.0 241.3,906.2 242.4,907.6 243.6,908.9 244.7,910.5 245.8,911.3 246.9,912.3 248.0,913.6 249.2,914.3 250.3,915.2 251.4,915.9 252.5,916.4 253.7,917.6 254.8,917.7 255.9,918.1 257.0,918.2 258.2,918.9 259.3,918.6 260.4,918.4 261.5,917.9 262.7,917.1 263.8,915.7 264.9,914.1 266.0,911.7 267.2,908.8 268.3,905.5 269.4,901.8 270.5,897.9 271.7,892.7 272.8,888.0 273.9,882.7 275.0,876.6 276.1,871.7 277.3,866.2 278.4,861.0 279.5,856.4 280.6,851.6 281.8,848.2 282.9,844.4 284.0,841.7 285.1,839.3 286.3,838.0 287.4,837.1 288.5,836.6 289.6,838.0 290.8,838.7 291.9,840.4 293.0,843.3 294.1,846.4 295.3,849.8 296.4,853.6 297.5,857.8 298.6,862.0 299.8,866.6 300.9,871.5 302.0,875.8 303.1,880.3 304.2,885.0 305.4,889.0 306.5,893.1 307.6,896.8 308.7,900.3 309.9,903.5 311.0,906.5 312.1,908.8 313.2,910.7 314.4,913.3 315.5,915.0 316.6,916.4 317.7,918.3 318.9,919.3 320.0,919.9 321.1,921.4 322.2,921.8 323.4,922.3 324.5,922.6 325.6,922.9 326.7,923.1 327.9,923.1 329.0,923.7 330.1,924.0 331.2,923.8 332.3,924.0 333.5,924.2 334.6,923.9 335.7,924.6 336.8,924.1 338.0,924.1 339.1,924.2 340.2,924.3 341.3,924.3 342.5,924.3 343.6,924.4 344.7,923.9 345.8,924.4 347.0,924.0 348.1,924.3 349.2,924.1 350.3,923.8 351.5,924.0 352.6,924.3 353.7,924.3 354.8,924.8 356.0,924.3 357.1,924.6 358.2,923.9" fill="none" stroke="#8ee8f0" stroke-width="2.0" stroke-linejoin="round"/>
<polyline points="105.3,925.7 106.4,925.5 107.5,926.0 108.7,925.4 109.8,925.5 110.9,925.8 112.0,925.9 113.2,925.6 114.3,925.7 115.4,925.9 116.5,925.2 117.7,925.7 118.8,925.4 119.9,925.2 121.0,925.2 122.2,925.3 123.3,925.6 124.4,925.9 125.5,925.7 126.7,925.6 127.8,925.2 128.9,925.5 130.0,925.5 131.2,925.8 132.3,925.2 133.4,925.7 134.5,925.4 135.6,925.5 136.8,925.9 137.9,925.9 139.0,925.5 140.1,925.5 141.3,925.7 142.4,925.8 143.5,925.3 144.6,925.2 145.8,925.9 146.9,925.5 148.0,926.0 149.1,925.6 150.3,925.4 151.4,925.5 152.5,925.6 153.6,925.2 154.8,924.6 155.9,924.3 157.0,923.5 158.1,922.7 159.3,922.1 160.4,920.2 161.5,919.0 162.6,917.3 163.7,915.2 164.9,913.2 166.0,911.2 167.1,908.2 168.2,905.2 169.4,902.8 170.5,898.7 171.6,895.9 172.7,891.6 173.9,888.0 175.0,884.2 176.1,880.1 177.2,875.6 178.4,870.9 179.5,867.2 180.6,867.9 181.7,868.0 182.9,868.8 184.0,869.4 185.1,870.1 186.2,870.9 187.4,870.9 188.5,872.4 189.6,872.7 190.7,873.8 191.8,874.0 193.0,874.9 194.1,875.8 195.2,876.0 196.3,877.3 197.5,878.1 198.6,878.9 199.7,879.5 200.8,879.9 202.0,879.7 203.1,881.1 204.2,881.4 205.3,882.1 206.5,882.9 207.6,882.8 208.7,882.9 209.8,883.0 211.0,882.7 212.1,882.3 213.2,882.2 214.3,881.2 215.5,881.0 216.6,880.2 217.7,879.3 218.8,877.8 219.9,876.5 221.1,875.6 222.2,874.7 223.3,873.4 224.4,872.6 225.6,872.0 226.7,871.5 227.8,871.2 228.9,871.3 230.1,872.2 231.2,873.0 232.3,874.9 233.4,876.1 234.6,879.0 235.7,881.9 236.8,884.3 237.9,887.4 239.1,890.8 240.2,893.6 241.3,896.3 242.4,899.0 243.6,901.4 244.7,904.0 245.8,906.0 246.9,907.7 248.0,909.2 249.2,910.6 250.3,911.6 251.4,913.2 252.5,913.5 253.7,914.7 254.8,915.3 255.9,916.1 257.0,916.3 258.2,916.3 259.3,916.5 260.4,916.3 261.5,916.1 262.7,915.5 263.8,914.2 264.9,913.1 266.0,910.7 267.2,908.7 268.3,905.6 269.4,901.8 270.5,897.5 271.7,893.1 272.8,888.0 273.9,883.2 275.0,877.6 276.1,872.7 277.3,867.6 278.4,862.3 279.5,857.8 280.6,853.4 281.8,849.0 282.9,845.9 284.0,843.2 285.1,840.6 286.3,839.2 287.4,837.7 288.5,837.9 289.6,838.3 290.8,839.1 291.9,841.5 293.0,842.9 294.1,845.9 295.3,849.0 296.4,853.1 297.5,856.6 298.6,860.8 299.8,864.8 300.9,869.1 302.0,873.3 303.1,877.7 304.2,881.4 305.4,886.1 306.5,889.7 307.6,893.3 308.7,897.6 309.9,900.0 311.0,902.9 312.1,906.1 313.2,908.6 314.4,910.5 315.5,911.7 316.6,914.0 317.7,915.3 318.9,917.0 320.0,917.4 321.1,917.9 322.2,918.8 323.4,919.9 324.5,920.0 325.6,921.3 326.7,921.0 327.9,921.1 329.0,921.3 330.1,921.8 331.2,922.0 332.3,921.8 333.5,921.8 334.6,921.8 335.7,922.2 336.8,922.2 338.0,922.1 339.1,922.0 340.2,922.5 341.3,922.1 342.5,921.8 343.6,922.3 344.7,922.4 345.8,922.3 347.0,922.4 348.1,922.3 349.2,921.9 350.3,922.0 351.5,922.3 352.6,922.3 353.7,922.2 354.8,922.2 356.0,922.2 357.1,922.6 358.2,922.1" fill="none" stroke="#d028e0" stroke-width="2.0" stroke-linejoin="round"/>
<polyline points="105.3,921.5 106.4,921.7 107.5,922.0 108.7,921.7 109.8,921.3 110.9,921.6 112.0,921.3 113.2,921.2 114.3,921.9 115.4,921.3 116.5,921.5 117.7,921.6 118.8,921.9 119.9,921.2 121.0,921.5 122.2,921.5 123.3,921.8 124.4,921.4 125.5,921.2 126.7,921.3 127.8,921.5 128.9,921.7 130.0,921.6 131.2,921.0 132.3,922.1 133.4,921.8 134.5,921.5 135.6,921.3 136.8,921.6 137.9,921.9 139.0,921.4 140.1,921.9 141.3,921.9 142.4,921.7 143.5,921.8 144.6,921.7 145.8,922.1 146.9,921.7 148.0,921.3 149.1,921.5 150.3,921.3 151.4,921.6 152.5,921.7 153.6,921.7 154.8,920.5 155.9,920.1 157.0,919.6 158.1,918.8 159.3,918.1 160.4,916.0 161.5,915.3 162.6,913.6 163.7,912.2 164.9,910.1 166.0,907.6 167.1,905.5 168.2,902.5 169.4,899.9 170.5,896.5 171.6,893.9 172.7,890.3 173.9,886.9 175.0,882.7 176.1,879.1 177.2,874.4 178.4,870.3 179.5,867.1 180.6,867.9 181.7,868.1 182.9,868.8 184.0,869.3 185.1,869.4 186.2,870.3 187.4,870.6 188.5,872.1 189.6,872.0 190.7,873.0 191.8,874.0 193.0,874.6 194.1,874.8 195.2,876.4 196.3,876.6 197.5,877.4 198.6,877.9 199.7,878.2 200.8,878.7 202.0,879.7 203.1,879.5 204.2,880.0 205.3,880.5 206.5,880.1 207.6,880.6 208.7,880.6 209.8,880.0 211.0,879.9 212.1,879.2 213.2,878.6 214.3,877.4 215.5,876.9 216.6,875.5 217.7,874.7 218.8,872.6 219.9,871.7 221.1,870.2 222.2,868.8 223.3,867.5 224.4,866.3 225.6,865.6 226.7,865.0 227.8,864.8 228.9,864.6 230.1,865.3 231.2,865.8 232.3,867.0 233.4,869.4 234.6,871.4 235.7,874.6 236.8,877.5 237.9,880.6 239.1,883.8 240.2,887.5 241.3,890.7 242.4,893.7 243.6,896.2 244.7,899.0 245.8,901.6 246.9,903.8 248.0,905.2 249.2,907.1 250.3,908.8 251.4,909.8 252.5,910.9 253.7,912.0 254.8,912.9 255.9,913.7 257.0,914.1 258.2,913.9 259.3,914.7 260.4,914.5 261.5,914.0 262.7,913.6 263.8,912.4 264.9,911.5 266.0,910.2 267.2,907.6 268.3,905.0 269.4,901.1 270.5,898.0 271.7,893.2 272.8,888.9 273.9,884.3 275.0,878.5 276.1,873.6 277.3,868.3 278.4,863.8 279.5,858.9 280.6,855.0 281.8,850.8 282.9,847.3 284.0,844.1 285.1,841.8 286.3,840.5 287.4,839.1 288.5,838.9 289.6,839.2 290.8,839.5 291.9,841.6 293.0,843.5 294.1,846.1 295.3,848.4 296.4,852.1 297.5,855.3 298.6,859.4 299.8,862.9 300.9,866.4 302.0,871.1 303.1,875.3 304.2,878.7 305.4,882.8 306.5,886.5 307.6,890.4 308.7,893.8 309.9,897.2 311.0,899.5 312.1,902.3 313.2,905.1 314.4,906.6 315.5,908.9 316.6,910.8 317.7,912.2 318.9,913.4 320.0,915.0 321.1,915.3 322.2,916.7 323.4,917.2 324.5,918.1 325.6,918.1 326.7,918.7 327.9,918.7 329.0,919.2 330.1,919.7 331.2,919.6 332.3,920.0 333.5,920.0 334.6,919.9 335.7,919.9 336.8,920.0 338.0,920.1 339.1,920.4 340.2,920.2 341.3,919.8 342.5,920.6 343.6,920.2 344.7,920.1 345.8,920.2 347.0,920.4 348.1,920.4 349.2,920.0 350.3,920.2 351.5,920.3 352.6,920.1 353.7,919.9 354.8,920.5 356.0,920.3 357.1,920.5 358.2,920.2" fill="none" stroke="#e0d020" stroke-width="2.0" stroke-linejoin="round"/>
<polyline points="105.3,920.1 106.4,920.3 107.5,920.1 108.7,920.2 109.8,920.2 110.9,919.9 112.0,919.9 113.2,920.0 114.3,919.6 115.4,919.9 116.5,920.5 117.7,920.2 118.8,920.1 119.9,920.2 121.0,920.1 122.2,920.0 123.3,920.6 124.4,919.9 125.5,920.3 126.7,919.7 127.8,920.0 128.9,920.3 130.0,920.5 131.2,919.6 132.3,919.9 133.4,919.9 134.5,920.1 135.6,920.2 136.8,919.9 137.9,920.5 139.0,920.4 140.1,920.4 141.3,920.2 142.4,920.2 143.5,920.4 144.6,920.3 145.8,920.4 146.9,920.4 148.0,919.5 149.1,919.5 150.3,919.9 151.4,919.8 152.5,920.2 153.6,919.9 154.8,919.3 155.9,918.7 157.0,918.6 158.1,917.4 159.3,916.8 160.4,915.3 161.5,914.2 162.6,912.6 163.7,910.4 164.9,908.8 166.0,907.2 167.1,904.6 168.2,901.9 169.4,899.4 170.5,895.9 171.6,892.9 172.7,890.1 173.9,885.9 175.0,882.0 176.1,878.3 177.2,874.6 178.4,870.2 179.5,867.5 180.6,868.2 181.7,867.8 182.9,868.7 184.0,869.2 185.1,869.7 186.2,870.1 187.4,870.7 188.5,871.2 189.6,872.3 190.7,872.2 191.8,873.5 193.0,873.9 194.1,874.9 195.2,875.4 196.3,876.1 197.5,876.7 198.6,876.5 199.7,877.4 200.8,877.9 202.0,878.1 203.1,878.1 204.2,878.9 205.3,878.6 206.5,878.7 207.6,878.8 208.7,878.0 209.8,877.6 211.0,877.1 212.1,876.5 213.2,875.2 214.3,874.3 215.5,873.4 216.6,872.1 217.7,870.7 218.8,869.0 219.9,867.5 221.1,866.3 222.2,864.6 223.3,863.5 224.4,862.5 225.6,861.3 226.7,860.7 227.8,860.3 228.9,860.4 230.1,860.6 231.2,861.4 232.3,862.6 233.4,864.7 234.6,866.6 235.7,869.3 236.8,872.1 237.9,874.9 239.1,878.5 240.2,882.2 241.3,885.3 242.4,888.5 243.6,891.3 244.7,894.3 245.8,897.5 246.9,899.6 248.0,901.7 249.2,903.5 250.3,905.0 251.4,906.5 252.5,908.1 253.7,909.3 254.8,910.2 255.9,910.8 257.0,911.6 258.2,912.2 259.3,912.1 260.4,912.2 261.5,912.7 262.7,911.9 263.8,911.8 264.9,910.0 266.0,908.3 267.2,906.6 268.3,904.6 269.4,901.3 270.5,897.5 271.7,893.4 272.8,889.0 273.9,884.5 275.0,880.3 276.1,874.9 277.3,869.5 278.4,864.8 279.5,860.2 280.6,856.0 281.8,851.8 282.9,848.3 284.0,845.5 285.1,843.5 286.3,841.5 287.4,840.4 288.5,839.9 289.6,839.7 290.8,840.5 291.9,841.7 293.0,843.8 294.1,846.0 295.3,848.2 296.4,851.4 297.5,854.1 298.6,857.9 299.8,861.5 300.9,865.3 302.0,869.2 303.1,872.7 304.2,876.4 305.4,880.3 306.5,883.9 307.6,887.2 308.7,890.8 309.9,894.0 311.0,896.4 312.1,899.1 313.2,901.8 314.4,904.1 315.5,905.8 316.6,907.7 317.7,909.8 318.9,910.2 320.0,912.2 321.1,912.5 322.2,914.0 323.4,914.3 324.5,915.0 325.6,915.4 326.7,916.2 327.9,916.5 329.0,916.8 330.1,917.3 331.2,917.1 332.3,917.8 333.5,917.5 334.6,917.7 335.7,918.1 336.8,917.5 338.0,917.6 339.1,918.0 340.2,918.2 341.3,918.3 342.5,917.8 343.6,918.2 344.7,918.0 345.8,918.4 347.0,918.2 348.1,918.1 349.2,918.0 350.3,918.3 351.5,918.5 352.6,918.8 353.7,917.7 354.8,918.0 356.0,918.2 357.1,918.0 358.2,918.2" fill="none" stroke="#7c7c1e" stroke-width="2.0" stroke-linejoin="round"/>
<polyline points="105.3,918.3 106.4,918.4 107.5,918.2 108.7,918.7 109.8,918.7 110.9,918.4 112.0,918.4 113.2,918.3 114.3,918.1 115.4,918.8 116.5,918.5 117.7,918.2 118.8,918.4 119.9,918.4 121.0,918.4 122.2,918.5 123.3,918.5 124.4,917.7 125.5,918.8 126.7,918.0 127.8,918.6 128.9,917.8 130.0,918.1 131.2,918.4 132.3,918.4 133.4,918.4 134.5,918.2 135.6,918.1 136.8,918.4 137.9,918.3 139.0,918.1 140.1,918.2 141.3,918.4 142.4,917.8 143.5,918.4 144.6,918.2 145.8,918.3 146.9,918.4 148.0,918.4 149.1,918.6 150.3,918.6 151.4,918.4 152.5,917.3 153.6,917.9 154.8,917.9 155.9,917.6 157.0,916.3 158.1,915.8 159.3,914.7 160.4,913.6 161.5,912.6 162.6,911.3 163.7,909.5 164.9,907.3 166.0,905.4 167.1,903.0 168.2,900.7 169.4,898.0 170.5,894.9 171.6,892.5 172.7,889.1 173.9,885.5 175.0,881.7 176.1,878.1 177.2,874.2 178.4,869.8 179.5,866.8 180.6,867.6 181.7,868.1 182.9,868.4 184.0,868.4 185.1,869.4 186.2,870.1 187.4,870.5 188.5,871.0 189.6,871.8 190.7,872.2 191.8,872.2 193.0,873.4 194.1,874.0 195.2,874.3 196.3,875.2 197.5,875.6 198.6,875.8 199.7,875.8 200.8,876.5 202.0,876.4 203.1,876.1 204.2,875.9 205.3,876.0 206.5,875.8 207.6,875.7 208.7,874.9 209.8,873.1 211.0,872.7 212.1,871.6 213.2,870.3 214.3,868.7 215.5,866.9 216.6,865.2 217.7,863.1 218.8,861.3 219.9,859.7 221.1,857.4 222.2,855.9 223.3,854.5 224.4,852.5 225.6,851.4 226.7,850.1 227.8,849.8 228.9,849.6 230.1,849.4 231.2,850.1 232.3,851.2 233.4,852.7 234.6,854.7 235.7,858.0 236.8,861.5 237.9,864.7 239.1,868.1 240.2,872.0 241.3,875.9 242.4,880.1 243.6,883.4 244.7,887.1 245.8,890.4 246.9,893.0 248.0,895.7 249.2,898.6 250.3,900.6 251.4,902.1 252.5,904.4 253.7,905.0 254.8,906.5 255.9,907.8 257.0,908.9 258.2,909.2 259.3,909.5 260.4,909.8 261.5,909.9 262.7,909.8 263.8,909.6 264.9,908.9 266.0,907.5 267.2,905.9 268.3,903.7 269.4,900.7 270.5,897.7 271.7,893.8 272.8,889.4 273.9,885.0 275.0,880.4 276.1,875.4 277.3,870.7 278.4,865.6 279.5,861.7 280.6,856.8 281.8,852.8 282.9,849.5 284.0,846.4 285.1,844.8 286.3,842.2 287.4,841.4 288.5,840.9 289.6,840.6 290.8,841.5 291.9,842.3 293.0,844.1 294.1,845.9 295.3,848.1 296.4,851.1 297.5,853.6 298.6,856.2 299.8,859.8 300.9,863.4 302.0,867.0 303.1,870.4 304.2,874.5 305.4,877.9 306.5,881.3 307.6,884.5 308.7,887.8 309.9,890.7 311.0,893.9 312.1,896.5 313.2,898.6 314.4,900.4 315.5,902.4 316.6,904.8 317.7,906.2 318.9,908.3 320.0,909.3 321.1,910.3 322.2,911.3 323.4,912.2 324.5,912.5 325.6,913.2 326.7,914.1 327.9,914.3 329.0,914.7 330.1,915.0 331.2,914.9 332.3,915.3 333.5,915.1 334.6,915.5 335.7,915.5 336.8,915.7 338.0,916.4 339.1,916.0 340.2,915.9 341.3,915.8 342.5,915.9 343.6,916.3 344.7,916.0 345.8,916.5 347.0,915.9 348.1,916.1 349.2,916.0 350.3,916.0 351.5,916.6 352.6,916.0 353.7,916.0 354.8,915.8 356.0,916.2 357.1,916.2 358.2,916.2" fill="none" stroke="#1c1c84" stroke-width="2.0" stroke-linejoin="round"/>
<polyline points="105.3,917.3 106.4,916.7 107.5,916.9 108.7,916.8 109.8,916.5 110.9,916.6 112.0,916.6 113.2,916.5 114.3,916.9 115.4,917.1 116.5,916.8 117.7,916.4 118.8,916.9 119.9,916.7 121.0,917.0 122.2,916.6 123.3,916.6 124.4,916.8 125.5,916.9 126.7,916.6 127.8,917.2 128.9,916.7 130.0,916.7 131.2,916.7 132.3,916.8 133.4,916.9 134.5,916.3 135.6,916.8 136.8,916.7 137.9,917.2 139.0,916.5 140.1,916.9 141.3,916.7 142.4,916.8 143.5,916.7 144.6,916.8 145.8,916.7 146.9,916.5 148.0,916.9 149.1,916.9 150.3,916.8 151.4,917.0 152.5,917.1 153.6,916.3 154.8,916.7 155.9,915.8 157.0,915.1 158.1,914.4 159.3,913.6 160.4,912.8 161.5,911.1 162.6,909.6 163.7,908.3 164.9,905.9 166.0,904.1 167.1,902.0 168.2,899.3 169.4,896.9 170.5,893.9 171.6,891.1 172.7,887.9 173.9,885.4 175.0,881.5 176.1,877.7 177.2,873.7 178.4,870.3 179.5,867.0 180.6,867.3 181.7,867.7 182.9,868.1 184.0,868.9 185.1,868.8 186.2,869.5 187.4,870.7 188.5,870.4 189.6,870.7 190.7,872.2 191.8,872.4 193.0,873.0 194.1,873.3 195.2,874.0 196.3,873.8 197.5,874.1 198.6,874.8 199.7,874.8 200.8,875.1 202.0,874.6 203.1,874.6 204.2,873.8 205.3,873.6 206.5,873.3 207.6,872.4 208.7,871.7 209.8,870.8 211.0,869.6 212.1,869.1 213.2,866.5 214.3,865.5 215.5,863.0 216.6,861.2 217.7,859.7 218.8,857.8 219.9,855.4 221.1,853.5 222.2,851.9 223.3,849.9 224.4,848.2 225.6,847.2 226.7,846.3 227.8,845.1 228.9,844.8 230.1,845.0 231.2,845.2 232.3,846.3 233.4,848.2 234.6,850.0 235.7,852.4 236.8,856.0 237.9,859.4 239.1,863.1 240.2,866.5 241.3,870.4 242.4,874.2 243.6,877.8 244.7,881.7 245.8,885.0 246.9,888.3 248.0,891.5 249.2,893.7 250.3,896.4 251.4,898.5 252.5,900.4 253.7,902.2 254.8,903.5 255.9,904.9 257.0,905.5 258.2,906.4 259.3,907.3 260.4,907.7 261.5,908.0 262.7,907.7 263.8,907.3 264.9,907.1 266.0,905.7 267.2,904.5 268.3,902.8 269.4,900.5 270.5,897.0 271.7,894.3 272.8,890.1 273.9,885.6 275.0,881.3 276.1,876.3 277.3,871.2 278.4,867.4 279.5,862.4 280.6,858.4 281.8,853.9 282.9,850.8 284.0,847.5 285.1,845.4 286.3,843.6 287.4,842.6 288.5,841.4 289.6,841.7 290.8,841.7 291.9,843.6 293.0,844.4 294.1,845.6 295.3,847.4 296.4,850.4 297.5,853.0 298.6,855.8 299.8,859.0 300.9,861.8 302.0,865.3 303.1,868.2 304.2,871.8 305.4,875.7 306.5,878.3 307.6,881.7 308.7,885.1 309.9,887.7 311.0,890.9 312.1,893.0 313.2,895.7 314.4,897.9 315.5,899.9 316.6,901.6 317.7,903.3 318.9,904.8 320.0,906.4 321.1,907.8 322.2,908.3 323.4,909.1 324.5,910.1 325.6,910.7 326.7,911.4 327.9,911.6 329.0,912.3 330.1,912.7 331.2,912.8 332.3,912.9 333.5,913.6 334.6,913.1 335.7,913.3 336.8,913.9 338.0,913.9 339.1,914.1 340.2,913.8 341.3,913.9 342.5,913.8 343.6,914.4 344.7,914.2 345.8,914.0 347.0,914.4 348.1,914.1 349.2,914.2 350.3,913.8 351.5,913.7 352.6,914.6 353.7,914.0 354.8,914.3 356.0,913.9 357.1,914.1 358.2,914.2" fill="none" stroke="#6a1a8a" stroke-width="2.0" stroke-linejoin="round"/>
<polyline points="105.3,915.4 106.4,915.0 107.5,915.0 108.7,914.9 109.8,915.0 110.9,915.1 112.0,915.1 113.2,915.0 114.3,915.0 115.4,914.3 116.5,915.4 117.7,915.0 118.8,914.9 119.9,914.8 121.0,915.1 122.2,915.0 123.3,915.0 124.4,914.8 125.5,914.5 126.7,914.7 127.8,914.6 128.9,914.6 130.0,915.1 131.2,914.8 132.3,915.0 133.4,915.2 134.5,915.2 135.6,915.0 136.8,914.9 137.9,914.8 139.0,915.0 140.1,915.0 141.3,915.0 142.4,914.7 143.5,914.9 144.6,915.3 145.8,914.8 146.9,915.1 148.0,914.6 149.1,915.0 150.3,915.2 151.4,915.0 152.5,914.8 153.6,914.7 154.8,914.6 155.9,913.8 157.0,913.1 158.1,912.7 159.3,911.9 160.4,910.3 161.5,909.4 162.6,907.7 163.7,907.0 164.9,904.9 166.0,902.6 167.1,901.1 168.2,898.5 169.4,896.1 170.5,892.9 171.6,890.5 172.7,887.6 173.9,884.1 175.0,880.5 176.1,876.8 177.2,873.5 178.4,870.2 179.5,866.9 180.6,867.2 181.7,867.1 182.9,867.9 184.0,868.6 185.1,869.1 186.2,869.1 187.4,870.1 188.5,870.3 189.6,871.2 190.7,871.3 191.8,871.8 193.0,872.5 194.1,872.3 195.2,872.4 196.3,872.9 197.5,873.3 198.6,872.7 199.7,872.8 200.8,872.4 202.0,872.6 203.1,871.3 204.2,870.5 205.3,870.5 206.5,869.4 207.6,868.3 208.7,866.4 209.8,865.7 211.0,863.7 212.1,862.2 213.2,860.0 214.3,858.0 215.5,856.0 216.6,854.0 217.7,851.8 218.8,849.1 219.9,847.1 221.1,844.9 222.2,842.2 223.3,840.2 224.4,838.4 225.6,836.8 226.7,835.6 227.8,834.7 228.9,834.2 230.1,834.0 231.2,834.1 232.3,835.1 233.4,836.5 234.6,838.3 235.7,841.0 236.8,844.7 237.9,848.2 239.1,852.1 240.2,856.0 241.3,860.6 242.4,864.7 243.6,868.6 244.7,873.2 245.8,876.6 246.9,880.2 248.0,884.3 249.2,886.8 250.3,890.2 251.4,893.0 252.5,895.2 253.7,896.9 254.8,899.0 255.9,900.8 257.0,902.0 258.2,902.9 259.3,904.1 260.4,904.5 261.5,905.1 262.7,905.3 263.8,905.2 264.9,904.9 266.0,904.0 267.2,903.4 268.3,901.0 269.4,899.7 270.5,896.3 271.7,893.8 272.8,889.8 273.9,886.5 275.0,882.1 276.1,877.2 277.3,872.9 278.4,868.0 279.5,863.3 280.6,859.1 281.8,855.4 282.9,852.0 284.0,848.6 285.1,846.3 286.3,844.8 287.4,843.3 288.5,842.5 289.6,842.4 290.8,843.1 291.9,843.4 293.0,844.9 294.1,846.1 295.3,847.8 296.4,850.1 297.5,852.5 298.6,854.9 299.8,857.8 300.9,860.3 302.0,863.7 303.1,867.4 304.2,869.9 305.4,873.2 306.5,876.4 307.6,879.6 308.7,882.2 309.9,885.1 311.0,887.5 312.1,890.4 313.2,892.9 314.4,895.0 315.5,897.0 316.6,898.9 317.7,900.7 318.9,902.2 320.0,903.4 321.1,905.1 322.2,905.8 323.4,907.1 324.5,907.5 325.6,908.6 326.7,909.1 327.9,909.6 329.0,909.7 330.1,910.6 331.2,910.8 332.3,911.1 333.5,911.6 334.6,911.2 335.7,911.2 336.8,911.6 338.0,911.4 339.1,911.7 340.2,912.0 341.3,911.3 342.5,912.1 343.6,912.1 344.7,912.3 345.8,912.1 347.0,911.8 348.1,912.1 349.2,912.4 350.3,912.1 351.5,912.2 352.6,912.3 353.7,912.4 354.8,911.7 356.0,912.3 357.1,912.0 358.2,912.2" fill="none" stroke="#661414" stroke-width="2.0" stroke-linejoin="round"/>
<polyline points="105.3,910.3 106.4,910.3 107.5,910.6 108.7,910.5 109.8,910.4 110.9,911.0 112.0,910.6 113.2,910.6 114.3,910.3 115.4,910.5 116.5,910.9 117.7,910.9 118.8,910.6 119.9,910.4 121.0,911.2 122.2,910.5 123.3,910.5 124.4,910.4 125.5,911.3 126.7,910.8 127.8,910.4 128.9,910.5 130.0,910.7 131.2,910.4 132.3,910.4 133.4,911.4 134.5,910.7 135.6,910.3 136.8,910.6 137.9,910.8 139.0,910.3 140.1,910.4 141.3,910.7 142.4,910.5 143.5,910.6 144.6,910.7 145.8,910.9 146.9,910.6 148.0,910.9 149.1,910.5 150.3,910.8 151.4,910.7 152.5,910.8 153.6,910.7 154.8,910.3 155.9,909.4 157.0,909.1 158.1,908.3 159.3,907.7 160.4,907.0 161.5,905.3 162.6,904.4 163.7,902.8 164.9,901.3 166.0,899.4 167.1,897.9 168.2,895.5 169.4,893.8 170.5,891.1 171.6,888.6 172.7,885.5 173.9,882.6 175.0,879.3 176.1,876.2 177.2,872.4 178.4,869.6 179.5,866.7 180.6,867.7 181.7,867.7 182.9,868.1 184.0,868.4 185.1,869.1 186.2,869.2 187.4,869.3 188.5,870.1 189.6,870.4 190.7,870.4 191.8,871.3 193.0,871.0 194.1,871.2 195.2,871.1 196.3,871.8 197.5,871.5 198.6,871.4 199.7,870.6 200.8,870.5 202.0,869.7 203.1,869.4 204.2,868.4 205.3,867.3 206.5,865.9 207.6,864.7 208.7,863.4 209.8,862.2 211.0,860.0 212.1,858.2 213.2,856.0 214.3,853.9 215.5,851.7 216.6,849.7 217.7,846.6 218.8,844.9 219.9,842.4 221.1,839.9 222.2,837.1 223.3,835.3 224.4,834.1 225.6,832.1 226.7,830.5 227.8,829.4 228.9,828.6 230.1,828.7 231.2,829.1 232.3,829.0 233.4,830.6 234.6,832.4 235.7,834.9 236.8,837.7 237.9,841.0 239.1,845.2 240.2,849.3 241.3,853.0 242.4,857.7 243.6,862.2 244.7,866.4 245.8,870.2 246.9,874.2 248.0,878.4 249.2,881.1 250.3,885.1 251.4,887.5 252.5,890.5 253.7,892.3 254.8,894.6 255.9,896.6 257.0,897.9 258.2,899.0 259.3,900.2 260.4,901.8 261.5,902.2 262.7,902.9 263.8,902.7 264.9,902.6 266.0,902.2 267.2,901.2 268.3,900.1 269.4,898.4 270.5,895.9 271.7,893.4 272.8,890.4 273.9,886.4 275.0,882.3 276.1,878.0 277.3,873.1 278.4,868.7 279.5,865.1 280.6,860.3 281.8,856.6 282.9,853.2 284.0,849.9 285.1,847.4 286.3,845.8 287.4,843.9 288.5,843.5 289.6,843.3 290.8,843.6 291.9,844.4 293.0,844.8 294.1,846.2 295.3,848.1 296.4,849.8 297.5,852.3 298.6,854.2 299.8,857.0 300.9,860.0 302.0,862.8 303.1,865.1 304.2,868.4 305.4,871.0 306.5,874.0 307.6,876.8 308.7,879.9 309.9,882.4 311.0,885.1 312.1,888.0 313.2,889.5 314.4,892.2 315.5,894.2 316.6,896.1 317.7,897.8 318.9,899.2 320.0,900.8 321.1,902.0 322.2,903.1 323.4,904.6 324.5,904.7 325.6,905.8 326.7,906.4 327.9,907.1 329.0,907.7 330.1,908.3 331.2,908.4 332.3,908.5 333.5,908.5 334.6,909.4 335.7,909.3 336.8,909.3 338.0,909.4 339.1,909.6 340.2,909.7 341.3,909.9 342.5,909.8 343.6,910.0 344.7,910.3 345.8,909.5 347.0,910.2 348.1,909.7 349.2,909.9 350.3,910.1 351.5,909.8 352.6,910.1 353.7,909.7 354.8,910.0 356.0,910.0 357.1,910.1 358.2,909.8" fill="none" stroke="#2e7a2e" stroke-width="2.0" stroke-linejoin="round"/>
<polyline points="105.3,907.2 106.4,907.4 107.5,907.5 108.7,907.0 109.8,906.9 110.9,907.2 112.0,907.2 113.2,907.3 114.3,907.5 115.4,907.3 116.5,906.8 117.7,906.9 118.8,907.1 119.9,907.6 121.0,907.1 122.2,906.9 123.3,907.2 124.4,907.4 125.5,907.6 126.7,906.8 127.8,907.4 128.9,907.2 130.0,907.0 131.2,907.1 132.3,907.2 133.4,907.5 134.5,907.1 135.6,907.0 136.8,907.1 137.9,907.4 139.0,907.2 140.1,907.1 141.3,907.0 142.4,907.3 143.5,907.3 144.6,907.0 145.8,907.4 146.9,907.4 148.0,907.6 149.1,907.5 150.3,907.4 151.4,906.9 152.5,907.6 153.6,906.7 154.8,906.8 155.9,906.5 157.0,905.6 158.1,905.0 159.3,904.2 160.4,903.5 161.5,902.3 162.6,901.4 163.7,899.7 164.9,899.0 166.0,896.7 167.1,895.0 168.2,893.5 169.4,891.4 170.5,888.4 171.6,886.3 172.7,883.9 173.9,881.1 175.0,879.1 176.1,875.6 177.2,872.8 178.4,869.0 179.5,866.8 180.6,867.1 181.7,867.2 182.9,867.7 184.0,867.6 185.1,868.4 186.2,868.4 187.4,868.5 188.5,869.6 189.6,870.0 190.7,870.0 191.8,870.3 193.0,869.9 194.1,870.2 195.2,870.2 196.3,870.0 197.5,869.8 198.6,869.0 199.7,868.6 200.8,867.8 202.0,867.2 203.1,866.2 204.2,865.4 205.3,863.9 206.5,862.1 207.6,861.6 208.7,859.5 209.8,857.9 211.0,855.9 212.1,854.0 213.2,851.5 214.3,849.1 215.5,847.6 216.6,844.9 217.7,841.8 218.8,839.3 219.9,837.5 221.1,835.2 222.2,832.6 223.3,830.4 224.4,829.1 225.6,827.1 226.7,825.6 227.8,824.6 228.9,823.1 230.1,823.3 231.2,822.9 232.3,824.0 233.4,824.4 234.6,826.0 235.7,829.4 236.8,831.7 237.9,834.7 239.1,838.1 240.2,842.7 241.3,846.9 242.4,851.0 243.6,855.5 244.7,859.8 245.8,863.5 246.9,867.6 248.0,872.2 249.2,875.9 250.3,879.0 251.4,881.9 252.5,885.1 253.7,888.3 254.8,890.3 255.9,892.4 257.0,894.4 258.2,895.8 259.3,897.3 260.4,897.8 261.5,899.3 262.7,899.4 263.8,900.1 264.9,900.4 266.0,900.2 267.2,899.4 268.3,898.1 269.4,897.0 270.5,895.1 271.7,892.8 272.8,889.6 273.9,886.4 275.0,882.4 276.1,878.5 277.3,874.3 278.4,870.5 279.5,865.8 280.6,861.6 281.8,857.6 282.9,854.5 284.0,851.3 285.1,848.8 286.3,846.6 287.4,845.1 288.5,844.9 289.6,843.7 290.8,844.3 291.9,844.9 293.0,845.6 294.1,846.7 295.3,847.9 296.4,850.0 297.5,851.6 298.6,853.6 299.8,856.1 300.9,858.7 302.0,860.8 303.1,864.2 304.2,866.5 305.4,869.4 306.5,872.5 307.6,875.4 308.7,877.5 309.9,880.0 311.0,882.6 312.1,884.8 313.2,887.1 314.4,889.7 315.5,891.8 316.6,893.2 317.7,895.1 318.9,896.5 320.0,898.3 321.1,899.3 322.2,900.2 323.4,901.6 324.5,902.3 325.6,903.2 326.7,904.1 327.9,904.6 329.0,904.5 330.1,905.7 331.2,906.0 332.3,906.1 333.5,906.7 334.6,906.5 335.7,906.2 336.8,907.6 338.0,907.1 339.1,907.4 340.2,907.9 341.3,907.4 342.5,907.3 343.6,907.8 344.7,907.8 345.8,907.9 347.0,908.1 348.1,907.6 349.2,908.0 350.3,907.3 351.5,907.8 352.6,908.3 353.7,907.9 354.8,908.0 356.0,907.8 357.1,907.9 358.2,908.0" fill="none" stroke="#2f7a78" stroke-width="2.0" stroke-linejoin="round"/>
<polyline points="105.3,902.9 106.4,902.9 107.5,902.6 108.7,902.9 109.8,902.5 110.9,902.9 112.0,902.8 113.2,902.8 114.3,902.4 115.4,902.9 116.5,902.8 117.7,902.4 118.8,902.9 119.9,902.6 121.0,902.9 122.2,903.0 123.3,903.1 124.4,902.9 125.5,902.3 126.7,902.8 127.8,902.9 128.9,902.8 130.0,902.8 131.2,902.7 132.3,903.0 133.4,902.8 134.5,902.9 135.6,902.8 136.8,902.9 137.9,902.9 139.0,902.6 140.1,903.0 141.3,902.8 142.4,903.0 143.5,903.0 144.6,903.4 145.8,902.7 146.9,903.1 148.0,903.0 149.1,902.8 150.3,903.1 151.4,903.2 152.5,902.6 153.6,902.6 154.8,902.3 155.9,902.0 157.0,901.5 158.1,901.2 159.3,900.6 160.4,899.6 161.5,898.9 162.6,897.9 163.7,896.8 164.9,895.2 166.0,893.9 167.1,892.2 168.2,890.2 169.4,888.4 170.5,886.5 171.6,884.1 172.7,881.9 173.9,879.5 175.0,876.9 176.1,874.5 177.2,871.6 178.4,868.5 179.5,866.8 180.6,867.0 181.7,867.6 182.9,867.3 184.0,868.0 185.1,868.2 186.2,868.2 187.4,868.6 188.5,868.6 189.6,869.1 190.7,869.3 191.8,868.8 193.0,868.9 194.1,868.8 195.2,868.3 196.3,868.4 197.5,866.9 198.6,866.4 199.7,866.0 200.8,864.8 202.0,864.2 203.1,862.6 204.2,861.6 205.3,859.7 206.5,858.3 207.6,856.2 208.7,853.9 209.8,851.8 211.0,849.9 212.1,847.8 213.2,845.4 214.3,842.7 215.5,839.9 216.6,837.1 217.7,834.6 218.8,832.0 219.9,829.4 221.1,826.9 222.2,824.4 223.3,822.7 224.4,819.7 225.6,817.6 226.7,816.5 227.8,814.8 228.9,814.4 230.1,813.3 231.2,813.5 232.3,813.8 233.4,814.7 234.6,816.4 235.7,817.9 236.8,820.5 237.9,823.8 239.1,827.8 240.2,832.2 241.3,836.0 242.4,841.1 243.6,845.5 244.7,850.2 245.8,854.9 246.9,859.6 248.0,863.6 249.2,867.6 250.3,871.1 251.4,875.4 252.5,878.6 253.7,881.4 254.8,884.1 255.9,887.0 257.0,889.1 258.2,891.2 259.3,893.0 260.4,894.7 261.5,895.4 262.7,896.7 263.8,897.2 264.9,897.3 266.0,897.7 267.2,897.3 268.3,896.1 269.4,895.7 270.5,893.6 271.7,891.9 272.8,889.0 273.9,886.1 275.0,882.7 276.1,878.9 277.3,874.9 278.4,871.0 279.5,867.0 280.6,863.1 281.8,859.1 282.9,855.4 284.0,852.7 285.1,849.6 286.3,847.9 287.4,846.2 288.5,845.5 289.6,845.1 290.8,845.2 291.9,845.4 293.0,845.7 294.1,846.6 295.3,847.9 296.4,849.5 297.5,851.7 298.6,853.2 299.8,855.5 300.9,857.9 302.0,860.0 303.1,862.8 304.2,865.2 305.4,867.8 306.5,869.8 307.6,872.7 308.7,875.5 309.9,878.1 311.0,880.4 312.1,883.0 313.2,885.5 314.4,886.7 315.5,888.6 316.6,890.4 317.7,892.3 318.9,894.3 320.0,894.9 321.1,896.8 322.2,898.2 323.4,899.3 324.5,900.1 325.6,900.4 326.7,901.5 327.9,902.1 329.0,903.2 330.1,902.7 331.2,903.8 332.3,904.1 333.5,904.6 334.6,904.8 335.7,904.6 336.8,905.2 338.0,905.0 339.1,905.2 340.2,905.5 341.3,905.8 342.5,905.5 343.6,905.9 344.7,905.8 345.8,906.0 347.0,905.7 348.1,906.1 349.2,906.0 350.3,906.1 351.5,905.6 352.6,906.1 353.7,905.9 354.8,905.7 356.0,906.3 357.1,906.1 358.2,906.0" fill="none" stroke="#1c1c84" stroke-width="2.0" stroke-linejoin="round"/>
<polyline points="105.3,898.7 106.4,898.4 107.5,898.3 108.7,898.6 109.8,898.0 110.9,898.5 112.0,898.7 113.2,898.5 114.3,897.9 115.4,898.4 116.5,898.5 117.7,898.4 118.8,898.2 119.9,897.8 121.0,898.6 122.2,898.4 123.3,898.2 124.4,898.8 125.5,898.3 126.7,898.2 127.8,898.5 128.9,898.0 130.0,898.4 131.2,898.5 132.3,898.3 133.4,898.4 134.5,898.6 135.6,898.5 136.8,898.3 137.9,898.5 139.0,898.4 140.1,898.5 141.3,898.5 142.4,898.1 143.5,897.7 144.6,898.2 145.8,898.6 146.9,898.2 148.0,898.6 149.1,897.9 150.3,898.5 151.4,898.1 152.5,898.3 153.6,897.6 154.8,898.1 155.9,897.5 157.0,897.4 158.1,896.9 159.3,896.0 160.4,896.1 161.5,895.2 162.6,894.0 163.7,892.7 164.9,891.6 166.0,890.3 167.1,889.0 168.2,887.3 169.4,885.9 170.5,884.2 171.6,882.0 172.7,880.2 173.9,877.8 175.0,875.2 176.1,873.7 177.2,871.1 178.4,868.5 179.5,866.8 180.6,866.5 181.7,867.0 182.9,867.2 184.0,867.6 185.1,867.8 186.2,867.8 187.4,868.2 188.5,867.8 189.6,867.7 190.7,867.9 191.8,867.7 193.0,867.1 194.1,867.4 195.2,866.2 196.3,865.9 197.5,865.1 198.6,864.6 199.7,862.9 200.8,861.9 202.0,860.3 203.1,858.7 204.2,857.3 205.3,855.5 206.5,853.6 207.6,851.2 208.7,849.5 209.8,847.2 211.0,844.5 212.1,842.2 213.2,839.6 214.3,836.8 215.5,834.2 216.6,831.4 217.7,828.4 218.8,825.8 219.9,822.7 221.1,820.3 222.2,818.0 223.3,815.4 224.4,812.3 225.6,810.4 226.7,809.0 227.8,807.8 228.9,806.5 230.1,805.9 231.2,805.7 232.3,805.6 233.4,806.4 234.6,807.8 235.7,809.5 236.8,812.3 237.9,815.2 239.1,818.8 240.2,822.9 241.3,826.9 242.4,831.8 243.6,837.0 244.7,841.1 245.8,846.3 246.9,851.1 248.0,855.1 249.2,859.9 250.3,864.1 251.4,868.1 252.5,871.3 253.7,875.4 254.8,878.7 255.9,881.5 257.0,883.7 258.2,886.6 259.3,888.2 260.4,890.3 261.5,891.6 262.7,892.7 263.8,893.5 264.9,894.3 266.0,894.4 267.2,894.5 268.3,894.5 269.4,893.2 270.5,892.6 271.7,890.6 272.8,888.4 273.9,886.4 275.0,882.7 276.1,878.7 277.3,875.5 278.4,871.7 279.5,867.4 280.6,863.6 281.8,859.8 282.9,856.4 284.0,853.2 285.1,850.8 286.3,849.2 287.4,847.3 288.5,846.2 289.6,846.0 290.8,845.5 291.9,845.9 293.0,846.1 294.1,847.5 295.3,848.2 296.4,849.5 297.5,851.0 298.6,852.7 299.8,855.0 300.9,857.0 302.0,859.0 303.1,861.3 304.2,863.7 305.4,866.4 306.5,868.4 307.6,870.7 308.7,873.1 309.9,876.0 311.0,878.5 312.1,880.5 313.2,882.2 314.4,884.4 315.5,886.3 316.6,888.2 317.7,890.0 318.9,891.4 320.0,892.5 321.1,894.7 322.2,895.5 323.4,896.7 324.5,897.4 325.6,898.3 326.7,898.7 327.9,899.5 329.0,900.1 330.1,900.7 331.2,901.0 332.3,901.5 333.5,901.8 334.6,902.2 335.7,902.8 336.8,902.8 338.0,903.0 339.1,903.3 340.2,903.2 341.3,903.5 342.5,903.8 343.6,903.5 344.7,903.4 345.8,903.6 347.0,903.5 348.1,903.7 349.2,903.8 350.3,903.5 351.5,904.0 352.6,903.7 353.7,903.5 354.8,904.3 356.0,903.5 357.1,903.8 358.2,904.0" fill="none" stroke="#cc2a2a" stroke-width="2.0" stroke-linejoin="round"/>
<polyline points="105.3,893.0 106.4,893.0 107.5,892.7 108.7,892.9 109.8,893.1 110.9,892.9 112.0,893.3 113.2,892.9 114.3,892.7 115.4,893.2 116.5,893.2 117.7,893.5 118.8,892.7 119.9,893.0 121.0,893.1 122.2,893.4 123.3,893.2 124.4,893.6 125.5,893.3 126.7,892.8 127.8,893.0 128.9,892.9 130.0,892.9 131.2,893.1 132.3,892.7 133.4,892.7 134.5,893.0 135.6,892.8 136.8,893.5 137.9,893.0 139.0,892.6 140.1,892.6 141.3,892.4 142.4,892.8 143.5,892.9 144.6,892.7 145.8,892.8 146.9,892.6 148.0,892.7 149.1,893.3 150.3,892.8 151.4,892.4 152.5,892.9 153.6,893.0 154.8,893.1 155.9,892.8 157.0,892.0 158.1,891.6 159.3,891.7 160.4,890.6 161.5,889.7 162.6,889.0 163.7,887.9 164.9,887.2 166.0,886.2 167.1,885.4 168.2,883.4 169.4,882.5 170.5,880.7 171.6,879.4 172.7,877.7 173.9,876.3 175.0,874.1 176.1,872.3 177.2,870.2 178.4,868.1 179.5,866.5 180.6,866.5 181.7,866.3 182.9,867.2 184.0,867.2 185.1,867.2 186.2,867.1 187.4,867.6 188.5,866.9 189.6,866.9 190.7,866.5 191.8,866.3 193.0,865.7 194.1,864.5 195.2,864.2 196.3,863.0 197.5,862.0 198.6,860.7 199.7,859.3 200.8,857.7 202.0,856.1 203.1,854.5 204.2,852.6 205.3,850.8 206.5,848.1 207.6,846.2 208.7,843.2 209.8,841.0 211.0,838.1 212.1,835.6 213.2,832.5 214.3,829.5 215.5,827.2 216.6,823.4 217.7,820.9 218.8,818.1 219.9,814.5 221.1,811.6 222.2,808.8 223.3,806.7 224.4,804.1 225.6,801.7 226.7,799.6 227.8,797.9 228.9,797.0 230.1,796.3 231.2,795.9 232.3,796.0 233.4,796.4 234.6,797.2 235.7,799.1 236.8,801.9 237.9,804.7 239.1,808.4 240.2,812.6 241.3,816.7 242.4,821.8 243.6,826.5 244.7,831.3 245.8,836.4 246.9,841.2 248.0,846.4 249.2,850.7 250.3,855.3 251.4,859.6 252.5,864.0 253.7,867.5 254.8,871.9 255.9,874.5 257.0,877.7 258.2,880.8 259.3,882.9 260.4,885.4 261.5,887.1 262.7,888.5 263.8,889.7 264.9,890.6 266.0,891.7 267.2,891.4 268.3,891.7 269.4,891.5 270.5,890.6 271.7,889.5 272.8,887.6 273.9,885.0 275.0,882.9 276.1,879.4 277.3,875.3 278.4,871.8 279.5,868.6 280.6,864.1 281.8,860.7 282.9,857.5 284.0,854.5 285.1,851.9 286.3,849.5 287.4,848.3 288.5,847.0 289.6,846.2 290.8,846.3 291.9,846.6 293.0,846.1 294.1,847.5 295.3,848.7 296.4,849.8 297.5,851.1 298.6,852.5 299.8,854.5 300.9,855.9 302.0,858.7 303.1,860.4 304.2,862.9 305.4,865.0 306.5,868.0 307.6,869.1 308.7,871.9 309.9,873.6 311.0,875.4 312.1,878.3 313.2,879.9 314.4,882.1 315.5,883.8 316.6,885.8 317.7,887.3 318.9,888.7 320.0,890.2 321.1,891.1 322.2,892.8 323.4,893.7 324.5,894.8 325.6,896.0 326.7,896.5 327.9,897.4 329.0,897.9 330.1,898.6 331.2,898.7 332.3,899.5 333.5,899.7 334.6,900.3 335.7,900.3 336.8,900.8 338.0,900.9 339.1,900.6 340.2,901.5 341.3,901.3 342.5,901.9 343.6,901.3 344.7,901.6 345.8,901.8 347.0,901.9 348.1,901.9 349.2,902.0 350.3,902.2 351.5,901.6 352.6,901.5 353.7,901.8 354.8,901.7 356.0,902.0 357.1,902.3 358.2,902.1" fill="none" stroke="#b02060" stroke-width="2.0" stroke-linejoin="round"/>
<polyline points="105.3,888.7 106.4,889.3 107.5,888.7 108.7,888.9 109.8,889.1 110.9,889.2 112.0,889.4 113.2,888.5 114.3,889.1 115.4,888.9 116.5,888.7 117.7,889.0 118.8,888.7 119.9,888.6 121.0,889.0 122.2,888.3 123.3,888.9 124.4,888.6 125.5,888.8 126.7,889.4 127.8,889.0 128.9,888.4 130.0,889.4 131.2,888.9 132.3,889.2 133.4,888.7 134.5,888.4 135.6,889.2 136.8,888.8 137.9,888.7 139.0,888.9 140.1,888.4 141.3,889.1 142.4,888.7 143.5,889.4 144.6,888.7 145.8,888.8 146.9,888.5 148.0,889.0 149.1,889.2 150.3,889.1 151.4,889.2 152.5,889.0 153.6,889.4 154.8,888.4 155.9,888.8 157.0,887.6 158.1,887.8 159.3,887.6 160.4,887.0 161.5,886.4 162.6,885.7 163.7,884.4 164.9,883.9 166.0,883.5 167.1,881.8 168.2,880.9 169.4,879.8 170.5,878.8 171.6,877.4 172.7,876.1 173.9,874.4 175.0,872.9 176.1,871.0 177.2,869.6 178.4,867.4 179.5,866.4 180.6,866.4 181.7,866.9 182.9,866.3 184.0,866.9 185.1,866.6 186.2,866.4 187.4,866.6 188.5,866.1 189.6,865.5 190.7,865.1 191.8,864.3 193.0,863.5 194.1,862.6 195.2,861.4 196.3,860.5 197.5,859.1 198.6,857.5 199.7,856.2 200.8,854.4 202.0,852.1 203.1,850.6 204.2,848.3 205.3,846.7 206.5,844.0 207.6,841.7 208.7,838.7 209.8,836.2 211.0,833.1 212.1,831.0 213.2,828.1 214.3,824.4 215.5,821.4 216.6,818.6 217.7,815.7 218.8,812.7 219.9,809.8 221.1,806.9 222.2,804.2 223.3,801.6 224.4,799.0 225.6,797.3 226.7,794.8 227.8,793.3 228.9,792.0 230.1,791.1 231.2,790.2 232.3,790.1 233.4,790.8 234.6,791.9 235.7,793.3 236.8,795.3 237.9,797.8 239.1,801.8 240.2,805.3 241.3,809.7 242.4,814.0 243.6,819.1 244.7,823.6 245.8,828.8 246.9,833.5 248.0,838.5 249.2,843.7 250.3,848.2 251.4,852.7 252.5,856.9 253.7,861.5 254.8,865.0 255.9,868.2 257.0,871.8 258.2,874.7 259.3,877.5 260.4,880.4 261.5,882.4 262.7,884.1 263.8,886.0 264.9,887.1 266.0,888.1 267.2,889.0 268.3,889.5 269.4,889.2 270.5,888.5 271.7,888.1 272.8,886.0 273.9,884.0 275.0,882.2 276.1,879.2 277.3,875.6 278.4,872.6 279.5,868.9 280.6,865.5 281.8,861.7 282.9,858.9 284.0,855.5 285.1,853.2 286.3,851.1 287.4,848.8 288.5,848.0 289.6,847.0 290.8,847.3 291.9,847.0 293.0,847.3 294.1,848.1 295.3,849.1 296.4,850.2 297.5,851.1 298.6,852.5 299.8,853.9 300.9,855.7 302.0,858.0 303.1,859.4 304.2,861.3 305.4,863.4 306.5,865.9 307.6,867.9 308.7,869.9 309.9,872.3 311.0,873.5 312.1,875.9 313.2,877.8 314.4,880.0 315.5,881.5 316.6,883.8 317.7,885.0 318.9,886.2 320.0,887.9 321.1,889.1 322.2,890.0 323.4,891.6 324.5,892.8 325.6,893.5 326.7,893.6 327.9,895.3 329.0,895.5 330.1,896.2 331.2,896.3 332.3,897.5 333.5,897.6 334.6,898.0 335.7,898.0 336.8,898.3 338.0,899.1 339.1,898.8 340.2,898.6 341.3,898.8 342.5,899.2 343.6,899.8 344.7,899.8 345.8,899.5 347.0,899.9 348.1,899.2 349.2,899.8 350.3,900.2 351.5,899.6 352.6,900.1 353.7,899.8 354.8,900.1 356.0,899.6 357.1,900.2 358.2,899.9" fill="none" stroke="#cc2a2a" stroke-width="2.0" stroke-linejoin="round"/>
<polyline points="105.3,884.1 106.4,883.9 107.5,883.5 108.7,884.1 109.8,884.1 110.9,884.6 112.0,884.1 113.2,884.0 114.3,884.0 115.4,884.4 116.5,883.9 117.7,883.8 118.8,883.7 119.9,884.1 121.0,883.7 122.2,883.7 123.3,884.1 124.4,884.1 125.5,884.1 126.7,883.9 127.8,883.5 128.9,883.7 130.0,883.9 131.2,883.6 132.3,884.0 133.4,883.4 134.5,883.5 135.6,884.0 136.8,883.7 137.9,883.9 139.0,884.0 140.1,883.5 141.3,884.0 142.4,884.3 143.5,883.9 144.6,884.0 145.8,883.4 146.9,884.2 148.0,883.9 149.1,884.3 150.3,884.3 151.4,884.1 152.5,883.7 153.6,883.7 154.8,883.6 155.9,884.1 157.0,883.5 158.1,883.0 159.3,882.3 160.4,882.3 161.5,881.9 162.6,881.7 163.7,880.5 164.9,880.2 166.0,879.1 167.1,878.8 168.2,877.7 169.4,876.7 170.5,875.9 171.6,874.9 172.7,874.2 173.9,872.2 175.0,871.4 176.1,869.8 177.2,868.7 178.4,866.8 179.5,866.4 180.6,865.8 181.7,866.2 182.9,865.9 184.0,865.6 185.1,865.8 186.2,864.9 187.4,865.1 188.5,864.2 189.6,863.6 190.7,863.2 191.8,862.1 193.0,861.0 194.1,859.9 195.2,858.3 196.3,856.7 197.5,854.9 198.6,853.5 199.7,851.4 200.8,849.7 202.0,847.1 203.1,844.8 204.2,842.1 205.3,840.2 206.5,837.7 207.6,834.8 208.7,832.0 209.8,829.0 211.0,825.6 212.1,822.6 213.2,819.3 214.3,816.6 215.5,813.3 216.6,809.6 217.7,807.1 218.8,803.3 219.9,799.9 221.1,796.8 222.2,794.0 223.3,790.8 224.4,788.9 225.6,786.0 226.7,783.6 227.8,781.8 228.9,780.3 230.1,779.2 231.2,778.6 232.3,778.4 233.4,778.5 234.6,778.9 235.7,780.4 236.8,782.2 237.9,785.2 239.1,789.2 240.2,793.0 241.3,797.3 242.4,801.4 243.6,806.8 244.7,812.0 245.8,817.1 246.9,822.5 248.0,827.6 249.2,832.4 250.3,837.3 251.4,842.3 252.5,847.5 253.7,852.0 254.8,856.4 255.9,860.4 257.0,864.1 258.2,867.3 259.3,871.0 260.4,874.0 261.5,876.9 262.7,879.3 263.8,881.0 264.9,882.5 266.0,883.7 267.2,885.1 268.3,885.9 269.4,886.2 270.5,886.5 271.7,885.7 272.8,884.7 273.9,883.0 275.0,881.1 276.1,879.1 277.3,875.8 278.4,872.4 279.5,869.0 280.6,866.3 281.8,862.6 282.9,859.6 284.0,856.3 285.1,853.9 286.3,851.9 287.4,849.8 288.5,848.7 289.6,847.9 290.8,847.8 291.9,847.2 293.0,847.9 294.1,848.3 295.3,849.0 296.4,850.4 297.5,851.2 298.6,852.2 299.8,854.0 300.9,855.9 302.0,857.0 303.1,858.5 304.2,860.6 305.4,862.8 306.5,864.9 307.6,866.7 308.7,868.2 309.9,870.8 311.0,872.5 312.1,874.0 313.2,875.6 314.4,877.7 315.5,879.1 316.6,881.2 317.7,882.5 318.9,884.0 320.0,885.8 321.1,886.4 322.2,887.7 323.4,888.5 324.5,889.7 325.6,890.8 326.7,891.8 327.9,892.5 329.0,892.9 330.1,893.9 331.2,893.9 332.3,894.7 333.5,895.0 334.6,895.6 335.7,895.7 336.8,896.4 338.0,896.8 339.1,897.1 340.2,896.6 341.3,897.2 342.5,897.0 343.6,897.1 344.7,897.1 345.8,897.6 347.0,897.8 348.1,897.5 349.2,897.5 350.3,897.5 351.5,897.5 352.6,897.4 353.7,897.7 354.8,897.5 356.0,897.3 357.1,897.8 358.2,897.9" fill="none" stroke="#808080" stroke-width="2.0" stroke-linejoin="round"/>
<polyline points="105.3,880.0 106.4,879.6 107.5,880.1 108.7,879.9 109.8,879.8 110.9,879.3 112.0,879.8 113.2,879.5 114.3,880.3 115.4,879.3 116.5,880.0 117.7,879.5 118.8,879.7 119.9,879.3 121.0,879.8 122.2,879.6 123.3,880.1 124.4,879.6 125.5,879.9 126.7,879.7 127.8,879.7 128.9,879.9 130.0,879.6 131.2,879.1 132.3,879.5 133.4,879.7 134.5,880.0 135.6,880.1 136.8,879.7 137.9,880.0 139.0,879.7 140.1,879.6 141.3,879.8 142.4,879.5 143.5,879.9 144.6,880.0 145.8,880.2 146.9,879.8 148.0,879.9 149.1,880.0 150.3,879.8 151.4,879.6 152.5,880.0 153.6,879.9 154.8,879.7 155.9,880.0 157.0,878.8 158.1,879.3 159.3,878.6 160.4,878.4 161.5,877.8 162.6,878.2 163.7,876.8 164.9,877.0 166.0,875.9 167.1,876.2 168.2,875.1 169.4,874.2 170.5,873.6 171.6,873.0 172.7,872.0 173.9,870.8 175.0,870.5 176.1,869.1 177.2,867.8 178.4,866.4 179.5,865.6 180.6,865.3 181.7,865.1 182.9,865.4 184.0,865.5 185.1,864.7 186.2,864.3 187.4,864.0 188.5,862.7 189.6,862.1 190.7,861.0 191.8,859.5 193.0,858.8 194.1,857.3 195.2,855.7 196.3,854.0 197.5,851.7 198.6,850.3 199.7,848.1 200.8,846.0 202.0,843.6 203.1,841.1 204.2,839.2 205.3,836.2 206.5,833.2 207.6,830.7 208.7,827.6 209.8,824.9 211.0,821.8 212.1,818.5 213.2,815.7 214.3,812.7 215.5,809.4 216.6,806.0 217.7,803.2 218.8,799.5 219.9,796.4 221.1,792.9 222.2,790.2 223.3,787.9 224.4,784.5 225.6,782.3 226.7,780.2 227.8,778.6 228.9,776.6 230.1,775.3 231.2,774.7 232.3,774.5 233.4,774.7 234.6,774.9 235.7,775.9 236.8,777.6 237.9,780.5 239.1,783.7 240.2,787.0 241.3,791.3 242.4,795.2 243.6,800.4 244.7,805.1 245.8,810.5 246.9,815.6 248.0,820.5 249.2,825.4 250.3,831.2 251.4,835.9 252.5,840.7 253.7,845.1 254.8,849.2 255.9,853.8 257.0,857.8 258.2,860.9 259.3,864.7 260.4,868.0 261.5,870.8 262.7,873.8 263.8,875.9 264.9,877.3 266.0,879.9 267.2,881.4 268.3,882.0 269.4,883.0 270.5,883.4 271.7,883.6 272.8,882.7 273.9,881.7 275.0,879.9 276.1,877.9 277.3,875.1 278.4,872.3 279.5,869.9 280.6,866.6 281.8,863.2 282.9,859.9 284.0,857.2 285.1,854.9 286.3,852.7 287.4,851.1 288.5,849.8 289.6,848.3 290.8,848.6 291.9,848.5 293.0,848.0 294.1,848.6 295.3,849.5 296.4,850.4 297.5,851.1 298.6,852.0 299.8,853.6 300.9,855.0 302.0,856.7 303.1,858.1 304.2,860.0 305.4,861.5 306.5,863.4 307.6,864.8 308.7,866.9 309.9,869.0 311.0,870.6 312.1,872.2 313.2,874.1 314.4,875.5 315.5,877.2 316.6,879.1 317.7,881.1 318.9,881.9 320.0,882.8 321.1,884.4 322.2,885.8 323.4,886.4 324.5,887.7 325.6,888.2 326.7,889.3 327.9,890.1 329.0,890.4 330.1,891.5 331.2,892.1 332.3,892.2 333.5,893.2 334.6,893.0 335.7,893.9 336.8,893.9 338.0,894.8 339.1,894.4 340.2,894.7 341.3,894.4 342.5,894.8 343.6,895.1 344.7,895.4 345.8,895.2 347.0,895.1 348.1,895.8 349.2,895.3 350.3,895.7 351.5,894.9 352.6,896.1 353.7,896.0 354.8,895.5 356.0,896.0 357.1,895.4 358.2,895.5" fill="none" stroke="#b8b8b8" stroke-width="2.0" stroke-linejoin="round"/>
<polyline points="105.3,873.1 106.4,873.1 107.5,873.1 108.7,873.1 109.8,872.7 110.9,873.0 112.0,873.0 113.2,872.8 114.3,873.4 115.4,873.0 116.5,872.9 117.7,872.9 118.8,872.9 119.9,873.4 121.0,873.0 122.2,873.5 123.3,872.8 124.4,873.3 125.5,873.3 126.7,873.5 127.8,872.8 128.9,873.2 130.0,873.2 131.2,872.7 132.3,872.8 133.4,873.1 134.5,872.6 135.6,872.7 136.8,873.2 137.9,873.5 139.0,872.9 140.1,873.3 141.3,873.0 142.4,872.9 143.5,872.9 144.6,872.9 145.8,873.3 146.9,873.3 148.0,873.3 149.1,873.5 150.3,873.0 151.4,873.0 152.5,872.8 153.6,873.5 154.8,872.9 155.9,873.2 157.0,872.7 158.1,872.4 159.3,872.5 160.4,872.5 161.5,872.6 162.6,872.0 163.7,871.8 164.9,871.4 166.0,870.9 167.1,870.9 168.2,870.3 169.4,870.4 170.5,869.6 171.6,869.3 172.7,868.6 173.9,868.1 175.0,867.6 176.1,866.9 177.2,866.5 178.4,865.9 179.5,865.4 180.6,864.7 181.7,864.5 182.9,864.2 184.0,864.2 185.1,863.9 186.2,862.8 187.4,862.0 188.5,860.8 189.6,859.9 190.7,858.7 191.8,856.9 193.0,855.8 194.1,854.2 195.2,852.2 196.3,850.4 197.5,848.7 198.6,846.3 199.7,843.7 200.8,841.7 202.0,839.8 203.1,836.5 204.2,834.6 205.3,831.5 206.5,828.5 207.6,825.4 208.7,823.0 209.8,819.8 211.0,816.7 212.1,813.5 213.2,810.5 214.3,806.7 215.5,804.0 216.6,800.5 217.7,797.7 218.8,794.3 219.9,791.2 221.1,788.2 222.2,784.9 223.3,782.0 224.4,779.3 225.6,777.0 226.7,775.2 227.8,773.2 228.9,771.4 230.1,769.8 231.2,769.3 232.3,768.5 233.4,768.2 234.6,768.8 235.7,769.9 236.8,770.9 237.9,773.3 239.1,776.3 240.2,780.0 241.3,783.7 242.4,787.9 243.6,792.9 244.7,797.8 245.8,802.2 246.9,808.0 248.0,812.7 249.2,817.8 250.3,823.1 251.4,828.2 252.5,832.5 253.7,837.6 254.8,842.2 255.9,846.4 257.0,850.5 258.2,854.7 259.3,858.6 260.4,861.8 261.5,864.8 262.7,868.1 263.8,870.7 264.9,873.1 266.0,875.0 267.2,876.9 268.3,878.3 269.4,879.7 270.5,879.9 271.7,880.4 272.8,879.8 273.9,879.2 275.0,878.4 276.1,876.7 277.3,874.8 278.4,872.3 279.5,870.0 280.6,866.6 281.8,863.8 282.9,861.2 284.0,858.4 285.1,855.7 286.3,853.7 287.4,852.3 288.5,850.6 289.6,850.3 290.8,849.1 291.9,849.5 293.0,849.5 294.1,849.1 295.3,850.0 296.4,850.2 297.5,851.2 298.6,852.7 299.8,853.8 300.9,854.8 302.0,856.0 303.1,857.7 304.2,858.9 305.4,860.8 306.5,862.3 307.6,864.0 308.7,866.1 309.9,867.1 311.0,868.7 312.1,870.8 313.2,872.0 314.4,874.0 315.5,875.2 316.6,877.0 317.7,878.3 318.9,880.0 320.0,880.9 321.1,882.1 322.2,883.7 323.4,884.3 324.5,885.6 325.6,886.4 326.7,887.0 327.9,888.1 329.0,888.5 330.1,889.1 331.2,889.3 332.3,890.6 333.5,890.9 334.6,891.4 335.7,890.8 336.8,891.9 338.0,891.8 339.1,892.3 340.2,892.6 341.3,893.1 342.5,892.6 343.6,893.1 344.7,892.9 345.8,892.9 347.0,893.0 348.1,893.4 349.2,893.7 350.3,893.9 351.5,893.7 352.6,893.3 353.7,893.5 354.8,893.5 356.0,893.4 357.1,893.3 358.2,893.4" fill="none" stroke="#e8b890" stroke-width="2.0" stroke-linejoin="round"/>
<polyline points="105.3,870.5 106.4,870.5 107.5,870.6 108.7,870.6 109.8,870.6 110.9,870.2 112.0,870.3 113.2,870.7 114.3,870.5 115.4,870.1 116.5,870.6 117.7,870.6 118.8,870.4 119.9,870.6 121.0,870.2 122.2,870.4 123.3,870.4 124.4,870.6 125.5,870.7 126.7,870.6 127.8,870.3 128.9,870.1 130.0,870.8 131.2,870.6 132.3,870.2 133.4,870.4 134.5,870.7 135.6,870.9 136.8,870.2 137.9,870.5 139.0,870.7 140.1,870.5 141.3,870.8 142.4,870.5 143.5,870.3 144.6,870.6 145.8,870.7 146.9,870.7 148.0,870.5 149.1,870.3 150.3,870.7 151.4,870.7 152.5,869.9 153.6,869.8 154.8,870.2 155.9,870.3 157.0,870.3 158.1,869.8 159.3,870.1 160.4,870.4 161.5,869.6 162.6,869.8 163.7,869.5 164.9,869.3 166.0,869.1 167.1,869.1 168.2,868.7 169.4,868.4 170.5,867.8 171.6,867.5 172.7,867.4 173.9,866.7 175.0,866.3 176.1,865.8 177.2,865.2 178.4,864.8 179.5,864.4 180.6,863.1 181.7,863.1 182.9,862.8 184.0,862.2 185.1,861.3 186.2,860.6 187.4,859.4 188.5,858.3 189.6,856.2 190.7,855.0 191.8,853.4 193.0,852.0 194.1,849.5 195.2,847.3 196.3,845.5 197.5,843.1 198.6,841.2 199.7,838.1 200.8,835.9 202.0,832.8 203.1,830.6 204.2,827.5 205.3,824.9 206.5,821.0 207.6,818.5 208.7,815.3 209.8,812.0 211.0,809.1 212.1,805.7 213.2,802.0 214.3,799.0 215.5,795.3 216.6,792.2 217.7,788.1 218.8,785.2 219.9,782.1 221.1,779.2 222.2,775.4 223.3,773.0 224.4,769.8 225.6,766.8 226.7,764.8 227.8,762.7 228.9,760.6 230.1,759.4 231.2,758.1 232.3,757.8 233.4,757.6 234.6,757.5 235.7,758.6 236.8,759.7 237.9,762.0 239.1,765.2 240.2,768.3 241.3,771.8 242.4,776.2 243.6,780.6 244.7,785.5 245.8,790.5 246.9,795.8 248.0,801.4 249.2,806.8 250.3,811.9 251.4,817.4 252.5,822.4 253.7,827.7 254.8,832.3 255.9,837.1 257.0,841.8 258.2,846.2 259.3,850.2 260.4,853.8 261.5,857.7 262.7,861.3 263.8,864.5 264.9,867.2 266.0,869.5 267.2,871.8 268.3,873.7 269.4,875.3 270.5,876.3 271.7,877.4 272.8,877.8 273.9,877.5 275.0,876.3 276.1,875.4 277.3,874.3 278.4,872.2 279.5,869.2 280.6,866.8 281.8,864.3 282.9,861.3 284.0,858.9 285.1,856.3 286.3,854.8 287.4,852.5 288.5,851.3 289.6,850.6 290.8,850.6 291.9,849.9 293.0,849.7 294.1,849.3 295.3,850.6 296.4,851.0 297.5,851.0 298.6,852.8 299.8,853.7 300.9,854.5 302.0,855.8 303.1,857.4 304.2,858.7 305.4,860.1 306.5,861.5 307.6,863.3 308.7,864.4 309.9,866.3 311.0,867.5 312.1,869.2 313.2,870.7 314.4,872.6 315.5,873.4 316.6,875.2 317.7,876.5 318.9,877.7 320.0,879.2 321.1,879.6 322.2,881.3 323.4,882.2 324.5,883.2 325.6,884.1 326.7,885.0 327.9,885.4 329.0,885.9 330.1,886.9 331.2,887.5 332.3,888.0 333.5,888.2 334.6,888.9 335.7,888.7 336.8,889.3 338.0,890.1 339.1,890.0 340.2,890.1 341.3,890.2 342.5,890.6 343.6,890.7 344.7,891.0 345.8,891.1 347.0,891.0 348.1,891.7 349.2,891.3 350.3,891.6 351.5,891.7 352.6,891.6 353.7,891.8 354.8,891.0 356.0,891.6 357.1,891.3 358.2,891.9" fill="none" stroke="#b0c8e8" stroke-width="2.0" stroke-linejoin="round"/>
<polyline points="105.3,867.9 106.4,867.6 107.5,867.4 108.7,867.8 109.8,867.7 110.9,867.6 112.0,867.6 113.2,867.8 114.3,867.6 115.4,867.5 116.5,867.6 117.7,867.7 118.8,867.6 119.9,867.9 121.0,867.6 122.2,867.6 123.3,867.5 124.4,867.3 125.5,867.7 126.7,867.8 127.8,867.8 128.9,868.0 130.0,867.7 131.2,867.8 132.3,867.7 133.4,867.4 134.5,867.5 135.6,867.4 136.8,868.0 137.9,867.3 139.0,867.8 140.1,867.5 141.3,867.8 142.4,867.7 143.5,867.6 144.6,867.2 145.8,867.2 146.9,867.7 148.0,867.8 149.1,867.6 150.3,867.5 151.4,867.6 152.5,868.2 153.6,866.8 154.8,867.7 155.9,867.5 157.0,867.5 158.1,867.3 159.3,867.4 160.4,867.1 161.5,866.8 162.6,866.7 163.7,866.6 164.9,865.9 166.0,866.4 167.1,865.9 168.2,865.8 169.4,865.4 170.5,865.0 171.6,864.4 172.7,864.5 173.9,863.7 175.0,863.4 176.1,862.9 177.2,861.9 178.4,861.2 179.5,860.3 180.6,860.2 181.7,859.7 182.9,858.3 184.0,857.8 185.1,857.4 186.2,855.8 187.4,853.9 188.5,853.1 189.6,851.4 190.7,849.5 191.8,847.4 193.0,845.6 194.1,842.9 195.2,841.1 196.3,838.6 197.5,836.2 198.6,833.8 199.7,831.3 200.8,828.2 202.0,825.8 203.1,822.9 204.2,819.9 205.3,817.5 206.5,813.9 207.6,810.7 208.7,807.8 209.8,804.4 211.0,800.9 212.1,798.0 213.2,794.3 214.3,790.6 215.5,787.7 216.6,784.0 217.7,780.9 218.8,777.6 219.9,773.9 221.1,770.3 222.2,767.6 223.3,764.3 224.4,761.7 225.6,759.0 226.7,755.9 227.8,753.7 228.9,752.0 230.1,750.5 231.2,749.6 232.3,748.1 233.4,748.1 234.6,748.5 235.7,748.9 236.8,750.6 237.9,752.8 239.1,755.0 240.2,758.6 241.3,762.6 242.4,766.6 243.6,770.7 244.7,775.8 245.8,780.9 246.9,786.4 248.0,791.3 249.2,796.8 250.3,802.3 251.4,807.7 252.5,812.8 253.7,817.7 254.8,823.1 255.9,828.2 257.0,833.2 258.2,837.0 259.3,841.9 260.4,846.1 261.5,849.9 262.7,853.9 263.8,857.4 264.9,860.8 266.0,863.4 267.2,866.1 268.3,868.5 269.4,870.3 270.5,872.0 271.7,873.3 272.8,873.8 273.9,874.0 275.0,874.2 276.1,873.6 277.3,872.2 278.4,870.8 279.5,869.0 280.6,866.4 281.8,864.5 282.9,862.3 284.0,859.3 285.1,857.4 286.3,855.7 287.4,853.7 288.5,852.2 289.6,851.3 290.8,850.8 291.9,850.5 293.0,850.1 294.1,850.8 295.3,850.7 296.4,851.3 297.5,852.1 298.6,852.5 299.8,853.5 300.9,854.7 302.0,855.3 303.1,856.8 304.2,858.1 305.4,859.4 306.5,860.7 307.6,862.2 308.7,863.4 309.9,865.0 311.0,866.8 312.1,867.9 313.2,869.2 314.4,870.7 315.5,872.0 316.6,873.1 317.7,874.5 318.9,876.0 320.0,876.8 321.1,878.0 322.2,878.6 323.4,880.1 324.5,880.9 325.6,881.7 326.7,882.6 327.9,883.3 329.0,883.7 330.1,884.1 331.2,885.1 332.3,885.9 333.5,886.4 334.6,886.6 335.7,887.3 336.8,887.2 338.0,888.0 339.1,887.7 340.2,888.3 341.3,888.3 342.5,888.4 343.6,888.4 344.7,888.8 345.8,889.2 347.0,889.0 348.1,889.3 349.2,889.8 350.3,889.6 351.5,889.5 352.6,889.8 353.7,889.1 354.8,889.7 356.0,889.6 357.1,889.7 358.2,889.3" fill="none" stroke="#e89aa8" stroke-width="2.0" stroke-linejoin="round"/>
<polyline points="105.3,866.5 106.4,866.0 107.5,866.8 108.7,866.8 109.8,866.9 110.9,866.7 112.0,866.9 113.2,866.5 114.3,866.6 115.4,866.6 116.5,866.8 117.7,866.4 118.8,866.9 119.9,866.9 121.0,866.3 122.2,866.8 123.3,866.9 124.4,866.8 125.5,866.7 126.7,866.7 127.8,866.8 128.9,867.0 130.0,866.3 131.2,866.5 132.3,866.6 133.4,867.0 134.5,867.0 135.6,866.6 136.8,866.5 137.9,866.8 139.0,866.3 140.1,867.0 141.3,866.8 142.4,866.4 143.5,866.3 144.6,866.7 145.8,866.8 146.9,866.4 148.0,866.6 149.1,866.9 150.3,866.6 151.4,866.4 152.5,866.5 153.6,866.6 154.8,866.3 155.9,866.4 157.0,866.3 158.1,866.2 159.3,866.0 160.4,866.7 161.5,865.3 162.6,865.9 163.7,865.4 164.9,865.4 166.0,865.0 167.1,864.8 168.2,864.7 169.4,863.9 170.5,863.9 171.6,863.5 172.7,862.8 173.9,862.5 175.0,861.9 176.1,861.4 177.2,860.7 178.4,859.6 179.5,858.5 180.6,858.0 181.7,857.2 182.9,856.4 184.0,855.1 185.1,854.0 186.2,852.5 187.4,851.1 188.5,849.4 189.6,846.8 190.7,845.6 191.8,843.1 193.0,840.8 194.1,838.4 195.2,836.5 196.3,833.6 197.5,831.1 198.6,828.8 199.7,825.8 200.8,823.3 202.0,820.1 203.1,817.2 204.2,814.6 205.3,811.5 206.5,808.1 207.6,805.1 208.7,801.9 209.8,798.3 211.0,794.9 212.1,791.8 213.2,788.4 214.3,784.9 215.5,782.2 216.6,778.4 217.7,775.1 218.8,771.0 219.9,767.9 221.1,764.8 222.2,761.5 223.3,758.7 224.4,755.6 225.6,752.8 226.7,750.4 227.8,748.1 228.9,746.2 230.1,744.5 231.2,742.7 232.3,742.0 233.4,742.2 234.6,742.1 235.7,742.8 236.8,743.7 237.9,745.3 239.1,747.9 240.2,751.1 241.3,754.7 242.4,758.3 243.6,762.9 244.7,767.6 245.8,772.5 246.9,778.0 248.0,782.9 249.2,788.4 250.3,793.9 251.4,799.3 252.5,804.5 253.7,810.0 254.8,814.9 255.9,819.9 257.0,824.3 258.2,829.5 259.3,834.4 260.4,838.5 261.5,842.0 262.7,846.5 263.8,850.1 264.9,853.9 266.0,857.6 267.2,860.4 268.3,862.9 269.4,865.4 270.5,867.2 271.7,869.3 272.8,870.3 273.9,871.0 275.0,871.3 276.1,871.0 277.3,870.6 278.4,869.6 279.5,868.1 280.6,866.2 281.8,864.0 282.9,861.8 284.0,860.1 285.1,858.2 286.3,856.1 287.4,854.3 288.5,852.6 289.6,851.9 290.8,851.5 291.9,851.1 293.0,850.9 294.1,851.0 295.3,851.6 296.4,851.4 297.5,851.9 298.6,852.3 299.8,853.8 300.9,854.3 302.0,855.8 303.1,856.2 304.2,857.4 305.4,859.0 306.5,860.1 307.6,861.8 308.7,862.8 309.9,863.9 311.0,864.5 312.1,866.7 313.2,867.9 314.4,869.4 315.5,870.4 316.6,871.4 317.7,872.7 318.9,873.8 320.0,875.0 321.1,875.9 322.2,876.7 323.4,878.0 324.5,878.4 325.6,879.6 326.7,880.8 327.9,881.2 329.0,881.6 330.1,882.2 331.2,882.8 332.3,883.5 333.5,883.9 334.6,884.3 335.7,884.3 336.8,885.2 338.0,885.7 339.1,885.4 340.2,885.7 341.3,886.6 342.5,886.0 343.6,886.5 344.7,887.2 345.8,886.8 347.0,886.8 348.1,886.9 349.2,886.9 350.3,887.2 351.5,887.5 352.6,887.5 353.7,887.5 354.8,887.3 356.0,887.2 357.1,887.1 358.2,887.6" fill="none" stroke="#661414" stroke-width="2.0" stroke-linejoin="round"/>
<polyline points="105.3,858.5 106.4,858.8 107.5,859.2 108.7,858.9 109.8,858.8 110.9,859.1 112.0,859.0 113.2,858.7 114.3,858.6 115.4,859.5 116.5,859.4 117.7,858.8 118.8,858.7 119.9,858.6 121.0,859.1 122.2,858.7 123.3,858.5 124.4,858.6 125.5,859.1 126.7,859.1 127.8,859.0 128.9,858.7 130.0,858.4 131.2,858.5 132.3,858.6 133.4,858.3 134.5,859.0 135.6,859.0 136.8,859.0 137.9,859.1 139.0,858.7 140.1,858.9 141.3,859.0 142.4,858.3 143.5,858.4 144.6,858.7 145.8,858.7 146.9,859.2 148.0,858.8 149.1,858.8 150.3,859.2 151.4,858.7 152.5,859.0 153.6,859.2 154.8,858.8 155.9,858.4 157.0,858.4 158.1,858.3 159.3,858.5 160.4,858.6 161.5,857.9 162.6,858.1 163.7,858.0 164.9,857.8 166.0,857.3 167.1,856.9 168.2,856.4 169.4,856.0 170.5,855.9 171.6,855.1 172.7,855.1 173.9,854.3 175.0,853.9 176.1,853.2 177.2,852.2 178.4,852.0 179.5,850.0 180.6,849.5 181.7,848.4 182.9,847.3 184.0,846.0 185.1,845.0 186.2,843.1 187.4,841.6 188.5,839.8 189.6,837.6 190.7,836.1 191.8,834.0 193.0,831.8 194.1,829.4 195.2,826.9 196.3,824.5 197.5,821.9 198.6,819.6 199.7,817.2 200.8,814.3 202.0,811.1 203.1,808.4 204.2,805.8 205.3,803.2 206.5,800.0 207.6,796.8 208.7,793.9 209.8,790.7 211.0,787.4 212.1,784.1 213.2,781.5 214.3,777.7 215.5,775.2 216.6,771.4 217.7,768.7 218.8,765.4 219.9,762.5 221.1,759.6 222.2,756.5 223.3,753.3 224.4,750.8 225.6,748.0 226.7,745.5 227.8,743.4 228.9,741.1 230.1,740.4 231.2,739.0 232.3,737.8 233.4,738.1 234.6,737.3 235.7,737.7 236.8,739.2 237.9,740.6 239.1,743.0 240.2,745.8 241.3,749.0 242.4,752.8 243.6,756.6 244.7,761.4 245.8,766.8 246.9,770.7 248.0,776.0 249.2,781.3 250.3,786.1 251.4,792.0 252.5,797.3 253.7,802.2 254.8,807.4 255.9,812.6 257.0,817.4 258.2,822.1 259.3,826.7 260.4,831.4 261.5,835.2 262.7,839.5 263.8,844.0 264.9,847.4 266.0,851.0 267.2,854.3 268.3,857.7 269.4,860.0 270.5,862.3 271.7,864.4 272.8,866.3 273.9,867.3 275.0,867.9 276.1,868.4 277.3,868.4 278.4,867.7 279.5,866.8 280.6,865.3 281.8,863.9 282.9,862.0 284.0,860.2 285.1,858.4 286.3,857.0 287.4,855.1 288.5,853.4 289.6,853.2 290.8,852.3 291.9,851.9 293.0,851.6 294.1,851.1 295.3,851.9 296.4,851.7 297.5,852.8 298.6,853.4 299.8,853.8 300.9,854.2 302.0,854.7 303.1,856.3 304.2,857.4 305.4,857.8 306.5,859.0 307.6,860.6 308.7,861.7 309.9,863.0 311.0,864.2 312.1,865.3 313.2,866.8 314.4,867.6 315.5,868.5 316.6,870.0 317.7,871.1 318.9,872.0 320.0,873.0 321.1,874.2 322.2,874.9 323.4,875.8 324.5,877.0 325.6,877.8 326.7,878.0 327.9,879.5 329.0,880.0 330.1,880.5 331.2,880.9 332.3,882.0 333.5,881.4 334.6,882.2 335.7,882.4 336.8,883.0 338.0,883.3 339.1,883.9 340.2,884.3 341.3,883.8 342.5,883.9 343.6,884.6 344.7,884.6 345.8,884.5 347.0,884.9 348.1,885.3 349.2,885.4 350.3,885.0 351.5,885.3 352.6,885.2 353.7,885.4 354.8,885.4 356.0,885.6 357.1,885.6 358.2,885.6" fill="none" stroke="#111111" stroke-width="2.0" stroke-linejoin="round"/>
<polyline points="105.3,857.6 106.4,857.8 107.5,857.9 108.7,857.9 109.8,857.5 110.9,857.5 112.0,857.8 113.2,857.3 114.3,857.5 115.4,857.8 116.5,857.8 117.7,857.6 118.8,857.6 119.9,857.7 121.0,857.7 122.2,857.6 123.3,858.1 124.4,857.6 125.5,857.8 126.7,858.4 127.8,857.7 128.9,857.8 130.0,857.6 131.2,857.6 132.3,857.7 133.4,857.8 134.5,857.6 135.6,858.0 136.8,857.6 137.9,858.0 139.0,857.6 140.1,857.8 141.3,857.6 142.4,857.5 143.5,857.5 144.6,857.2 145.8,857.5 146.9,857.8 148.0,857.6 149.1,857.8 150.3,857.9 151.4,857.6 152.5,857.3 153.6,857.6 154.8,857.6 155.9,857.8 157.0,857.5 158.1,857.3 159.3,856.9 160.4,857.1 161.5,856.7 162.6,856.9 163.7,856.9 164.9,856.7 166.0,855.8 167.1,855.8 168.2,855.3 169.4,855.2 170.5,854.8 171.6,854.3 172.7,853.8 173.9,852.7 175.0,852.5 176.1,851.8 177.2,850.6 178.4,849.1 179.5,848.1 180.6,846.6 181.7,845.6 182.9,844.4 184.0,842.6 185.1,841.3 186.2,839.3 187.4,838.3 188.5,835.6 189.6,833.8 190.7,831.4 191.8,829.4 193.0,826.8 194.1,824.9 195.2,822.2 196.3,820.0 197.5,817.3 198.6,814.3 199.7,812.3 200.8,809.9 202.0,806.5 203.1,804.2 204.2,801.1 205.3,798.4 206.5,795.0 207.6,791.6 208.7,789.1 209.8,786.0 211.0,782.6 212.1,779.7 213.2,776.2 214.3,773.5 215.5,770.1 216.6,767.1 217.7,764.0 218.8,761.2 219.9,757.8 221.1,754.5 222.2,752.3 223.3,749.0 224.4,746.5 225.6,743.9 226.7,741.5 227.8,738.8 228.9,737.3 230.1,735.7 231.2,734.1 232.3,733.4 233.4,732.4 234.6,732.4 235.7,733.0 236.8,734.0 237.9,735.2 239.1,737.3 240.2,739.7 241.3,743.5 242.4,746.4 243.6,750.4 244.7,754.9 245.8,759.7 246.9,764.1 248.0,769.6 249.2,774.0 250.3,779.4 251.4,784.5 252.5,790.1 253.7,794.9 254.8,800.1 255.9,804.6 257.0,809.7 258.2,814.5 259.3,819.4 260.4,824.2 261.5,828.1 262.7,832.3 263.8,836.1 264.9,840.9 266.0,844.4 267.2,848.1 268.3,851.5 269.4,854.0 270.5,857.1 271.7,858.8 272.8,861.8 273.9,863.3 275.0,864.6 276.1,865.2 277.3,865.7 278.4,865.8 279.5,864.8 280.6,864.3 281.8,862.8 282.9,861.4 284.0,859.8 285.1,858.2 286.3,856.4 287.4,855.0 288.5,854.1 289.6,853.1 290.8,852.6 291.9,851.8 293.0,851.9 294.1,852.0 295.3,852.0 296.4,851.7 297.5,852.8 298.6,853.3 299.8,853.7 300.9,854.4 302.0,855.2 303.1,855.8 304.2,857.3 305.4,858.0 306.5,858.8 307.6,859.8 308.7,861.0 309.9,862.0 311.0,863.4 312.1,864.2 313.2,865.3 314.4,866.5 315.5,867.2 316.6,869.0 317.7,869.4 318.9,870.6 320.0,871.3 321.1,872.7 322.2,873.3 323.4,874.2 324.5,874.5 325.6,875.5 326.7,876.6 327.9,877.0 329.0,877.4 330.1,878.1 331.2,879.0 332.3,879.4 333.5,879.7 334.6,880.1 335.7,880.7 336.8,880.9 338.0,880.9 339.1,881.7 340.2,881.5 341.3,882.0 342.5,881.6 343.6,882.0 344.7,882.1 345.8,882.5 347.0,882.9 348.1,883.0 349.2,883.1 350.3,883.2 351.5,883.3 352.6,882.8 353.7,883.4 354.8,882.9 356.0,883.2 357.1,883.5 358.2,883.2" fill="none" stroke="#cc2a2a" stroke-width="2.0" stroke-linejoin="round"/>
<polyline points="105.3,849.3 106.4,849.6 107.5,849.2 108.7,849.5 109.8,848.9 110.9,848.9 112.0,849.4 113.2,848.9 114.3,849.0 115.4,849.1 116.5,848.5 117.7,849.0 118.8,848.8 119.9,848.7 121.0,849.0 122.2,849.0 123.3,848.9 124.4,849.2 125.5,849.2 126.7,849.1 127.8,849.3 128.9,848.8 130.0,848.9 131.2,849.2 132.3,848.8 133.4,849.2 134.5,849.0 135.6,849.2 136.8,849.2 137.9,848.8 139.0,848.9 140.1,848.9 141.3,849.1 142.4,849.4 143.5,848.7 144.6,849.2 145.8,849.2 146.9,848.8 148.0,848.9 149.1,849.3 150.3,849.2 151.4,848.8 152.5,848.7 153.6,848.9 154.8,848.5 155.9,849.2 157.0,848.8 158.1,848.3 159.3,848.5 160.4,848.8 161.5,848.2 162.6,848.1 163.7,847.7 164.9,847.2 166.0,847.2 167.1,847.0 168.2,846.5 169.4,846.1 170.5,845.7 171.6,844.9 172.7,844.9 173.9,843.8 175.0,842.5 176.1,842.0 177.2,840.4 178.4,839.7 179.5,838.1 180.6,836.9 181.7,835.7 182.9,834.2 184.0,833.0 185.1,831.1 186.2,829.0 187.4,827.3 188.5,825.7 189.6,823.7 190.7,821.7 191.8,819.7 193.0,817.3 194.1,815.0 195.2,813.1 196.3,810.4 197.5,808.1 198.6,805.3 199.7,803.2 200.8,800.7 202.0,798.0 203.1,795.2 204.2,792.8 205.3,790.4 206.5,787.0 207.6,784.7 208.7,781.7 209.8,778.8 211.0,776.2 212.1,773.0 213.2,770.3 214.3,767.3 215.5,764.4 216.6,761.6 217.7,759.0 218.8,756.3 219.9,753.6 221.1,750.5 222.2,748.0 223.3,745.1 224.4,742.6 225.6,740.1 226.7,738.1 227.8,735.6 228.9,733.9 230.1,732.5 231.2,731.2 232.3,730.5 233.4,729.8 234.6,729.8 235.7,729.9 236.8,730.9 237.9,732.3 239.1,734.0 240.2,736.9 241.3,739.8 242.4,743.1 243.6,746.9 244.7,750.9 245.8,755.1 246.9,759.5 248.0,764.5 249.2,768.8 250.3,773.6 251.4,779.1 252.5,784.0 253.7,788.7 254.8,794.1 255.9,799.0 257.0,803.2 258.2,808.1 259.3,812.8 260.4,816.8 261.5,821.4 262.7,826.5 263.8,830.6 264.9,833.9 266.0,837.6 267.2,842.2 268.3,845.4 269.4,848.9 270.5,851.4 271.7,854.5 272.8,856.7 273.9,858.7 275.0,860.4 276.1,861.9 277.3,862.1 278.4,863.3 279.5,863.0 280.6,862.5 281.8,861.9 282.9,860.9 284.0,859.7 285.1,858.1 286.3,856.6 287.4,855.8 288.5,854.2 289.6,853.7 290.8,852.6 291.9,852.4 293.0,852.2 294.1,852.2 295.3,852.4 296.4,852.7 297.5,852.6 298.6,853.3 299.8,853.8 300.9,855.0 302.0,854.6 303.1,856.1 304.2,856.7 305.4,857.4 306.5,858.1 307.6,859.1 308.7,860.4 309.9,860.7 311.0,862.4 312.1,864.0 313.2,864.7 314.4,865.5 315.5,866.3 316.6,867.0 317.7,868.4 318.9,869.0 320.0,869.4 321.1,870.9 322.2,872.3 323.4,872.1 324.5,873.1 325.6,873.9 326.7,874.2 327.9,875.0 329.0,875.6 330.1,876.4 331.2,876.7 332.3,877.0 333.5,877.5 334.6,878.2 335.7,878.4 336.8,878.9 338.0,879.3 339.1,879.2 340.2,878.9 341.3,879.5 342.5,879.8 343.6,880.3 344.7,880.1 345.8,880.3 347.0,880.2 348.1,880.8 349.2,881.2 350.3,881.1 351.5,881.2 352.6,881.1 353.7,881.4 354.8,881.7 356.0,881.5 357.1,881.5 358.2,881.2" fill="none" stroke="#7ee05a" stroke-width="2.0" stroke-linejoin="round"/>
<polyline points="105.3,842.5 106.4,842.7 107.5,842.5 108.7,842.4 109.8,842.8 110.9,842.4 112.0,842.1 113.2,842.2 114.3,842.6 115.4,842.8 116.5,842.6 117.7,842.6 118.8,842.7 119.9,842.7 121.0,842.5 122.2,842.9 123.3,842.7 124.4,842.9 125.5,842.4 126.7,842.7 127.8,842.8 128.9,843.1 130.0,842.6 131.2,843.1 132.3,842.8 133.4,842.5 134.5,842.2 135.6,843.0 136.8,842.7 137.9,842.7 139.0,842.9 140.1,842.7 141.3,842.3 142.4,842.6 143.5,842.6 144.6,842.1 145.8,842.9 146.9,842.4 148.0,842.7 149.1,842.2 150.3,842.6 151.4,843.1 152.5,842.7 153.6,842.4 154.8,842.2 155.9,842.1 157.0,842.1 158.1,842.5 159.3,841.9 160.4,842.4 161.5,841.8 162.6,842.0 163.7,841.4 164.9,841.7 166.0,841.0 167.1,840.7 168.2,840.7 169.4,840.3 170.5,839.4 171.6,839.0 172.7,837.9 173.9,837.1 175.0,835.7 176.1,835.0 177.2,833.6 178.4,831.8 179.5,830.8 180.6,829.8 181.7,827.7 182.9,826.4 184.0,824.6 185.1,823.3 186.2,821.2 187.4,819.6 188.5,817.5 189.6,815.8 190.7,813.7 191.8,811.4 193.0,809.0 194.1,807.4 195.2,805.1 196.3,802.5 197.5,800.4 198.6,798.4 199.7,796.0 200.8,793.4 202.0,790.6 203.1,788.6 204.2,786.1 205.3,783.1 206.5,780.3 207.6,778.4 208.7,776.0 209.8,772.5 211.0,770.4 212.1,767.3 213.2,764.9 214.3,762.3 215.5,759.7 216.6,756.9 217.7,754.2 218.8,751.4 219.9,749.1 221.1,746.4 222.2,744.4 223.3,741.5 224.4,739.0 225.6,737.1 226.7,735.0 227.8,733.1 228.9,731.3 230.1,729.3 231.2,728.4 232.3,728.0 233.4,726.5 234.6,727.0 235.7,727.5 236.8,727.9 237.9,729.6 239.1,730.7 240.2,732.8 241.3,735.9 242.4,738.9 243.6,742.4 244.7,746.1 245.8,750.7 246.9,754.7 248.0,759.4 249.2,763.7 250.3,768.3 251.4,773.9 252.5,778.3 253.7,783.0 254.8,787.8 255.9,792.2 257.0,796.7 258.2,802.0 259.3,806.4 260.4,810.8 261.5,815.4 262.7,819.7 263.8,823.9 264.9,827.7 266.0,831.9 267.2,835.5 268.3,839.1 269.4,842.9 270.5,846.3 271.7,848.5 272.8,852.0 273.9,853.9 275.0,855.7 276.1,857.8 277.3,859.0 278.4,860.0 279.5,860.3 280.6,860.5 281.8,860.2 282.9,859.4 284.0,859.1 285.1,857.7 286.3,857.3 287.4,856.0 288.5,854.9 289.6,854.5 290.8,852.5 291.9,853.1 293.0,852.6 294.1,852.9 295.3,852.1 296.4,852.9 297.5,853.1 298.6,853.7 299.8,854.1 300.9,854.3 302.0,854.8 303.1,855.2 304.2,856.7 305.4,857.6 306.5,858.2 307.6,858.8 308.7,859.7 309.9,860.6 311.0,861.4 312.1,862.1 313.2,863.0 314.4,864.1 315.5,865.0 316.6,866.4 317.7,866.8 318.9,867.7 320.0,868.7 321.1,868.6 322.2,869.7 323.4,870.3 324.5,871.2 325.6,871.9 326.7,872.7 327.9,873.6 329.0,873.6 330.1,874.0 331.2,875.0 332.3,874.8 333.5,875.4 334.6,875.6 335.7,876.4 336.8,876.8 338.0,877.5 339.1,877.7 340.2,877.4 341.3,877.5 342.5,878.1 343.6,878.3 344.7,878.4 345.8,878.3 347.0,878.4 348.1,879.2 349.2,878.6 350.3,878.8 351.5,878.8 352.6,879.1 353.7,878.9 354.8,878.7 356.0,879.0 357.1,879.3 358.2,879.2" fill="none" stroke="#2b2bd6" stroke-width="2.0" stroke-linejoin="round"/>
<polyline points="105.3,842.4 106.4,842.0 107.5,842.6 108.7,842.2 109.8,842.0 110.9,842.2 112.0,842.2 113.2,842.3 114.3,842.4 115.4,842.5 116.5,842.6 117.7,842.8 118.8,842.2 119.9,842.2 121.0,842.2 122.2,842.3 123.3,842.3 124.4,841.8 125.5,842.8 126.7,842.4 127.8,842.3 128.9,842.6 130.0,842.7 131.2,842.5 132.3,842.3 133.4,842.3 134.5,842.6 135.6,842.5 136.8,842.0 137.9,842.4 139.0,842.5 140.1,842.5 141.3,842.6 142.4,842.0 143.5,842.4 144.6,842.4 145.8,842.3 146.9,842.7 148.0,842.1 149.1,842.2 150.3,842.4 151.4,842.7 152.5,842.1 153.6,842.3 154.8,841.8 155.9,842.0 157.0,842.2 158.1,841.8 159.3,842.1 160.4,841.3 161.5,841.7 162.6,840.9 163.7,840.8 164.9,840.4 166.0,840.5 167.1,840.2 168.2,840.1 169.4,839.2 170.5,838.4 171.6,837.7 172.7,837.2 173.9,835.1 175.0,834.4 176.1,833.0 177.2,831.6 178.4,830.0 179.5,827.6 180.6,826.4 181.7,824.9 182.9,823.0 184.0,821.4 185.1,819.9 186.2,817.5 187.4,815.2 188.5,813.4 189.6,811.3 190.7,808.9 191.8,806.9 193.0,804.4 194.1,802.5 195.2,800.2 196.3,797.6 197.5,795.2 198.6,793.0 199.7,790.2 200.8,788.3 202.0,785.5 203.1,783.7 204.2,780.5 205.3,777.8 206.5,774.9 207.6,772.6 208.7,770.0 209.8,766.8 211.0,764.5 212.1,761.8 213.2,759.4 214.3,756.5 215.5,753.7 216.6,751.3 217.7,748.6 218.8,744.9 219.9,743.4 221.1,740.2 222.2,738.1 223.3,735.5 224.4,732.9 225.6,730.7 226.7,728.8 227.8,725.8 228.9,724.9 230.1,722.9 231.2,721.3 232.3,720.4 233.4,719.4 234.6,719.4 235.7,719.4 236.8,720.3 237.9,721.4 239.1,722.8 240.2,725.0 241.3,727.7 242.4,731.0 243.6,734.6 244.7,738.4 245.8,742.0 246.9,746.2 248.0,750.9 249.2,755.1 250.3,760.5 251.4,764.4 252.5,769.1 253.7,774.1 254.8,778.8 255.9,783.5 257.0,788.9 258.2,793.2 259.3,797.6 260.4,802.7 261.5,806.7 262.7,811.2 263.8,815.0 264.9,819.9 266.0,824.1 267.2,828.1 268.3,831.9 269.4,835.1 270.5,839.0 271.7,842.2 272.8,846.1 273.9,848.1 275.0,850.8 276.1,853.1 277.3,854.8 278.4,856.6 279.5,857.1 280.6,857.6 281.8,858.4 282.9,858.0 284.0,857.5 285.1,857.1 286.3,855.6 287.4,855.8 288.5,855.3 289.6,854.3 290.8,853.9 291.9,853.4 293.0,853.1 294.1,853.5 295.3,853.2 296.4,852.9 297.5,853.8 298.6,853.9 299.8,853.9 300.9,854.9 302.0,855.3 303.1,855.9 304.2,856.4 305.4,856.6 306.5,857.9 307.6,858.2 308.7,859.3 309.9,860.1 311.0,861.0 312.1,861.0 313.2,862.5 314.4,863.3 315.5,864.1 316.6,864.6 317.7,865.4 318.9,866.2 320.0,867.0 321.1,867.4 322.2,868.4 323.4,869.2 324.5,869.9 325.6,869.7 326.7,870.9 327.9,871.3 329.0,872.0 330.1,872.2 331.2,872.5 332.3,873.2 333.5,873.9 334.6,874.0 335.7,874.2 336.8,874.9 338.0,875.1 339.1,875.4 340.2,875.3 341.3,875.3 342.5,875.8 343.6,876.4 344.7,876.3 345.8,876.8 347.0,876.5 348.1,876.7 349.2,876.0 350.3,877.0 351.5,877.3 352.6,876.6 353.7,876.8 354.8,877.0 356.0,877.1 357.1,877.4 358.2,877.1" fill="none" stroke="#90eef8" stroke-width="2.0" stroke-linejoin="round"/>
<rect x="532.1" y="924.0" width="4.4" height="4.4" fill="#000"/>
<rect x="534.6" y="916.3" width="4.4" height="4.4" fill="#000"/>
<rect x="536.8" y="908.4" width="4.4" height="4.4" fill="#000"/>
<rect x="538.9" y="902.5" width="4.4" height="4.4" fill="#000"/>
<rect x="541.0" y="892.0" width="4.4" height="4.4" fill="#000"/>
<rect x="543.1" y="884.8" width="4.4" height="4.4" fill="#000"/>
<rect x="546.4" y="879.2" width="4.4" height="4.4" fill="#000"/>
<rect x="550.1" y="867.4" width="4.4" height="4.4" fill="#000"/>
<rect x="553.5" y="862.4" width="4.4" height="4.4" fill="#000"/>
<rect x="557.9" y="851.4" width="4.4" height="4.4" fill="#000"/>
<rect x="562.4" y="844.3" width="4.4" height="4.4" fill="#000"/>
<rect x="567.5" y="839.3" width="4.4" height="4.4" fill="#000"/>
<rect x="572.6" y="828.0" width="4.4" height="4.4" fill="#000"/>
<rect x="579.6" y="819.1" width="4.4" height="4.4" fill="#000"/>
<rect x="583.8" y="809.0" width="4.4" height="4.4" fill="#000"/>
<rect x="591.9" y="803.9" width="4.4" height="4.4" fill="#000"/>
<rect x="600.2" y="800.8" width="4.4" height="4.4" fill="#000"/>
<rect x="601.4" y="794.3" width="4.4" height="4.4" fill="#000"/>
<rect x="611.0" y="789.5" width="4.4" height="4.4" fill="#000"/>
<rect x="624.8" y="779.9" width="4.4" height="4.4" fill="#000"/>
<rect x="639.2" y="767.9" width="4.4" height="4.4" fill="#000"/>
<rect x="652.7" y="759.9" width="4.4" height="4.4" fill="#000"/>
<rect x="667.6" y="756.3" width="4.4" height="4.4" fill="#000"/>
<rect x="686.1" y="750.3" width="4.4" height="4.4" fill="#000"/>
<rect x="705.6" y="744.3" width="4.4" height="4.4" fill="#000"/>
<rect x="728.2" y="741.9" width="4.4" height="4.4" fill="#000"/>
<rect x="753.8" y="735.1" width="4.4" height="4.4" fill="#000"/>
<rect x="784.3" y="726.7" width="4.4" height="4.4" fill="#000"/>
<polyline points="534.8,919.5 545.0,893.0 555.0,868.0 565.0,847.0 575.6,823.5" fill="none" stroke="#c42a2a" stroke-width="2.1" stroke-linejoin="round"/>
<polyline points="582.0,817.4 602.0,803.0 627.0,782.1 641.4,770.1" fill="none" stroke="#c42a2a" stroke-width="2.1" stroke-linejoin="round"/>
<polyline points="654.9,762.1 786.5,728.9" fill="none" stroke="#c42a2a" stroke-width="2.1" stroke-linejoin="round"/>
<rect x="77" y="3" width="310" height="252" fill="none" stroke="#000" stroke-width="1.6"/>
<line x1="77.20" y1="255" x2="77.20" y2="260" stroke="#000" stroke-width="1.6"/>
<text x="77.20" y="272.2" text-anchor="middle" class="tk">-0.4</text>
<line x1="146.05" y1="255" x2="146.05" y2="260" stroke="#000" stroke-width="1.6"/>
<text x="146.05" y="272.2" text-anchor="middle" class="tk">-0.2</text>
<line x1="214.90" y1="255" x2="214.90" y2="260" stroke="#000" stroke-width="1.6"/>
<text x="214.90" y="272.2" text-anchor="middle" class="tk">0.0</text>
<line x1="283.75" y1="255" x2="283.75" y2="260" stroke="#000" stroke-width="1.6"/>
<text x="283.75" y="272.2" text-anchor="middle" class="tk">0.2</text>
<line x1="352.60" y1="255" x2="352.60" y2="260" stroke="#000" stroke-width="1.6"/>
<text x="352.60" y="272.2" text-anchor="middle" class="tk">0.4</text>
<line x1="111.63" y1="255" x2="111.63" y2="258" stroke="#000" stroke-width="1.6"/>
<line x1="180.48" y1="255" x2="180.48" y2="258" stroke="#000" stroke-width="1.6"/>
<line x1="249.32" y1="255" x2="249.32" y2="258" stroke="#000" stroke-width="1.6"/>
<line x1="318.18" y1="255" x2="318.18" y2="258" stroke="#000" stroke-width="1.6"/>
<line x1="387" y1="255" x2="387" y2="258" stroke="#000" stroke-width="1.6"/>
<line x1="72" y1="240.40" x2="77" y2="240.40" stroke="#000" stroke-width="1.6"/>
<text x="68.4" y="243.90" text-anchor="end" class="tk">80</text>
<line x1="72" y1="184.50" x2="77" y2="184.50" stroke="#000" stroke-width="1.6"/>
<text x="68.4" y="188.00" text-anchor="end" class="tk">120</text>
<line x1="72" y1="128.60" x2="77" y2="128.60" stroke="#000" stroke-width="1.6"/>
<text x="68.4" y="132.10" text-anchor="end" class="tk">160</text>
<line x1="72" y1="72.70" x2="77" y2="72.70" stroke="#000" stroke-width="1.6"/>
<text x="68.4" y="76.20" text-anchor="end" class="tk">200</text>
<line x1="72" y1="16.80" x2="77" y2="16.80" stroke="#000" stroke-width="1.6"/>
<text x="68.4" y="20.30" text-anchor="end" class="tk">240</text>
<line x1="74" y1="212.45" x2="77" y2="212.45" stroke="#000" stroke-width="1.6"/>
<line x1="74" y1="156.55" x2="77" y2="156.55" stroke="#000" stroke-width="1.6"/>
<line x1="74" y1="100.65" x2="77" y2="100.65" stroke="#000" stroke-width="1.6"/>
<line x1="74" y1="44.75" x2="77" y2="44.75" stroke="#000" stroke-width="1.6"/>
<rect x="510.8" y="2.8" width="309.3" height="251.79999999999998" fill="none" stroke="#000" stroke-width="1.6"/>
<line x1="536.30" y1="254.6" x2="536.30" y2="259.6" stroke="#000" stroke-width="1.6"/>
<text x="536.30" y="272.1" text-anchor="middle" class="tk">0</text>
<line x1="587.75" y1="254.6" x2="587.75" y2="259.6" stroke="#000" stroke-width="1.6"/>
<text x="587.75" y="272.1" text-anchor="middle" class="tk">200</text>
<line x1="639.20" y1="254.6" x2="639.20" y2="259.6" stroke="#000" stroke-width="1.6"/>
<text x="639.20" y="272.1" text-anchor="middle" class="tk">400</text>
<line x1="690.65" y1="254.6" x2="690.65" y2="259.6" stroke="#000" stroke-width="1.6"/>
<text x="690.65" y="272.1" text-anchor="middle" class="tk">600</text>
<line x1="742.10" y1="254.6" x2="742.10" y2="259.6" stroke="#000" stroke-width="1.6"/>
<text x="742.10" y="272.1" text-anchor="middle" class="tk">800</text>
<line x1="793.55" y1="254.6" x2="793.55" y2="259.6" stroke="#000" stroke-width="1.6"/>
<text x="793.55" y="272.1" text-anchor="middle" class="tk">1000</text>
<line x1="562.02" y1="254.6" x2="562.02" y2="257.6" stroke="#000" stroke-width="1.6"/>
<line x1="613.48" y1="254.6" x2="613.48" y2="257.6" stroke="#000" stroke-width="1.6"/>
<line x1="664.93" y1="254.6" x2="664.93" y2="257.6" stroke="#000" stroke-width="1.6"/>
<line x1="716.38" y1="254.6" x2="716.38" y2="257.6" stroke="#000" stroke-width="1.6"/>
<line x1="767.83" y1="254.6" x2="767.83" y2="257.6" stroke="#000" stroke-width="1.6"/>
<line x1="510.8" y1="254.6" x2="510.8" y2="257.6" stroke="#000" stroke-width="1.6"/>
<line x1="820.1" y1="254.6" x2="820.1" y2="257.6" stroke="#000" stroke-width="1.6"/>
<line x1="505.8" y1="207.20" x2="510.8" y2="207.20" stroke="#000" stroke-width="1.6"/>
<text x="502" y="210.80" text-anchor="end" class="tk">120</text>
<line x1="505.8" y1="144.30" x2="510.8" y2="144.30" stroke="#000" stroke-width="1.6"/>
<text x="502" y="147.90" text-anchor="end" class="tk">160</text>
<line x1="505.8" y1="81.40" x2="510.8" y2="81.40" stroke="#000" stroke-width="1.6"/>
<text x="502" y="85.00" text-anchor="end" class="tk">200</text>
<line x1="505.8" y1="18.50" x2="510.8" y2="18.50" stroke="#000" stroke-width="1.6"/>
<text x="502" y="22.10" text-anchor="end" class="tk">240</text>
<line x1="507.8" y1="238.65" x2="510.8" y2="238.65" stroke="#000" stroke-width="1.6"/>
<line x1="507.8" y1="175.75" x2="510.8" y2="175.75" stroke="#000" stroke-width="1.6"/>
<line x1="507.8" y1="112.85" x2="510.8" y2="112.85" stroke="#000" stroke-width="1.6"/>
<line x1="507.8" y1="49.95" x2="510.8" y2="49.95" stroke="#000" stroke-width="1.6"/>
<rect x="77" y="353.6" width="310" height="251.10000000000002" fill="none" stroke="#000" stroke-width="1.6"/>
<line x1="77.20" y1="604.7" x2="77.20" y2="609.7" stroke="#000" stroke-width="1.6"/>
<text x="77.20" y="621.6" text-anchor="middle" class="tk">-0.2</text>
<line x1="145.60" y1="604.7" x2="145.60" y2="609.7" stroke="#000" stroke-width="1.6"/>
<text x="145.60" y="621.6" text-anchor="middle" class="tk">0.0</text>
<line x1="214.00" y1="604.7" x2="214.00" y2="609.7" stroke="#000" stroke-width="1.6"/>
<text x="214.00" y="621.6" text-anchor="middle" class="tk">0.2</text>
<line x1="282.40" y1="604.7" x2="282.40" y2="609.7" stroke="#000" stroke-width="1.6"/>
<text x="282.40" y="621.6" text-anchor="middle" class="tk">0.4</text>
<line x1="350.80" y1="604.7" x2="350.80" y2="609.7" stroke="#000" stroke-width="1.6"/>
<text x="350.80" y="621.6" text-anchor="middle" class="tk">0.6</text>
<line x1="111.40" y1="604.7" x2="111.40" y2="607.7" stroke="#000" stroke-width="1.6"/>
<line x1="179.80" y1="604.7" x2="179.80" y2="607.7" stroke="#000" stroke-width="1.6"/>
<line x1="248.20" y1="604.7" x2="248.20" y2="607.7" stroke="#000" stroke-width="1.6"/>
<line x1="316.60" y1="604.7" x2="316.60" y2="607.7" stroke="#000" stroke-width="1.6"/>
<line x1="387" y1="604.7" x2="387" y2="607.7" stroke="#000" stroke-width="1.6"/>
<line x1="72" y1="600.80" x2="77" y2="600.80" stroke="#000" stroke-width="1.6"/>
<text x="68.5" y="605.10" text-anchor="end" class="tk">0</text>
<line x1="72" y1="538.97" x2="77" y2="538.97" stroke="#000" stroke-width="1.6"/>
<text x="68.5" y="543.27" text-anchor="end" class="tk">30</text>
<line x1="72" y1="477.15" x2="77" y2="477.15" stroke="#000" stroke-width="1.6"/>
<text x="68.5" y="481.45" text-anchor="end" class="tk">60</text>
<line x1="72" y1="415.32" x2="77" y2="415.32" stroke="#000" stroke-width="1.6"/>
<text x="68.5" y="419.62" text-anchor="end" class="tk">90</text>
<line x1="72" y1="353.50" x2="77" y2="353.50" stroke="#000" stroke-width="1.6"/>
<text x="68.5" y="357.80" text-anchor="end" class="tk">120</text>
<line x1="74" y1="569.89" x2="77" y2="569.89" stroke="#000" stroke-width="1.6"/>
<line x1="74" y1="508.06" x2="77" y2="508.06" stroke="#000" stroke-width="1.6"/>
<line x1="74" y1="446.24" x2="77" y2="446.24" stroke="#000" stroke-width="1.6"/>
<line x1="74" y1="384.41" x2="77" y2="384.41" stroke="#000" stroke-width="1.6"/>
<rect x="510.8" y="353.5" width="309.40000000000003" height="251.5" fill="none" stroke="#000" stroke-width="1.6"/>
<line x1="529.70" y1="605" x2="529.70" y2="610" stroke="#000" stroke-width="1.6"/>
<text x="529.70" y="622.3" text-anchor="middle" class="tk">0</text>
<line x1="587.80" y1="605" x2="587.80" y2="610" stroke="#000" stroke-width="1.6"/>
<text x="587.80" y="622.3" text-anchor="middle" class="tk">150</text>
<line x1="645.90" y1="605" x2="645.90" y2="610" stroke="#000" stroke-width="1.6"/>
<text x="645.90" y="622.3" text-anchor="middle" class="tk">300</text>
<line x1="704.00" y1="605" x2="704.00" y2="610" stroke="#000" stroke-width="1.6"/>
<text x="704.00" y="622.3" text-anchor="middle" class="tk">450</text>
<line x1="762.10" y1="605" x2="762.10" y2="610" stroke="#000" stroke-width="1.6"/>
<text x="762.10" y="622.3" text-anchor="middle" class="tk">600</text>
<line x1="820.20" y1="605" x2="820.20" y2="610" stroke="#000" stroke-width="1.6"/>
<text x="820.20" y="622.3" text-anchor="middle" class="tk">750</text>
<line x1="558.75" y1="605" x2="558.75" y2="608" stroke="#000" stroke-width="1.6"/>
<line x1="616.85" y1="605" x2="616.85" y2="608" stroke="#000" stroke-width="1.6"/>
<line x1="674.95" y1="605" x2="674.95" y2="608" stroke="#000" stroke-width="1.6"/>
<line x1="733.05" y1="605" x2="733.05" y2="608" stroke="#000" stroke-width="1.6"/>
<line x1="791.15" y1="605" x2="791.15" y2="608" stroke="#000" stroke-width="1.6"/>
<line x1="505.8" y1="605.00" x2="510.8" y2="605.00" stroke="#000" stroke-width="1.6"/>
<text x="502" y="609.20" text-anchor="end" class="tk">0</text>
<line x1="505.8" y1="546.85" x2="510.8" y2="546.85" stroke="#000" stroke-width="1.6"/>
<text x="502" y="551.05" text-anchor="end" class="tk">30</text>
<line x1="505.8" y1="488.70" x2="510.8" y2="488.70" stroke="#000" stroke-width="1.6"/>
<text x="502" y="492.90" text-anchor="end" class="tk">60</text>
<line x1="505.8" y1="430.55" x2="510.8" y2="430.55" stroke="#000" stroke-width="1.6"/>
<text x="502" y="434.75" text-anchor="end" class="tk">90</text>
<line x1="505.8" y1="372.40" x2="510.8" y2="372.40" stroke="#000" stroke-width="1.6"/>
<text x="502" y="376.60" text-anchor="end" class="tk">120</text>
<line x1="507.8" y1="575.92" x2="510.8" y2="575.92" stroke="#000" stroke-width="1.6"/>
<line x1="507.8" y1="517.77" x2="510.8" y2="517.77" stroke="#000" stroke-width="1.6"/>
<line x1="507.8" y1="459.62" x2="510.8" y2="459.62" stroke="#000" stroke-width="1.6"/>
<line x1="507.8" y1="401.48" x2="510.8" y2="401.48" stroke="#000" stroke-width="1.6"/>
<rect x="77" y="704.1" width="310" height="251.39999999999998" fill="none" stroke="#000" stroke-width="1.6"/>
<line x1="77.20" y1="955.5" x2="77.20" y2="960.5" stroke="#000" stroke-width="1.6"/>
<text x="77.20" y="972.2" text-anchor="middle" class="tk">-0.4</text>
<line x1="133.40" y1="955.5" x2="133.40" y2="960.5" stroke="#000" stroke-width="1.6"/>
<text x="133.40" y="972.2" text-anchor="middle" class="tk">-0.2</text>
<line x1="189.60" y1="955.5" x2="189.60" y2="960.5" stroke="#000" stroke-width="1.6"/>
<text x="189.60" y="972.2" text-anchor="middle" class="tk">0.0</text>
<line x1="245.80" y1="955.5" x2="245.80" y2="960.5" stroke="#000" stroke-width="1.6"/>
<text x="245.80" y="972.2" text-anchor="middle" class="tk">0.2</text>
<line x1="302.00" y1="955.5" x2="302.00" y2="960.5" stroke="#000" stroke-width="1.6"/>
<text x="302.00" y="972.2" text-anchor="middle" class="tk">0.4</text>
<line x1="358.20" y1="955.5" x2="358.20" y2="960.5" stroke="#000" stroke-width="1.6"/>
<text x="358.20" y="972.2" text-anchor="middle" class="tk">0.6</text>
<line x1="105.30" y1="955.5" x2="105.30" y2="958.5" stroke="#000" stroke-width="1.6"/>
<line x1="161.50" y1="955.5" x2="161.50" y2="958.5" stroke="#000" stroke-width="1.6"/>
<line x1="217.70" y1="955.5" x2="217.70" y2="958.5" stroke="#000" stroke-width="1.6"/>
<line x1="273.90" y1="955.5" x2="273.90" y2="958.5" stroke="#000" stroke-width="1.6"/>
<line x1="330.10" y1="955.5" x2="330.10" y2="958.5" stroke="#000" stroke-width="1.6"/>
<line x1="387" y1="955.5" x2="387" y2="958.5" stroke="#000" stroke-width="1.6"/>
<line x1="72" y1="955.50" x2="77" y2="955.50" stroke="#000" stroke-width="1.6"/>
<text x="68.5" y="959.70" text-anchor="end" class="tk">30</text>
<line x1="72" y1="914.70" x2="77" y2="914.70" stroke="#000" stroke-width="1.6"/>
<text x="68.5" y="918.90" text-anchor="end" class="tk">60</text>
<line x1="72" y1="873.90" x2="77" y2="873.90" stroke="#000" stroke-width="1.6"/>
<text x="68.5" y="878.10" text-anchor="end" class="tk">90</text>
<line x1="72" y1="833.10" x2="77" y2="833.10" stroke="#000" stroke-width="1.6"/>
<text x="68.5" y="837.30" text-anchor="end" class="tk">120</text>
<line x1="72" y1="792.30" x2="77" y2="792.30" stroke="#000" stroke-width="1.6"/>
<text x="68.5" y="796.50" text-anchor="end" class="tk">150</text>
<line x1="72" y1="751.50" x2="77" y2="751.50" stroke="#000" stroke-width="1.6"/>
<text x="68.5" y="755.70" text-anchor="end" class="tk">180</text>
<line x1="72" y1="710.70" x2="77" y2="710.70" stroke="#000" stroke-width="1.6"/>
<text x="68.5" y="714.90" text-anchor="end" class="tk">210</text>
<line x1="74" y1="935.10" x2="77" y2="935.10" stroke="#000" stroke-width="1.6"/>
<line x1="74" y1="894.30" x2="77" y2="894.30" stroke="#000" stroke-width="1.6"/>
<line x1="74" y1="853.50" x2="77" y2="853.50" stroke="#000" stroke-width="1.6"/>
<line x1="74" y1="812.70" x2="77" y2="812.70" stroke="#000" stroke-width="1.6"/>
<line x1="74" y1="771.90" x2="77" y2="771.90" stroke="#000" stroke-width="1.6"/>
<line x1="74" y1="731.10" x2="77" y2="731.10" stroke="#000" stroke-width="1.6"/>
<rect x="510.4" y="704.1" width="309.9" height="251.79999999999995" fill="none" stroke="#000" stroke-width="1.6"/>
<line x1="532.40" y1="955.9" x2="532.40" y2="960.9" stroke="#000" stroke-width="1.6"/>
<text x="532.40" y="973" text-anchor="middle" class="tk">0</text>
<line x1="576.70" y1="955.9" x2="576.70" y2="960.9" stroke="#000" stroke-width="1.6"/>
<text x="576.70" y="973" text-anchor="middle" class="tk">100</text>
<line x1="621.00" y1="955.9" x2="621.00" y2="960.9" stroke="#000" stroke-width="1.6"/>
<text x="621.00" y="973" text-anchor="middle" class="tk">200</text>
<line x1="665.30" y1="955.9" x2="665.30" y2="960.9" stroke="#000" stroke-width="1.6"/>
<text x="665.30" y="973" text-anchor="middle" class="tk">300</text>
<line x1="709.60" y1="955.9" x2="709.60" y2="960.9" stroke="#000" stroke-width="1.6"/>
<text x="709.60" y="973" text-anchor="middle" class="tk">400</text>
<line x1="753.90" y1="955.9" x2="753.90" y2="960.9" stroke="#000" stroke-width="1.6"/>
<text x="753.90" y="973" text-anchor="middle" class="tk">500</text>
<line x1="798.20" y1="955.9" x2="798.20" y2="960.9" stroke="#000" stroke-width="1.6"/>
<text x="798.20" y="973" text-anchor="middle" class="tk">600</text>
<line x1="554.55" y1="955.9" x2="554.55" y2="958.9" stroke="#000" stroke-width="1.6"/>
<line x1="598.85" y1="955.9" x2="598.85" y2="958.9" stroke="#000" stroke-width="1.6"/>
<line x1="643.15" y1="955.9" x2="643.15" y2="958.9" stroke="#000" stroke-width="1.6"/>
<line x1="687.45" y1="955.9" x2="687.45" y2="958.9" stroke="#000" stroke-width="1.6"/>
<line x1="731.75" y1="955.9" x2="731.75" y2="958.9" stroke="#000" stroke-width="1.6"/>
<line x1="776.05" y1="955.9" x2="776.05" y2="958.9" stroke="#000" stroke-width="1.6"/>
<line x1="510.4" y1="955.9" x2="510.4" y2="958.9" stroke="#000" stroke-width="1.6"/>
<line x1="820.3" y1="955.9" x2="820.3" y2="958.9" stroke="#000" stroke-width="1.6"/>
<line x1="505.4" y1="940.80" x2="510.4" y2="940.80" stroke="#000" stroke-width="1.6"/>
<text x="502" y="944.50" text-anchor="end" class="tk">60</text>
<line x1="505.4" y1="896.42" x2="510.4" y2="896.42" stroke="#000" stroke-width="1.6"/>
<text x="502" y="900.12" text-anchor="end" class="tk">90</text>
<line x1="505.4" y1="852.04" x2="510.4" y2="852.04" stroke="#000" stroke-width="1.6"/>
<text x="502" y="855.74" text-anchor="end" class="tk">120</text>
<line x1="505.4" y1="807.66" x2="510.4" y2="807.66" stroke="#000" stroke-width="1.6"/>
<text x="502" y="811.36" text-anchor="end" class="tk">150</text>
<line x1="505.4" y1="763.28" x2="510.4" y2="763.28" stroke="#000" stroke-width="1.6"/>
<text x="502" y="766.98" text-anchor="end" class="tk">180</text>
<line x1="505.4" y1="718.90" x2="510.4" y2="718.90" stroke="#000" stroke-width="1.6"/>
<text x="502" y="722.60" text-anchor="end" class="tk">210</text>
<line x1="507.4" y1="918.61" x2="510.4" y2="918.61" stroke="#000" stroke-width="1.6"/>
<line x1="507.4" y1="874.23" x2="510.4" y2="874.23" stroke="#000" stroke-width="1.6"/>
<line x1="507.4" y1="829.85" x2="510.4" y2="829.85" stroke="#000" stroke-width="1.6"/>
<line x1="507.4" y1="785.47" x2="510.4" y2="785.47" stroke="#000" stroke-width="1.6"/>
<line x1="507.4" y1="741.09" x2="510.4" y2="741.09" stroke="#000" stroke-width="1.6"/>
<text x="222.6" y="26.5" text-anchor="middle" class="pl">(a)</text>
<text x="663.3" y="25.5" text-anchor="middle" class="pl">(b)</text>
<text x="226.6" y="375.5" text-anchor="middle" class="pl">(c)</text>
<text x="662.5" y="374.5" text-anchor="middle" class="pl">(d)</text>
<text x="216.8" y="726.7" text-anchor="middle" class="pl">(e)</text>
<text x="662.3" y="728.5" text-anchor="middle" class="pl">(f)</text>
<text x="215.2" y="290.6" text-anchor="middle" class="st">Potential/V Vs Ag/AgCl</text>
<text x="227.3" y="639.2" text-anchor="middle" class="st">Potential/V Vs Ag/AgCl</text>
<text x="223.7" y="987.4" text-anchor="middle" class="st">Potential/V Vs Ag/AgCl</text>
<text transform="translate(12.7,134) rotate(-90)" text-anchor="middle" class="st">Current/&#956;A</text>
<text transform="translate(18.7,487.9) rotate(-90)" text-anchor="middle" class="st">Current/&#956;A</text>
<text transform="translate(19.3,838.5) rotate(-90)" text-anchor="middle" class="st">Current/&#956;A</text>
<text transform="translate(458,140.9) rotate(-90)" text-anchor="middle" class="ss">Current/<tspan style="font-size:11px;font-family:'Liberation Serif', serif;font-weight:normal">&#956;</tspan>A</text>
<text transform="translate(459.8,487.8) rotate(-90)" text-anchor="middle" class="ss">Current/<tspan style="font-size:11px;font-family:'Liberation Serif', serif;font-weight:normal">&#956;</tspan>A</text>
<text transform="translate(455,837.9) rotate(-90)" text-anchor="middle" class="ss">Current/<tspan style="font-size:11px;font-family:'Liberation Serif', serif;font-weight:normal">&#956;</tspan>A</text>
<text x="638.5" y="297.2" class="cx">C<tspan dy="6.5" style="font-size:13px">DA</tspan><tspan dy="-6.5">/&#956;M</tspan></text>
<text x="652" y="647.7" class="cx">C<tspan dy="6.5" style="font-size:13px">DA</tspan><tspan dy="-6.5">/&#956;M</tspan></text>
<text x="636.2" y="988.8" style="font-family:'Liberation Sans', sans-serif;font-weight:bold;font-size:12.5px;stroke:#000;stroke-width:0.2px">C</text>
<text x="646.5" y="994" style="font-family:'Liberation Sans', sans-serif;font-weight:bold;font-size:13.5px;stroke:#000;stroke-width:0.2px">DA</text>
<text x="667" y="993.6" class="cx" style="font-size:21.5px">/</text>
<text x="674.3" y="993.6" class="cx" style="font-size:21.5px">&#956;</text>
<text x="685" y="993.6" class="cx" style="font-size:21px;font-weight:bold;stroke-width:0.1px">M</text>
</svg></body></html>
